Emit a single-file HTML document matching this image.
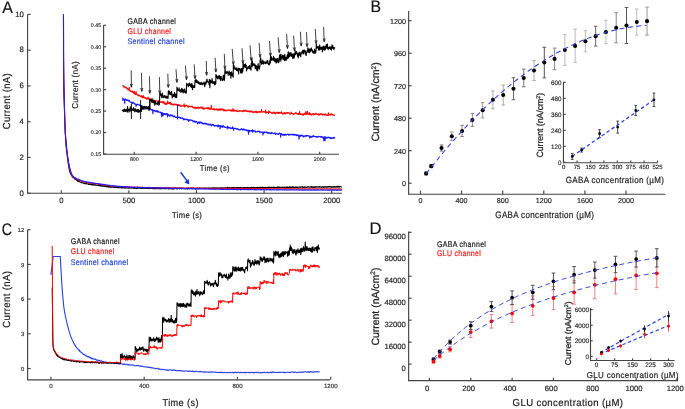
<!DOCTYPE html>
<html><head><meta charset="utf-8"><style>
html,body{margin:0;padding:0;background:#fff;overflow:hidden;}
svg{display:block;will-change:transform;}
text{font-family:"Liberation Sans", sans-serif;text-rendering:geometricPrecision;}
</style></head><body>
<svg width="685" height="409" viewBox="0 0 685 409">
<rect width="685" height="409" fill="#fff"/>
<text transform="translate(2.2,12.9) scale(0.95,1)" font-size="16.8" fill="#111" stroke="#111" stroke-width="0.15">A</text>
<line x1="27.55" y1="14.4" x2="27.55" y2="193.7" stroke="#444" stroke-width="1.15"/>
<line x1="27.55" y1="193.2" x2="342" y2="193.2" stroke="#444" stroke-width="1.15"/>
<line x1="27.55" y1="193.2" x2="30.55" y2="193.2" stroke="#444" stroke-width="1.15"/>
<text transform="translate(23.95,195.5)" font-size="7.8" text-anchor="end" fill="#222" stroke="#222" stroke-width="0.17">0</text>
<line x1="27.55" y1="157.44" x2="30.55" y2="157.44" stroke="#444" stroke-width="1.15"/>
<text transform="translate(23.95,159.74)" font-size="7.8" text-anchor="end" fill="#222" stroke="#222" stroke-width="0.17">2</text>
<line x1="27.55" y1="121.68" x2="30.55" y2="121.68" stroke="#444" stroke-width="1.15"/>
<text transform="translate(23.95,123.98)" font-size="7.8" text-anchor="end" fill="#222" stroke="#222" stroke-width="0.17">4</text>
<line x1="27.55" y1="85.92" x2="30.55" y2="85.92" stroke="#444" stroke-width="1.15"/>
<text transform="translate(23.95,88.22)" font-size="7.8" text-anchor="end" fill="#222" stroke="#222" stroke-width="0.17">6</text>
<line x1="27.55" y1="50.16" x2="30.55" y2="50.16" stroke="#444" stroke-width="1.15"/>
<text transform="translate(23.95,52.46)" font-size="7.8" text-anchor="end" fill="#222" stroke="#222" stroke-width="0.17">8</text>
<line x1="27.55" y1="14.4" x2="30.55" y2="14.4" stroke="#444" stroke-width="1.15"/>
<text transform="translate(23.95,16.7)" font-size="7.8" text-anchor="end" fill="#222" stroke="#222" stroke-width="0.17">10</text>
<line x1="61.3" y1="193.2" x2="61.3" y2="190.2" stroke="#444" stroke-width="1.15"/>
<text transform="translate(61.3,202.5)" font-size="7.7" text-anchor="middle" fill="#222" stroke="#222" stroke-width="0.17">0</text>
<line x1="128.9" y1="193.2" x2="128.9" y2="190.2" stroke="#444" stroke-width="1.15"/>
<text transform="translate(128.9,202.5)" font-size="7.7" text-anchor="middle" fill="#222" stroke="#222" stroke-width="0.17">500</text>
<line x1="196.5" y1="193.2" x2="196.5" y2="190.2" stroke="#444" stroke-width="1.15"/>
<text transform="translate(196.5,202.5)" font-size="7.7" text-anchor="middle" fill="#222" stroke="#222" stroke-width="0.17">1000</text>
<line x1="264.1" y1="193.2" x2="264.1" y2="190.2" stroke="#444" stroke-width="1.15"/>
<text transform="translate(264.1,202.5)" font-size="7.7" text-anchor="middle" fill="#222" stroke="#222" stroke-width="0.17">1500</text>
<line x1="331.7" y1="193.2" x2="331.7" y2="190.2" stroke="#444" stroke-width="1.15"/>
<text transform="translate(331.7,202.5)" font-size="7.7" text-anchor="middle" fill="#222" stroke="#222" stroke-width="0.17">2000</text>
<text transform="translate(187,218.4) scale(0.8985,1)" font-size="8.5" text-anchor="middle" textLength="33.17" lengthAdjust="spacing" fill="#222" stroke="#222" stroke-width="0.19">Time (s)</text>
<text transform="translate(9.5,101.3) rotate(-90) scale(0.9282,1)" font-size="10.2" text-anchor="middle" textLength="60.33" lengthAdjust="spacing" fill="#222" stroke="#222" stroke-width="0.2">Current (nA)</text>
<polyline points="63.33,14.4 63.41,14.4 63.48,14.4 63.56,58.11 63.64,71.81 63.71,79.13 63.79,84.84 63.87,89 63.94,92.65 64.02,95.74 64.1,98.54 64.18,101.05 64.25,103.97 64.33,106.64 64.41,109.48 64.48,111.94 64.56,114.65 64.64,117.23 64.71,119.73 64.79,121.92 64.87,124.06 64.95,126.2 65.02,127.84 65.1,129.77 65.18,132.33 65.25,133.8 65.33,134.96 65.41,136.44 65.48,137.61 65.56,138.83 65.64,139.58 65.72,141.36 65.79,142.24 65.87,142.71 65.95,143.95 66.02,144.84 66.1,145.96 66.18,147.03 66.25,147.43 66.33,148.21 66.41,149.24 66.49,149.84 66.56,150.41 66.64,151.28 66.72,151.77 66.79,152.38 66.87,153.03 66.95,153.78 67.02,154.17 67.1,154.72 67.18,155.46 67.26,156.31 67.33,156.58 67.41,157.45 67.49,157.76 67.56,158.78 67.64,158.95 67.72,159.74 67.79,160.59 67.87,160.96 67.95,161.45 68.03,161.96 68.1,162.78 68.18,163.35 68.26,163.6 68.33,164.27 68.41,164.63 68.49,165.01 68.56,166.02 68.64,166.09 68.72,166.34 68.8,167.12 68.87,167.67 68.95,167.76 69.03,168.28 69.1,168.54 69.18,169.19 69.26,169.8 69.33,169.86 69.41,170.28 69.41,170.02 69.61,170.98 69.82,172.11 70.02,172.65 70.22,172.74 70.43,173.25 70.63,173.96 70.83,174.22 71.03,174.49 71.24,174.83 71.44,175.07 71.64,175.51 71.85,175.87 72.05,176.17 72.25,176.14 72.45,177.09 72.66,176.87 72.86,177.05 73.06,177.57 73.27,177.4 73.47,177.8 73.67,177.66 73.87,178.05 74.08,178.06 74.28,178.11 74.48,178.46 74.68,178.89 74.89,179.19 75.09,178.65 75.29,179.2 75.5,179.48 75.7,179.45 75.9,179.67 76.1,179.59 76.31,179.9 76.51,180.04 76.71,180.33 76.92,180.21 77.12,180.66 77.32,180.42 77.52,180.35 77.73,181.13 77.93,181.44 78.13,180.89 78.34,180.59 78.54,181.46 78.74,181.61 78.94,181.32 79.15,181.72 79.35,181.75 79.55,181.81 79.75,181.71 79.96,182 80.16,181.93 80.36,182.12 80.57,182.34 80.77,182.3 80.97,182.52 81.17,182.38 81.38,182.7 81.58,182.76 81.78,182.28 81.99,182.67 82.19,182.73 82.39,182.67 82.59,182.93 82.8,182.95 83,182.86 83.2,182.95 83.41,183.31 83.61,182.93 83.81,183.29 84.01,183.44 84.22,183.45 84.42,183.39 84.62,183 84.82,183.64 85.03,183.4 85.23,183.94 85.43,183.52 85.64,183.37 85.84,183.65 86.04,183.77 86.24,183.63 86.45,183.56 86.65,183.61 86.85,183.36 87.06,183.78 87.26,183.98 87.46,183.92 87.66,183.94 87.87,183.93 88.07,183.99 88.27,183.98 88.48,184.41 88.68,183.9 88.88,184.24 89.08,184.4 89.29,184.04 89.49,183.92 89.69,184.13 89.89,184.23 90.1,184.49 90.3,183.7 90.5,184.16 90.71,184.62 90.91,184.57 91.11,184.41 91.31,184.79 91.52,184.45 91.72,184.61 91.92,184.28 92.13,184.36 92.33,185.18 92.53,184.61 92.73,185 92.94,184.44 93.14,184.66 93.34,184.61 93.55,184.98 93.75,184.39 93.95,184.37 94.15,185.06 94.36,184.78 94.56,185.03 94.76,184.92 94.96,185.21 95.17,184.56 95.37,185.2 95.57,185.08 95.78,184.93 95.98,185.21 96.18,185.15 96.38,185.24 96.59,185.18 96.79,185.43 96.99,185.29 97.2,185.27 97.4,185.33 97.6,185.27 97.8,185.37 98.01,185.17 98.21,185.43 98.41,185.42 98.62,185.56 98.82,185.56 99.02,185.74 99.22,185.39 99.43,185.77 99.63,185.72 99.83,185.51 100.03,185.53 100.24,185.73 100.44,186.1 100.64,185.61 100.85,185.67 101.05,186.06 101.25,185.62 101.45,185.96 101.66,186.08 101.86,185.85 102.06,185.94 102.27,185.89 102.47,186.3 102.67,185.6 102.87,186.14 103.08,186.37 103.28,185.94 103.48,186.18 103.69,186.06 103.89,186.23 104.09,186.19 104.29,186.16 104.5,186.4 104.7,186.12 104.9,186.39 105.1,186.5 105.31,186.33 105.51,186.28 105.71,186.45 105.92,186.61 106.12,186.32 106.32,186.85 106.52,186.72 106.73,186.52 106.93,186.84 107.13,186.57 107.34,186.61 107.54,186.43 107.74,186.84 107.94,186.8 108.15,186.62 108.35,187.24 108.55,186.07 108.76,186.91 108.96,186.94 109.16,186.62 109.36,186.84 109.57,187.23 109.77,186.74 109.97,186.71 110.17,187.01 110.38,186.99 110.58,186.85 110.78,187.17 110.99,186.9 111.19,186.97 111.39,187.17 111.59,187.34 111.8,187.11 112,187.27 112.2,186.88 112.41,187.08 112.61,186.96 112.81,187.12 113.01,187.11 113.22,187.35 113.42,187.05 113.62,186.83 113.83,187.29 114.03,187.37 114.23,187.29 114.43,187.37 114.64,187.43 114.84,187.26 115.04,187.37 115.24,187.01 115.45,187.33 115.65,187.27 115.85,187.15 116.06,187.43 116.26,187.07 116.46,187.52 116.66,187.57 116.87,187.49 117.07,187.44 117.27,187.73 117.48,187.45 117.68,187.81 117.88,187.16 118.08,187.49 118.29,187.62 118.49,187.69 118.69,187.59 118.9,187.56 119.1,187.75 119.3,187.73 119.5,187.58 119.71,187.67 119.91,187.36 120.11,187.33 120.31,187.58 120.52,187.49 120.72,187.89 120.92,187.47 121.13,187.62 121.33,187.52 121.53,187.29 121.73,188.13 121.94,187.6 122.14,187.9 122.34,187.54 122.55,187.96 122.75,187.79 122.95,187.65 123.15,187.57 123.36,187.69 123.56,187.89 123.76,187.84 123.97,187.54 124.17,187.74 124.37,188.11 124.57,187.58 124.78,187.67 124.98,187.58 125.18,187.85 125.38,187.61 125.59,188.02 125.79,187.68 125.99,187.91 126.2,187.67 126.4,187.6 126.6,187.98 126.8,187.84 127.01,187.83 127.21,187.59 127.41,187.7 127.62,188.12 127.82,187.77 128.02,187.71 128.22,187.42 128.43,188.25 128.63,188.01 128.83,187.61 129.04,188.19 129.24,188.17 129.44,187.8 129.64,187.7 129.85,188.07 130.05,187.82 130.25,187.91 130.45,187.62 130.66,187.95 130.86,187.74 131.06,188.15 131.27,188 131.47,187.99 131.67,187.73 131.87,187.86 132.08,188.15 132.28,187.85 132.48,187.83 132.69,188.03 132.89,188.06 133.09,188.05 133.29,188.38 133.5,187.98 133.7,187.98 133.9,188.22 134.11,187.88 134.31,188.34 134.51,188.16 134.71,188.15 134.92,187.63 135.12,188.4 135.32,187.94 135.52,187.87 135.73,187.99 135.93,187.83 136.13,188.3 136.34,188.58 136.54,187.93 136.74,188.36 136.94,188.17 137.15,188.36 137.35,187.89 137.55,187.93 137.76,188.28 137.96,187.93 138.16,188.11 138.36,188.17 138.57,188.13 138.77,188.19 138.97,188.02 139.18,188.09 139.38,188.24 139.58,187.95 139.78,188.3 139.99,188.11 140.19,188.09 140.39,187.87 140.59,188.3 140.8,187.82 141,188.16 141.2,188.25 141.41,188.35 141.61,188.09 141.81,188.21 142.01,188.46 142.22,188.47 142.42,188.35 142.62,188.38 142.83,188.01 143.03,187.95 143.23,188.06 143.43,188.18 143.64,188.35 143.84,188.25 144.04,188.08 144.25,187.81 144.45,188.08 144.65,188.34 144.85,188.27 145.06,188.39 145.26,188.46 145.46,188.33 145.66,188.26 145.87,187.91 146.07,188.3 146.27,188.02 146.48,187.94 146.68,188.3 146.88,187.98 147.08,188.17 147.29,188.42 147.49,188.28 147.69,188.33 147.9,188.39 148.1,188.39 148.3,188.32 148.5,188.26 148.71,188.55 148.91,188.36 149.11,188.69 149.32,188.31 149.52,188.24 149.72,188.34 149.92,188.32 150.13,188.26 150.33,188.53 150.53,188.44 150.73,188.28 150.94,188.18 151.14,188.31 151.34,187.85 151.55,188.43 151.75,188.19 151.95,188.14 152.15,188.44 152.36,188.59 152.56,188.68 152.76,188.39 152.97,188.19 153.17,188.37 153.37,188.4 153.57,188.52 153.78,188.32 153.98,188.9 154.18,188.39 154.39,188.44 154.59,188.74 154.79,187.99 154.99,188.75 155.2,188.69 155.4,188.72 155.6,188.23 155.8,188.66 156.01,188.32 156.21,188.34 156.41,188.42 156.62,188.76 156.82,188.61 157.02,188.12 157.22,188.76 157.43,188.66 157.63,188.52 157.83,188.32 158.04,188.44 158.24,188.33 158.44,188.72 158.64,188.29 158.85,188.38 159.05,188.84 159.25,188.17 159.46,188.01 159.66,188.67 159.86,188.5 160.06,188.21 160.27,188.83 160.47,188.94 160.67,188.79 160.87,188.64 161.08,188.64 161.28,188.39 161.48,188.46 161.69,188.79 161.89,188.4 162.09,188.12 162.29,188.27 162.5,188.32 162.7,188.53 162.9,188.32 163.11,188.74 163.31,188.37 163.51,188.55 163.71,188.29 163.92,188.44 164.12,188.77 164.32,188.51 164.53,188.28 164.73,188.78 164.93,188.66 165.13,188.71 165.34,188.86 165.54,188.34 165.74,188.26 165.94,188.37 166.15,188.49 166.35,188.56 166.55,188.5 166.76,188.7 166.96,188.36 167.16,188.32 167.36,188.35 167.57,188.66 167.77,188.53 167.97,188.59 168.18,188.17 168.38,188.51 168.58,188.95 168.78,188.47 168.99,188.15 169.19,188.4 169.39,188.36 169.6,188.54 169.8,188.97 170,188.94 170.2,188.82 170.41,188.58 170.61,188.48 170.81,188.4 171.01,188.62 171.22,188.34 171.42,188.61 171.62,188.7 171.83,188.37 172.03,188.74 172.23,189.13 172.43,188.77 172.64,188.53 172.84,189.21 173.04,188.62 173.25,188.62 173.45,188.85 173.65,188.86 173.85,188.64 174.06,188.66 174.26,188.27 174.46,188.46 174.67,188.88 174.87,188.72 175.07,188.39 175.27,188.13 175.48,188.45 175.68,188.47 175.88,188.13 176.08,188.54 176.29,188.6 176.49,188.83 176.69,188.64 176.9,188.06 177.1,188.83 177.3,188.52 177.5,188.83 177.71,188.5 177.91,188.33 178.11,188.57 178.32,188.36 178.52,188.36 178.72,188.42 178.92,188.15 179.13,188.35 179.33,188.58 179.53,188.66 179.74,188.69 179.94,188.41 180.14,188.58 180.34,187.92 180.55,188.11 180.75,188.55 180.95,188.57 181.15,188.14 181.36,188.9 181.56,188.59 181.76,188.29 181.97,188.69 182.17,188.59 182.37,188.56 182.57,188.35 182.78,188.46 182.98,188.4 183.18,188.35 183.39,188.47 183.59,188.24 183.79,188.63 183.99,188.78 184.2,188.85 184.4,188.82 184.6,188.59 184.81,188.25 185.01,188.43 185.21,188.59 185.41,188.69 185.62,188.57 185.82,188.54 186.02,188.58 186.22,188.76 186.43,188.55 186.63,188.23 186.83,188.91 187.04,188.5 187.24,188.9 187.44,188.4 187.64,188.6 187.85,188.88 188.05,188.41 188.25,188.04 188.46,188.41 188.66,188.18 188.86,188.44 189.06,188.89 189.27,188.32 189.47,188.51 189.67,188.73 189.88,188.25 190.08,188.35 190.28,188.52 190.48,188.22 190.69,188.59 190.89,188.27 191.09,188.6 191.29,188.28 191.5,188.63 191.7,188.07 191.9,188.34 192.11,188.08 192.31,188.56 192.51,188.49 192.71,188.2 192.92,188.97 193.12,188.61 193.32,188.15 193.53,188.27 193.73,188.16 193.93,188.43 194.13,188.24 194.34,188.52 194.54,188.65 194.74,188.72 194.95,188.47 195.15,188.47 195.35,188.49 195.55,189.11 195.76,188.77 195.96,188.46 196.16,188.28 196.36,188.46 196.57,188.52 196.77,188.83 196.97,187.9 197.18,188.56 197.38,187.96 197.58,187.99 197.78,188.26 197.99,188.44 198.19,188.29 198.39,188.56 198.6,188.25 198.8,188.31 199,188.19 199.2,188.1 199.41,187.93 199.61,188.38 199.81,188.07 200.02,188.46 200.22,188.48 200.42,188.42 200.62,188.49 200.83,188.07 201.03,188.08 201.23,188 201.43,188.28 201.64,188.21 201.84,188.39 202.04,188.51 202.25,188.17 202.45,188.2 202.65,188.5 202.85,188.13 203.06,188.63 203.26,188.29 203.46,188.38 203.67,188.36 203.87,188.47 204.07,188.03 204.27,188.12 204.48,187.98 204.68,188.2 204.88,188.51 205.09,188.31 205.29,188.48 205.49,188.12 205.69,187.96 205.9,188.15 206.1,188.34 206.3,188.29 206.5,188.17 206.71,188.52 206.91,188.17 207.11,188.16 207.32,188.32 207.52,188.29 207.72,188.16 207.92,188.37 208.13,188.37 208.33,188.02 208.53,188.14 208.74,187.82 208.94,188.39 209.14,188.56 209.34,187.97 209.55,187.97 209.75,188.33 209.95,188.48 210.16,188.17 210.36,188.54 210.56,188.23 210.76,188.63 210.97,188.21 211.17,188.61 211.37,188.2 211.57,187.82 211.78,188.2 211.98,187.98 212.18,188.28 212.39,188.33 212.59,188.46 212.79,187.91 212.99,188.14 213.2,187.78 213.4,188.38 213.6,188.17 213.81,188.1 214.01,187.82 214.21,187.72 214.41,188.25 214.62,188.35 214.82,188.48 215.02,187.82 215.23,188.12 215.43,188.24 215.63,188.11 215.83,188.64 216.04,188.46 216.24,187.89 216.44,188 216.64,188.05 216.85,188.3 217.05,187.95 217.25,187.7 217.46,188.34 217.66,188.07 217.86,188.16 218.06,187.99 218.27,188.06 218.47,188.09 218.67,188.25 218.88,188.06 219.08,188.19 219.28,188.08 219.48,188.06 219.69,187.91 219.89,188.17 220.09,188.11 220.3,187.81 220.5,188.08 220.7,188.09 220.9,187.85 221.11,187.97 221.31,188.01 221.51,187.98 221.71,188.29 221.92,187.92 222.12,187.73 222.32,187.89 222.53,188.35 222.73,187.95 222.93,188.2 223.13,188.05 223.34,187.97 223.54,188.25 223.74,187.71 223.95,188.01 224.15,187.82 224.35,187.85 224.55,187.7 224.76,187.73 224.96,188.3 225.16,187.97 225.37,188.43 225.57,188.07 225.77,187.82 225.97,187.77 226.18,187.69 226.38,188.04 226.58,187.89 226.78,187.94 226.99,187.68 227.19,187.61 227.39,188.03 227.6,187.13 227.8,187.95 228,188.02 228.2,187.81 228.41,187.77 228.61,187.82 228.81,188.07 229.02,187.61 229.22,187.92 229.42,187.59 229.62,187.62 229.83,188.19 230.03,188.13 230.23,188.13 230.44,187.86 230.64,187.9 230.84,187.85 231.04,188.08 231.25,187.81 231.45,187.6 231.65,188.18 231.85,187.94 232.06,187.84 232.26,187.92 232.46,187.93 232.67,187.51 232.87,187.61 233.07,187.7 233.27,188.04 233.48,187.4 233.68,187.8 233.88,188 234.09,187.94 234.29,187.97 234.49,187.41 234.69,187.82 234.9,187.85 235.1,188.32 235.3,187.7 235.51,188.08 235.71,188.1 235.91,187.72 236.11,188.03 236.32,187.67 236.52,187.6 236.72,188.23 236.92,187.87 237.13,188.18 237.33,187.85 237.53,187.64 237.74,188.12 237.94,187.44 238.14,187.89 238.34,188.08 238.55,187.85 238.75,187.65 238.95,188.12 239.16,187.82 239.36,188.11 239.56,187.56 239.76,187.78 239.97,187.9 240.17,187.59 240.37,188.08 240.58,187.89 240.78,187.41 240.98,187.83 241.18,187.51 241.39,187.75 241.59,187.94 241.79,187.84 241.99,187.77 242.2,187.88 242.4,187.96 242.6,187.95 242.81,188.1 243.01,187.76 243.21,187.69 243.41,187.61 243.62,188.16 243.82,187.6 244.02,187.77 244.23,188.07 244.43,187.74 244.63,187.59 244.83,187.65 245.04,187.6 245.24,187.55 245.44,187.56 245.65,187.76 245.85,188.2 246.05,187.91 246.25,187.67 246.46,187.84 246.66,187.59 246.86,187.57 247.06,187.73 247.27,187.33 247.47,187.94 247.67,187.53 247.88,187.83 248.08,187.89 248.28,187.6 248.48,187.85 248.69,187.54 248.89,187.97 249.09,187.71 249.3,187.89 249.5,187.76 249.7,187.79 249.9,187.95 250.11,187.56 250.31,187.97 250.51,187.91 250.72,187.51 250.92,187.49 251.12,187.55 251.32,187.62 251.53,187.2 251.73,187.95 251.93,187.85 252.13,187.9 252.34,187.49 252.54,187.62 252.74,187.44 252.95,187.47 253.15,187.72 253.35,187.85 253.55,187.88 253.76,187.19 253.96,187.46 254.16,187.53 254.37,187.73 254.57,187.7 254.77,187.73 254.97,187.72 255.18,188.17 255.38,187.66 255.58,187.73 255.79,187.58 255.99,187.6 256.19,187.46 256.39,187.64 256.6,187.47 256.8,188.18 257,187.87 257.2,187.26 257.41,187.89 257.61,187.69 257.81,187.47 258.02,187.81 258.22,187.46 258.42,187.92 258.62,188.03 258.83,187.9 259.03,187.97 259.23,187.61 259.44,187.67 259.64,187.53 259.84,187.82 260.04,187.05 260.25,187.62 260.45,187.61 260.65,187.5 260.86,187.64 261.06,187.72 261.26,187.57 261.46,187.39 261.67,187.44 261.87,187.38 262.07,187.7 262.27,187.74 262.48,187.14 262.68,187.62 262.88,187.47 263.09,187.41 263.29,187.26 263.49,187.85 263.69,187.66 263.9,187.65 264.1,187.62 264.3,188.07 264.51,187.57 264.71,188.17 264.91,187.48 265.11,187.43 265.32,187.42 265.52,187.8 265.72,187.33 265.93,187.72 266.13,187.8 266.33,187.74 266.53,187.71 266.74,187.49 266.94,187.35 267.14,187.98 267.34,187.64 267.55,187.33 267.75,187.47 267.95,187.41 268.16,187.83 268.36,187.31 268.56,187.84 268.76,187.46 268.97,187.21 269.17,187.1 269.37,187.39 269.58,187.31 269.78,187.62 269.98,187.6 270.18,187.24 270.39,187.49 270.59,187.51 270.79,187.79 271,187.45 271.2,187.34 271.4,187.65 271.6,187.58 271.81,187.13 272.01,187.43 272.21,187.53 272.41,187.71 272.62,187.6 272.82,187.52 273.02,187.17 273.23,187.59 273.43,187.07 273.63,187.65 273.83,187.53 274.04,187.27 274.24,187.5 274.44,187.62 274.65,187.47 274.85,187.35 275.05,187.81 275.25,187.49 275.46,187.46 275.66,187.52 275.86,187.27 276.07,187.55 276.27,187.5 276.47,187.42 276.67,187.27 276.88,187.47 277.08,187.09 277.28,187.61 277.48,187.14 277.69,187.6 277.89,187.44 278.09,187.33 278.3,186.96 278.5,187.21 278.7,187.49 278.9,187.12 279.11,187.44 279.31,187.56 279.51,187.3 279.72,187.37 279.92,187.18 280.12,187.5 280.32,187.3 280.53,187.25 280.73,187.32 280.93,187.38 281.14,187.53 281.34,187.18 281.54,187.34 281.74,187.26 281.95,187.44 282.15,187.36 282.35,187.59 282.55,187.34 282.76,187.19 282.96,187.34 283.16,187.17 283.37,187.29 283.57,187.06 283.77,187.39 283.97,187.7 284.18,187.25 284.38,187.38 284.58,187.55 284.79,187.2 284.99,187.28 285.19,187.24 285.39,187.4 285.6,187.29 285.8,187.27 286,186.94 286.21,187.47 286.41,187.32 286.61,187.24 286.81,187.69 287.02,187.66 287.22,186.85 287.42,187.69 287.62,187.18 287.83,187.49 288.03,187.47 288.23,187.73 288.44,187.49 288.64,187.13 288.84,187.59 289.04,187.17 289.25,187.22 289.45,186.86 289.65,187.39 289.86,187.01 290.06,187.09 290.26,187.34 290.46,187.64 290.67,186.95 290.87,187.57 291.07,187.37 291.28,187.08 291.48,187.03 291.68,187.45 291.88,187.27 292.09,187.32 292.29,187.01 292.49,186.72 292.69,187.65 292.9,187.06 293.1,187.86 293.3,187.25 293.51,187.49 293.71,186.82 293.91,187.21 294.11,187.4 294.32,187.35 294.52,187.36 294.72,187.19 294.93,187.27 295.13,187.09 295.33,186.9 295.53,187.08 295.74,187.49 295.94,187.57 296.14,187.38 296.35,186.99 296.55,187.29 296.75,187.36 296.95,187.18 297.16,187.51 297.36,187.45 297.56,187.1 297.76,187.27 297.97,187.3 298.17,187.13 298.37,187.32 298.58,187.34 298.78,187.29 298.98,187.06 299.18,187.18 299.39,187.44 299.59,187.25 299.79,187.04 300,186.78 300.2,187.42 300.4,187.1 300.6,187.23 300.81,187 301.01,187.07 301.21,186.85 301.42,187.05 301.62,187.28 301.82,187.28 302.02,187.07 302.23,187.07 302.43,186.64 302.63,186.79 302.83,187.4 303.04,187.07 303.24,187.43 303.44,187.5 303.65,186.98 303.85,187.02 304.05,187.36 304.25,186.78 304.46,187.34 304.66,187.38 304.86,186.99 305.07,187.08 305.27,187.16 305.47,187.14 305.67,187.07 305.88,187.15 306.08,187.16 306.28,187.52 306.49,187.4 306.69,186.98 306.89,187.26 307.09,186.99 307.3,186.84 307.5,187.18 307.7,187.04 307.9,186.65 308.11,186.95 308.31,186.7 308.51,186.76 308.72,186.93 308.92,187.11 309.12,187.27 309.32,187.32 309.53,186.98 309.73,186.98 309.93,187.12 310.14,186.9 310.34,187.2 310.54,186.83 310.74,187.06 310.95,187.08 311.15,187.07 311.35,187.09 311.56,186.53 311.76,187.41 311.96,187.02 312.16,186.79 312.37,186.9 312.57,187.12 312.77,186.68 312.97,187.28 313.18,187.33 313.38,186.92 313.58,187.35 313.79,187.55 313.99,186.85 314.19,186.87 314.39,186.88 314.6,187.14 314.8,186.99 315,187.24 315.21,186.65 315.41,186.85 315.61,186.86 315.81,187.44 316.02,186.84 316.22,186.7 316.42,186.75 316.63,186.84 316.83,187.01 317.03,187.08 317.23,186.88 317.44,186.92 317.64,186.95 317.84,187.07 318.04,186.64 318.25,187.25 318.45,187 318.65,187.12 318.86,186.77 319.06,186.68 319.26,186.72 319.46,186.82 319.67,187.28 319.87,186.53 320.07,186.87 320.28,187 320.48,186.97 320.68,187.04 320.88,186.88 321.09,186.9 321.29,187.04 321.49,187.51 321.7,186.97 321.9,186.86 322.1,186.84 322.3,186.99 322.51,186.86 322.71,186.73 322.91,187.05 323.11,186.63 323.32,187.36 323.52,187.21 323.72,187.14 323.93,187.46 324.13,187.15 324.33,186.67 324.53,186.67 324.74,186.91 324.94,186.56 325.14,186.88 325.35,187.03 325.55,186.87 325.75,186.95 325.95,186.76 326.16,187.24 326.36,186.7 326.56,187.01 326.77,186.73 326.97,187.24 327.17,187 327.37,186.89 327.58,186.71 327.78,187.16 327.98,186.54 328.18,186.79 328.39,187.01 328.59,186.63 328.79,186.87 329,186.64 329.2,186.39 329.4,186.72 329.6,187 329.81,186.97 330.01,186.75 330.21,186.82 330.42,187.05 330.62,187.02 330.82,186.73 331.02,186.37 331.23,187.43 331.43,186.71 331.63,186.91 331.84,186.69 332.04,186.67 332.24,186.85 332.44,187.07 332.65,187.15 332.85,187.25 333.05,186.59 333.25,186.89 333.46,186.96 333.66,186.9 333.86,187.13 334.07,186.77 334.27,186.55 334.47,186.59 334.67,187.17 334.88,186.54 335.08,186.99 335.28,187.24 335.49,187.09 335.69,187.03 335.89,186.82 336.09,187.04 336.3,187.14 336.5,186.87 336.7,186.4 336.91,186.96 337.11,186.71 337.31,186.79 337.51,186.24 337.72,187.21 337.92,186.57 338.12,187.08 338.32,186.93 338.53,186.82 338.73,186.11 338.93,186.96 339.14,187.2 339.34,186.51 339.54,186.97 339.74,186.84 339.95,186.79 340.15,186.76 340.35,186.82 340.56,186.72 340.76,186.69 340.96,186.59 341.16,186.86 341.37,186.93 341.57,187 341.77,186.64" fill="none" stroke="#000" stroke-width="1.05" stroke-linejoin="round"/>
<polyline points="63.33,14.4 63.41,14.4 63.48,14.4 63.56,56 63.64,68.43 63.71,75.42 63.79,80.95 63.87,85.18 63.94,88.83 64.02,92.02 64.1,94.66 64.18,97.49 64.25,100.22 64.33,103.15 64.41,105.9 64.48,108.78 64.56,111.46 64.64,114.24 64.71,116.73 64.79,119.3 64.87,121.47 64.95,123.77 65.02,125.87 65.1,127.85 65.18,129.86 65.25,131.4 65.33,132.86 65.41,134.72 65.48,136.06 65.56,137.22 65.64,138.01 65.72,139.03 65.79,139.82 65.87,140.72 65.95,141.63 66.02,142.49 66.1,143.37 66.18,144.08 66.25,145.1 66.33,145.81 66.41,146.5 66.49,147.09 66.56,148.09 66.64,148.85 66.72,149.49 66.79,150.02 66.87,150.83 66.95,151.32 67.02,152.31 67.1,152.63 67.18,153.27 67.26,154.15 67.33,154.59 67.41,155.09 67.49,155.82 67.56,156.32 67.64,156.77 67.72,157.58 67.79,158.22 67.87,158.84 67.95,159.24 68.03,159.87 68.1,160.4 68.18,160.92 68.26,161.34 68.33,162.02 68.41,162.54 68.49,163.1 68.56,163.16 68.64,163.71 68.72,163.98 68.8,164.54 68.87,165 68.95,165.24 69.03,165.65 69.1,166.12 69.18,166.42 69.26,166.47 69.33,166.96 69.41,167.28 69.41,167.36 69.61,168.25 69.82,168.89 70.02,169.77 70.22,170.59 70.43,171.22 70.63,171.97 70.83,172.48 71.03,172.97 71.24,173.73 71.44,173.99 71.64,174.68 71.85,175.02 72.05,175.51 72.25,175.79 72.45,176.07 72.66,176.39 72.86,176.65 73.06,176.87 73.27,177.09 73.47,177.36 73.67,177.4 73.87,177.49 74.08,177.6 74.28,177.77 74.48,177.72 74.68,178.08 74.89,178.29 75.09,178.16 75.29,178.59 75.5,178.48 75.7,178.8 75.9,178.76 76.1,179.11 76.31,178.91 76.51,179.12 76.71,179.3 76.92,179.12 77.12,179.31 77.32,179.48 77.52,179.67 77.73,179.69 77.93,179.79 78.13,179.79 78.34,179.87 78.54,180.12 78.74,180.2 78.94,180.28 79.15,180.45 79.35,180.45 79.55,180.48 79.75,180.48 79.96,180.49 80.16,180.79 80.36,180.72 80.57,180.9 80.77,180.71 80.97,181 81.17,181.01 81.38,181.24 81.58,181.29 81.78,181.25 81.99,181.37 82.19,181.36 82.39,181.63 82.59,181.45 82.8,181.67 83,181.45 83.2,181.72 83.41,181.63 83.61,181.95 83.81,181.81 84.01,182 84.22,182.01 84.42,182 84.62,182.09 84.82,182.07 85.03,182.07 85.23,182.12 85.43,182.25 85.64,182.43 85.84,182.41 86.04,182.38 86.24,182.63 86.45,182.36 86.65,182.5 86.85,182.54 87.06,182.45 87.26,182.52 87.46,182.6 87.66,182.77 87.87,182.66 88.07,182.69 88.27,182.85 88.48,182.68 88.68,182.77 88.88,183.07 89.08,182.87 89.29,183.05 89.49,182.82 89.69,182.89 89.89,183.12 90.1,183.13 90.3,183.05 90.5,183.12 90.71,182.96 90.91,183.07 91.11,183.21 91.31,183.14 91.52,183.45 91.72,183.22 91.92,183.19 92.13,183.33 92.33,183.41 92.53,183.3 92.73,183.18 92.94,183.4 93.14,183.56 93.34,183.32 93.55,183.7 93.75,183.47 93.95,183.61 94.15,183.48 94.36,183.69 94.56,183.49 94.76,183.62 94.96,183.87 95.17,183.92 95.37,183.77 95.57,183.62 95.78,183.77 95.98,183.81 96.18,183.86 96.38,183.79 96.59,183.85 96.79,183.89 96.99,184.05 97.2,183.85 97.4,183.85 97.6,184.17 97.8,183.81 98.01,184.01 98.21,184.16 98.41,184.34 98.62,184.1 98.82,184.14 99.02,184.29 99.22,184.45 99.43,184.16 99.63,184.38 99.83,184.39 100.03,184.07 100.24,184.17 100.44,184.33 100.64,184.51 100.85,184.42 101.05,184.77 101.25,184.54 101.45,184.67 101.66,184.75 101.86,184.81 102.06,184.62 102.27,184.7 102.47,184.72 102.67,184.68 102.87,184.89 103.08,184.96 103.28,185.05 103.48,184.92 103.69,184.84 103.89,184.96 104.09,184.91 104.29,185.13 104.5,185.09 104.7,185.15 104.9,185.23 105.1,184.92 105.31,185.06 105.51,185.26 105.71,185.29 105.92,185.24 106.12,185.42 106.32,185.25 106.52,185.46 106.73,185.39 106.93,185.49 107.13,185.46 107.34,185.57 107.54,185.63 107.74,185.59 107.94,185.58 108.15,185.57 108.35,185.55 108.55,185.42 108.76,185.52 108.96,185.66 109.16,185.58 109.36,185.76 109.57,185.55 109.77,185.67 109.97,185.9 110.17,185.7 110.38,185.71 110.58,186.11 110.78,185.93 110.99,185.92 111.19,186.1 111.39,186.02 111.59,186.03 111.8,185.9 112,185.94 112.2,185.71 112.41,186.05 112.61,185.91 112.81,186.04 113.01,186.04 113.22,186.21 113.42,186.31 113.62,186.2 113.83,186.06 114.03,185.98 114.23,186.11 114.43,186.13 114.64,186.29 114.84,186.05 115.04,186.09 115.24,186.3 115.45,186.27 115.65,186.38 115.85,186.13 116.06,186.26 116.26,186.33 116.46,186.29 116.66,186.3 116.87,186.4 117.07,186.51 117.27,186.52 117.48,186.59 117.68,186.36 117.88,186.19 118.08,186.62 118.29,186.44 118.49,186.42 118.69,186.58 118.9,186.47 119.1,186.62 119.3,186.38 119.5,186.59 119.71,186.52 119.91,186.47 120.11,186.6 120.31,186.76 120.52,186.64 120.72,186.51 120.92,186.61 121.13,186.59 121.33,186.74 121.53,186.62 121.73,186.57 121.94,186.65 122.14,186.46 122.34,186.7 122.55,186.8 122.75,186.87 122.95,186.59 123.15,186.73 123.36,186.62 123.56,186.69 123.76,186.58 123.97,186.62 124.17,186.81 124.37,186.75 124.57,186.67 124.78,186.93 124.98,186.65 125.18,186.69 125.38,186.72 125.59,186.86 125.79,186.81 125.99,186.97 126.2,186.85 126.4,186.93 126.6,186.87 126.8,186.94 127.01,186.86 127.21,186.78 127.41,187.05 127.62,186.82 127.82,187.14 128.02,187.17 128.22,186.96 128.43,186.95 128.63,186.91 128.83,187.14 129.04,186.98 129.24,186.97 129.44,186.86 129.64,187.01 129.85,186.95 130.05,187.12 130.25,187.04 130.45,187.08 130.66,186.96 130.86,187.15 131.06,187.14 131.27,186.99 131.47,186.87 131.67,187.03 131.87,187.04 132.08,187.12 132.28,186.97 132.48,187.04 132.69,186.92 132.89,187.07 133.09,187.22 133.29,187.18 133.5,187.24 133.7,187.27 133.9,187.01 134.11,187.06 134.31,187.29 134.51,186.97 134.71,187.14 134.92,187.27 135.12,187.14 135.32,187.19 135.52,187.27 135.73,187.4 135.93,187.2 136.13,187.18 136.34,187.49 136.54,187.16 136.74,187.16 136.94,187.28 137.15,187.22 137.35,187.27 137.55,187.34 137.76,187.29 137.96,187.11 138.16,187.42 138.36,187.24 138.57,187.25 138.77,187.35 138.97,187.33 139.18,187.44 139.38,187.38 139.58,187.3 139.78,187.27 139.99,187.4 140.19,186.99 140.39,187.38 140.59,187.31 140.8,187.35 141,187.38 141.2,187.2 141.41,187.39 141.61,187.2 141.81,187.23 142.01,187.47 142.22,187.25 142.42,187.44 142.62,187.08 142.83,187.42 143.03,187.48 143.23,187.59 143.43,187.53 143.64,187.46 143.84,187.5 144.04,187.53 144.25,187.48 144.45,187.43 144.65,187.26 144.85,187.6 145.06,187.48 145.26,187.53 145.46,187.59 145.66,187.57 145.87,187.54 146.07,187.37 146.27,187.47 146.48,187.51 146.68,187.39 146.88,187.43 147.08,187.49 147.29,187.43 147.49,187.56 147.69,187.41 147.9,187.43 148.1,187.53 148.3,187.62 148.5,187.33 148.71,187.49 148.91,187.17 149.11,187.57 149.32,187.42 149.52,187.56 149.72,187.49 149.92,187.43 150.13,187.61 150.33,187.54 150.53,187.51 150.73,187.52 150.94,187.47 151.14,187.43 151.34,187.46 151.55,187.52 151.75,187.59 151.95,187.68 152.15,187.64 152.36,187.62 152.56,187.49 152.76,187.61 152.97,187.71 153.17,187.51 153.37,187.67 153.57,187.67 153.78,187.61 153.98,187.54 154.18,187.85 154.39,187.72 154.59,187.58 154.79,187.65 154.99,187.7 155.2,187.67 155.4,187.47 155.6,187.67 155.8,187.55 156.01,187.54 156.21,187.68 156.41,187.59 156.62,187.69 156.82,187.71 157.02,187.76 157.22,187.55 157.43,187.69 157.63,187.71 157.83,187.78 158.04,187.47 158.24,187.58 158.44,187.68 158.64,187.74 158.85,187.84 159.05,187.65 159.25,187.65 159.46,187.83 159.66,187.56 159.86,187.61 160.06,187.8 160.27,187.76 160.47,187.75 160.67,187.69 160.87,187.72 161.08,187.88 161.28,187.55 161.48,187.68 161.69,187.58 161.89,187.59 162.09,187.75 162.29,187.69 162.5,187.65 162.7,187.65 162.9,187.75 163.11,187.81 163.31,187.74 163.51,187.83 163.71,187.81 163.92,187.97 164.12,187.75 164.32,187.87 164.53,187.82 164.73,187.77 164.93,187.73 165.13,187.57 165.34,187.75 165.54,187.93 165.74,187.77 165.94,187.85 166.15,187.74 166.35,187.86 166.55,187.87 166.76,187.85 166.96,187.87 167.16,188 167.36,187.88 167.57,187.81 167.77,187.68 167.97,187.85 168.18,187.86 168.38,187.76 168.58,187.77 168.78,187.65 168.99,187.77 169.19,187.83 169.39,187.69 169.6,187.67 169.8,187.89 170,187.83 170.2,188.03 170.41,187.89 170.61,187.95 170.81,187.88 171.01,187.91 171.22,187.88 171.42,187.88 171.62,187.81 171.83,187.85 172.03,187.93 172.23,188.01 172.43,187.75 172.64,187.73 172.84,187.93 173.04,187.83 173.25,188.06 173.45,188.06 173.65,187.93 173.85,187.74 174.06,188.02 174.26,188 174.46,187.74 174.67,188.11 174.87,187.85 175.07,187.87 175.27,187.94 175.48,187.9 175.68,187.64 175.88,188.05 176.08,187.97 176.29,187.96 176.49,188.01 176.69,188.08 176.9,187.77 177.1,187.92 177.3,188.14 177.5,188.03 177.71,187.91 177.91,187.91 178.11,188.11 178.32,187.97 178.52,187.94 178.72,187.93 178.92,187.93 179.13,188.17 179.33,187.78 179.53,187.96 179.74,187.79 179.94,187.68 180.14,188 180.34,188.12 180.55,187.9 180.75,188.02 180.95,188.05 181.15,188.11 181.36,187.82 181.56,188.05 181.76,188.16 181.97,188.06 182.17,188.14 182.37,188 182.57,188.06 182.78,188.14 182.98,187.96 183.18,188.1 183.39,187.95 183.59,187.9 183.79,188.07 183.99,188.11 184.2,188.02 184.4,187.95 184.6,188.05 184.81,188.03 185.01,188.05 185.21,188.02 185.41,187.99 185.62,188.14 185.82,188.11 186.02,188.06 186.22,188.14 186.43,188.06 186.63,188.01 186.83,188.08 187.04,188.14 187.24,188.16 187.44,187.89 187.64,187.99 187.85,188.21 188.05,188.18 188.25,187.89 188.46,187.93 188.66,188.08 188.86,187.98 189.06,188.26 189.27,188.11 189.47,188.03 189.67,188.31 189.88,188.2 190.08,188.03 190.28,188 190.48,188.18 190.69,188.09 190.89,187.95 191.09,188.17 191.29,188.27 191.5,188.14 191.7,188.18 191.9,188 192.11,188.12 192.31,188.23 192.51,187.89 192.71,188.2 192.92,188.1 193.12,188.08 193.32,188.07 193.53,188.14 193.73,188.1 193.93,188.17 194.13,188.32 194.34,188.19 194.54,188.19 194.74,188.19 194.95,188.16 195.15,188.24 195.35,188.04 195.55,188.01 195.76,188.42 195.96,188.18 196.16,188.26 196.36,188.47 196.57,188.15 196.77,188.26 196.97,188.24 197.18,188.27 197.38,188.08 197.58,188.07 197.78,188.18 197.99,188.13 198.19,188.22 198.39,188.2 198.6,188.29 198.8,188.21 199,188.3 199.2,188.18 199.41,188.13 199.61,188.19 199.81,188.1 200.02,187.94 200.22,188.46 200.42,188.23 200.62,188.3 200.83,188.29 201.03,188.39 201.23,188.24 201.43,188.27 201.64,188.32 201.84,188.28 202.04,188.32 202.25,188.51 202.45,188.14 202.65,188.29 202.85,188.36 203.06,188.23 203.26,188.34 203.46,188.5 203.67,188.17 203.87,188.45 204.07,188.3 204.27,188.26 204.48,188.13 204.68,188.15 204.88,188.26 205.09,188.37 205.29,188.33 205.49,188.17 205.69,188.1 205.9,188.23 206.1,188.36 206.3,188.19 206.5,188.34 206.71,188.34 206.91,188.33 207.11,188.24 207.32,188.28 207.52,188.2 207.72,188.17 207.92,188.26 208.13,188.56 208.33,188.5 208.53,188.3 208.74,188.33 208.94,188.09 209.14,188.33 209.34,188.34 209.55,188.23 209.75,188.22 209.95,188.36 210.16,188.28 210.36,188.46 210.56,188.44 210.76,188.21 210.97,188.49 211.17,188.24 211.37,188.27 211.57,188.27 211.78,188.25 211.98,188.29 212.18,188.58 212.39,188.46 212.59,188.42 212.79,188.26 212.99,188.48 213.2,188.44 213.4,188.4 213.6,188.23 213.81,188.52 214.01,188.52 214.21,188.3 214.41,188.6 214.62,188.34 214.82,188.43 215.02,188.55 215.23,188.43 215.43,188.49 215.63,188.37 215.83,188.35 216.04,188.23 216.24,188.39 216.44,188.38 216.64,188.46 216.85,188.4 217.05,188.29 217.25,188.61 217.46,188.33 217.66,188.46 217.86,188.4 218.06,188.37 218.27,188.32 218.47,188.38 218.67,188.45 218.88,188.38 219.08,188.41 219.28,188.44 219.48,188.4 219.69,188.33 219.89,188.41 220.09,188.41 220.3,188.56 220.5,188.44 220.7,188.63 220.9,188.35 221.11,188.53 221.31,188.3 221.51,188.11 221.71,188.48 221.92,188.3 222.12,188.4 222.32,188.5 222.53,188.53 222.73,188.39 222.93,188.3 223.13,188.41 223.34,188.61 223.54,188.56 223.74,188.48 223.95,188.31 224.15,188.43 224.35,188.42 224.55,188.33 224.76,188.48 224.96,188.47 225.16,188.48 225.37,188.66 225.57,188.42 225.77,188.43 225.97,188.37 226.18,188.6 226.38,188.56 226.58,188.38 226.78,188.44 226.99,188.33 227.19,188.57 227.39,188.46 227.6,188.56 227.8,188.45 228,188.54 228.2,188.43 228.41,188.37 228.61,188.42 228.81,188.69 229.02,188.39 229.22,188.45 229.42,188.61 229.62,188.59 229.83,188.5 230.03,188.44 230.23,188.55 230.44,188.68 230.64,188.48 230.84,188.49 231.04,188.25 231.25,188.65 231.45,188.24 231.65,188.33 231.85,188.48 232.06,188.34 232.26,188.51 232.46,188.41 232.67,188.6 232.87,188.51 233.07,188.63 233.27,188.69 233.48,188.56 233.68,188.6 233.88,188.47 234.09,188.39 234.29,188.55 234.49,188.53 234.69,188.52 234.9,188.72 235.1,188.51 235.3,188.54 235.51,188.55 235.71,188.66 235.91,188.76 236.11,188.57 236.32,188.51 236.52,188.4 236.72,188.43 236.92,188.39 237.13,188.51 237.33,188.43 237.53,188.58 237.74,188.49 237.94,188.46 238.14,188.27 238.34,188.53 238.55,188.7 238.75,188.41 238.95,188.65 239.16,188.57 239.36,188.6 239.56,188.66 239.76,188.43 239.97,188.51 240.17,188.64 240.37,188.57 240.58,188.62 240.78,188.51 240.98,188.62 241.18,188.66 241.39,188.65 241.59,188.63 241.79,188.55 241.99,188.68 242.2,188.59 242.4,188.54 242.6,188.34 242.81,188.5 243.01,188.91 243.21,188.65 243.41,188.63 243.62,188.56 243.82,188.43 244.02,188.52 244.23,188.84 244.43,188.57 244.63,188.59 244.83,188.56 245.04,188.46 245.24,188.72 245.44,188.49 245.65,188.78 245.85,188.6 246.05,188.57 246.25,188.36 246.46,188.69 246.66,188.79 246.86,188.54 247.06,188.69 247.27,188.45 247.47,188.69 247.67,188.71 247.88,188.49 248.08,188.61 248.28,188.51 248.48,188.78 248.69,188.45 248.89,188.69 249.09,188.54 249.3,188.74 249.5,188.8 249.7,188.66 249.9,188.61 250.11,188.46 250.31,188.6 250.51,188.56 250.72,188.57 250.92,188.3 251.12,188.73 251.32,188.5 251.53,188.66 251.73,188.61 251.93,188.7 252.13,188.52 252.34,188.78 252.54,188.79 252.74,188.67 252.95,188.77 253.15,188.57 253.35,188.55 253.55,188.73 253.76,188.57 253.96,188.73 254.16,188.66 254.37,188.66 254.57,188.46 254.77,188.66 254.97,188.76 255.18,188.76 255.38,188.53 255.58,188.84 255.79,188.72 255.99,188.71 256.19,188.93 256.39,188.72 256.6,188.56 256.8,188.65 257,188.77 257.2,188.6 257.41,188.62 257.61,188.46 257.81,188.76 258.02,188.72 258.22,188.67 258.42,188.69 258.62,188.67 258.83,188.69 259.03,188.76 259.23,188.86 259.44,188.75 259.64,188.84 259.84,188.8 260.04,188.75 260.25,188.64 260.45,188.6 260.65,188.8 260.86,188.66 261.06,188.61 261.26,188.7 261.46,188.87 261.67,188.93 261.87,188.61 262.07,188.6 262.27,188.67 262.48,188.82 262.68,188.55 262.88,188.58 263.09,188.71 263.29,188.73 263.49,188.92 263.69,188.63 263.9,188.88 264.1,188.64 264.3,188.64 264.51,188.7 264.71,188.55 264.91,188.75 265.11,188.65 265.32,188.63 265.52,188.69 265.72,188.77 265.93,188.59 266.13,188.68 266.33,188.74 266.53,188.74 266.74,188.71 266.94,188.48 267.14,188.72 267.34,188.75 267.55,188.84 267.75,188.86 267.95,188.94 268.16,188.71 268.36,188.73 268.56,188.85 268.76,188.9 268.97,188.77 269.17,188.79 269.37,188.88 269.58,188.71 269.78,188.73 269.98,188.75 270.18,188.66 270.39,188.81 270.59,188.6 270.79,188.86 271,188.69 271.2,188.68 271.4,188.78 271.6,188.71 271.81,188.89 272.01,188.91 272.21,188.78 272.41,188.83 272.62,188.69 272.82,188.75 273.02,188.69 273.23,188.72 273.43,188.74 273.63,188.75 273.83,188.8 274.04,188.81 274.24,188.54 274.44,188.95 274.65,188.79 274.85,188.66 275.05,188.72 275.25,188.62 275.46,188.71 275.66,188.91 275.86,188.81 276.07,188.92 276.27,188.67 276.47,188.62 276.67,188.82 276.88,188.72 277.08,188.82 277.28,188.93 277.48,188.83 277.69,188.95 277.89,188.84 278.09,188.76 278.3,188.71 278.5,188.65 278.7,188.82 278.9,188.76 279.11,188.74 279.31,188.73 279.51,189.09 279.72,188.87 279.92,188.71 280.12,188.91 280.32,188.77 280.53,188.7 280.73,189 280.93,188.82 281.14,188.77 281.34,188.8 281.54,188.96 281.74,188.76 281.95,188.86 282.15,188.71 282.35,188.76 282.55,188.86 282.76,188.79 282.96,188.88 283.16,188.88 283.37,188.98 283.57,188.83 283.77,188.72 283.97,188.8 284.18,188.81 284.38,188.88 284.58,188.87 284.79,188.74 284.99,188.98 285.19,188.6 285.39,188.83 285.6,188.59 285.8,188.7 286,188.87 286.21,188.74 286.41,188.8 286.61,188.78 286.81,188.74 287.02,188.89 287.22,188.9 287.42,188.87 287.62,188.98 287.83,188.86 288.03,188.81 288.23,188.81 288.44,188.81 288.64,188.88 288.84,188.75 289.04,189.06 289.25,188.88 289.45,188.88 289.65,188.75 289.86,188.77 290.06,188.76 290.26,188.84 290.46,188.74 290.67,188.95 290.87,188.84 291.07,189.08 291.28,188.67 291.48,188.68 291.68,188.92 291.88,188.94 292.09,189.08 292.29,189.02 292.49,188.84 292.69,188.87 292.9,189.02 293.1,188.91 293.3,188.93 293.51,188.81 293.71,188.78 293.91,188.88 294.11,188.85 294.32,188.86 294.52,189.09 294.72,188.84 294.93,188.87 295.13,188.79 295.33,189.06 295.53,188.79 295.74,188.94 295.94,188.84 296.14,188.74 296.35,189.03 296.55,189.01 296.75,188.76 296.95,188.99 297.16,188.98 297.36,188.81 297.56,188.9 297.76,188.79 297.97,188.84 298.17,188.88 298.37,188.77 298.58,188.64 298.78,188.89 298.98,188.72 299.18,188.76 299.39,188.87 299.59,188.83 299.79,188.98 300,188.95 300.2,188.85 300.4,188.89 300.6,188.75 300.81,189.03 301.01,188.92 301.21,188.96 301.42,188.9 301.62,188.76 301.82,189.02 302.02,188.8 302.23,188.95 302.43,188.93 302.63,188.79 302.83,188.92 303.04,188.82 303.24,188.88 303.44,188.91 303.65,188.93 303.85,189.08 304.05,188.98 304.25,188.88 304.46,188.88 304.66,189.06 304.86,188.79 305.07,188.84 305.27,189.04 305.47,189.01 305.67,188.85 305.88,189.09 306.08,188.98 306.28,188.91 306.49,188.92 306.69,188.91 306.89,188.86 307.09,188.99 307.3,188.96 307.5,188.69 307.7,189.06 307.9,188.96 308.11,188.9 308.31,188.98 308.51,188.78 308.72,188.9 308.92,188.83 309.12,189.19 309.32,188.79 309.53,188.79 309.73,189 309.93,188.78 310.14,188.89 310.34,188.82 310.54,188.72 310.74,188.91 310.95,189.03 311.15,188.92 311.35,189.06 311.56,189.01 311.76,189 311.96,189 312.16,188.8 312.37,188.83 312.57,189.02 312.77,188.8 312.97,189.1 313.18,188.99 313.38,188.94 313.58,188.8 313.79,188.85 313.99,188.88 314.19,188.79 314.39,188.85 314.6,188.78 314.8,189.01 315,189.11 315.21,188.97 315.41,188.84 315.61,188.9 315.81,188.84 316.02,188.86 316.22,188.88 316.42,188.84 316.63,189.01 316.83,188.82 317.03,189.04 317.23,188.95 317.44,189.09 317.64,188.88 317.84,189.1 318.04,188.79 318.25,189.08 318.45,188.91 318.65,188.95 318.86,189.03 319.06,188.81 319.26,188.99 319.46,188.78 319.67,189.05 319.87,189.03 320.07,189.16 320.28,188.89 320.48,188.85 320.68,188.92 320.88,188.96 321.09,189.05 321.29,188.7 321.49,188.87 321.7,189.15 321.9,188.98 322.1,189.23 322.3,188.78 322.51,188.74 322.71,188.79 322.91,188.96 323.11,189.02 323.32,189.1 323.52,188.9 323.72,189.03 323.93,189 324.13,189.02 324.33,188.99 324.53,188.86 324.74,188.78 324.94,188.94 325.14,188.96 325.35,189.08 325.55,189.09 325.75,189.07 325.95,188.87 326.16,188.93 326.36,188.86 326.56,188.92 326.77,189.01 326.97,189.1 327.17,189 327.37,189.12 327.58,188.75 327.78,188.94 327.98,189.01 328.18,188.75 328.39,189.01 328.59,188.91 328.79,188.99 329,188.93 329.2,189.01 329.4,188.92 329.6,188.82 329.81,189.11 330.01,189.21 330.21,188.83 330.42,188.95 330.62,188.88 330.82,189 331.02,188.81 331.23,188.78 331.43,189.1 331.63,188.9 331.84,189.04 332.04,189.15 332.24,189.01 332.44,188.92 332.65,189.13 332.85,189.12 333.05,188.85 333.25,188.98 333.46,188.94 333.66,189.11 333.86,189.05 334.07,188.97 334.27,188.97 334.47,188.97 334.67,188.82 334.88,188.97 335.08,189.16 335.28,189.09 335.49,189 335.69,188.85 335.89,189.07 336.09,189.04 336.3,189 336.5,189.07 336.7,189.09 336.91,189.02 337.11,188.89 337.31,188.95 337.51,189.03 337.72,188.96 337.92,189.14 338.12,188.89 338.32,188.92 338.53,188.97 338.73,189.18 338.93,188.78 339.14,189.32 339.34,189.11 339.54,189.11 339.74,188.93 339.95,189.17 340.15,188.98 340.35,189.02 340.56,189.04 340.76,188.92 340.96,188.85 341.16,188.97 341.37,189.04 341.57,189.26 341.77,188.85" fill="none" stroke="#ff0000" stroke-width="1.05" stroke-linejoin="round"/>
<polyline points="63.33,14.4 63.41,14.4 63.48,14.4 63.56,54.01 63.64,66.89 63.71,73.79 63.79,79.42 63.87,83.51 63.94,87.2 64.02,89.7 64.1,92.95 64.18,95.72 64.25,98.44 64.33,101.37 64.41,104.31 64.48,107.03 64.56,109.66 64.64,112.42 64.71,114.82 64.79,117.45 64.87,119.77 64.95,121.78 65.02,124.04 65.1,126.18 65.18,127.99 65.25,129.62 65.33,131.02 65.41,132.8 65.48,134.12 65.56,135.12 65.64,136.43 65.72,137.29 65.79,138.01 65.87,138.92 65.95,139.85 66.02,140.65 66.1,142 66.18,142.29 66.25,143.4 66.33,144.31 66.41,144.83 66.49,145.54 66.56,146.47 66.64,147.3 66.72,147.87 66.79,148.6 66.87,149.09 66.95,149.87 67.02,150.62 67.1,151.14 67.18,151.97 67.26,152.71 67.33,153.12 67.41,153.74 67.49,154.47 67.56,155.16 67.64,155.62 67.72,156.6 67.79,156.73 67.87,157.33 67.95,158.19 68.03,158.5 68.1,159.18 68.18,159.46 68.26,160.37 68.33,160.71 68.41,160.96 68.49,161.36 68.56,162.29 68.64,162.5 68.72,162.8 68.8,163.35 68.87,163.43 68.95,164.2 69.03,164.34 69.1,164.9 69.18,164.9 69.26,165.46 69.33,165.86 69.41,166.39 69.41,165.91 69.61,166.92 69.82,167.77 70.02,168.53 70.22,169.42 70.43,170.3 70.63,171.02 70.83,171.68 71.03,171.99 71.24,172.98 71.44,173.39 71.64,173.84 71.85,174.21 72.05,174.57 72.25,175.2 72.45,175.59 72.66,175.63 72.86,175.7 73.06,176 73.27,176.29 73.47,176.57 73.67,176.67 73.87,176.92 74.08,176.94 74.28,177.33 74.48,177.34 74.68,177.52 74.89,177.56 75.09,177.73 75.29,177.52 75.5,177.79 75.7,177.91 75.9,178.52 76.1,178.39 76.31,178.53 76.51,178.47 76.71,178.98 76.92,178.58 77.12,178.7 77.32,179.14 77.52,179.19 77.73,179.26 77.93,179.24 78.13,179.24 78.34,179.13 78.54,179.55 78.74,179.5 78.94,179.67 79.15,179.52 79.35,179.75 79.55,179.74 79.75,180.17 79.96,180.12 80.16,180.29 80.36,180.03 80.57,180.22 80.77,180.43 80.97,180.52 81.17,180.46 81.38,180.69 81.58,180.79 81.78,180.66 81.99,180.44 82.19,180.88 82.39,180.99 82.59,181.14 82.8,181.22 83,181.01 83.2,181.02 83.41,181.2 83.61,181.21 83.81,181.29 84.01,181.34 84.22,181.63 84.42,181.53 84.62,181.5 84.82,181.68 85.03,181.68 85.23,181.78 85.43,181.75 85.64,181.63 85.84,181.86 86.04,181.86 86.24,181.77 86.45,181.83 86.65,181.72 86.85,182.3 87.06,181.92 87.26,182.15 87.46,182.1 87.66,182.04 87.87,182.04 88.07,182.08 88.27,182.25 88.48,182.07 88.68,182.38 88.88,182.39 89.08,182.29 89.29,182.52 89.49,182.16 89.69,182.36 89.89,182.23 90.1,182.57 90.3,182.66 90.5,182.61 90.71,182.56 90.91,182.78 91.11,182.67 91.31,182.76 91.52,182.55 91.72,182.91 91.92,182.7 92.13,182.97 92.33,183.04 92.53,183.04 92.73,183.13 92.94,182.97 93.14,182.88 93.34,183.03 93.55,182.99 93.75,182.88 93.95,183.1 94.15,183.14 94.36,183.24 94.56,183.46 94.76,183.15 94.96,183.54 95.17,183.22 95.37,183.34 95.57,183.21 95.78,183.41 95.98,183.55 96.18,183.41 96.38,183.57 96.59,183.54 96.79,183.54 96.99,183.6 97.2,183.63 97.4,183.76 97.6,183.69 97.8,184 98.01,183.75 98.21,183.93 98.41,183.63 98.62,183.63 98.82,184.13 99.02,183.86 99.22,183.93 99.43,184.09 99.63,183.9 99.83,184.07 100.03,184.29 100.24,184.1 100.44,184.12 100.64,184.11 100.85,184.34 101.05,184.1 101.25,184.12 101.45,184.42 101.66,184.38 101.86,184.33 102.06,184.43 102.27,184.13 102.47,184.39 102.67,184.59 102.87,184.59 103.08,184.52 103.28,184.21 103.48,184.6 103.69,184.59 103.89,184.56 104.09,184.67 104.29,184.37 104.5,184.8 104.7,184.65 104.9,184.77 105.1,184.73 105.31,185.02 105.51,184.63 105.71,184.93 105.92,184.94 106.12,185.1 106.32,185.1 106.52,184.95 106.73,184.92 106.93,184.98 107.13,184.94 107.34,185.04 107.54,185.17 107.74,185.08 107.94,185.15 108.15,185.27 108.35,185.18 108.55,185.13 108.76,185.31 108.96,185.42 109.16,185.29 109.36,185.15 109.57,185.48 109.77,185.49 109.97,185.52 110.17,185.35 110.38,185.81 110.58,185.52 110.78,185.43 110.99,185.74 111.19,185.43 111.39,185.59 111.59,185.77 111.8,185.69 112,185.96 112.2,185.84 112.41,185.52 112.61,185.94 112.81,185.57 113.01,185.86 113.22,185.73 113.42,185.89 113.62,186.24 113.83,186.02 114.03,185.93 114.23,186.14 114.43,186.19 114.64,185.96 114.84,186.13 115.04,186.3 115.24,186.17 115.45,185.97 115.65,186.18 115.85,186 116.06,185.93 116.26,186.16 116.46,186.35 116.66,186.39 116.87,186.22 117.07,186.11 117.27,186.22 117.48,186.2 117.68,186.36 117.88,186.27 118.08,186.39 118.29,186.39 118.49,186.55 118.69,186.6 118.9,186.46 119.1,186.57 119.3,186.57 119.5,186.35 119.71,186.48 119.91,186.06 120.11,186.36 120.31,186.6 120.52,186.42 120.72,186.49 120.92,186.66 121.13,186.42 121.33,186.7 121.53,187.05 121.73,186.51 121.94,186.73 122.14,186.44 122.34,186.76 122.55,186.85 122.75,186.48 122.95,186.87 123.15,186.7 123.36,186.54 123.56,186.74 123.76,186.78 123.97,186.77 124.17,186.68 124.37,186.93 124.57,186.74 124.78,186.76 124.98,186.52 125.18,186.92 125.38,187.01 125.59,186.79 125.79,186.97 125.99,186.88 126.2,186.92 126.4,186.78 126.6,187.05 126.8,186.98 127.01,187.35 127.21,187.12 127.41,186.79 127.62,187.12 127.82,187.13 128.02,187.22 128.22,186.97 128.43,187.04 128.63,187.25 128.83,186.99 129.04,187.06 129.24,187 129.44,187.21 129.64,186.88 129.85,187.08 130.05,187.17 130.25,187.24 130.45,187.21 130.66,187.06 130.86,187.23 131.06,187.05 131.27,187.13 131.47,187.03 131.67,187.12 131.87,187.25 132.08,187.52 132.28,187.22 132.48,187.16 132.69,187.25 132.89,187.21 133.09,187.36 133.29,187.36 133.5,187.45 133.7,187.12 133.9,187.3 134.11,187.41 134.31,187.53 134.51,187.37 134.71,187.15 134.92,187.3 135.12,187.48 135.32,187.18 135.52,187.18 135.73,187.26 135.93,187.29 136.13,187.25 136.34,187.34 136.54,187.31 136.74,187.54 136.94,187.22 137.15,187.41 137.35,187.16 137.55,187.75 137.76,187.36 137.96,187.33 138.16,187.53 138.36,187.42 138.57,187.38 138.77,187.42 138.97,187.58 139.18,187.53 139.38,187.37 139.58,187.34 139.78,187.52 139.99,187.52 140.19,187.51 140.39,187.4 140.59,187.7 140.8,187.75 141,187.55 141.2,187.73 141.41,187.66 141.61,187.57 141.81,187.52 142.01,187.75 142.22,187.48 142.42,187.86 142.62,187.53 142.83,187.84 143.03,187.8 143.23,187.53 143.43,187.69 143.64,187.75 143.84,187.71 144.04,187.58 144.25,187.66 144.45,187.66 144.65,187.51 144.85,187.77 145.06,187.74 145.26,187.75 145.46,187.52 145.66,187.55 145.87,187.51 146.07,187.7 146.27,187.72 146.48,187.59 146.68,187.77 146.88,187.6 147.08,187.62 147.29,187.83 147.49,187.74 147.69,187.75 147.9,187.49 148.1,187.37 148.3,187.76 148.5,187.75 148.71,188.09 148.91,187.73 149.11,187.77 149.32,187.93 149.52,187.66 149.72,188.01 149.92,187.82 150.13,187.77 150.33,187.97 150.53,187.68 150.73,187.65 150.94,188.01 151.14,188.01 151.34,187.73 151.55,187.83 151.75,188 151.95,187.87 152.15,187.85 152.36,187.86 152.56,187.72 152.76,187.79 152.97,187.6 153.17,187.66 153.37,187.76 153.57,187.71 153.78,187.68 153.98,187.77 154.18,188.05 154.39,187.76 154.59,187.87 154.79,187.66 154.99,187.88 155.2,187.82 155.4,187.85 155.6,187.67 155.8,187.88 156.01,187.95 156.21,187.87 156.41,187.99 156.62,187.9 156.82,187.93 157.02,187.9 157.22,187.66 157.43,188 157.63,187.94 157.83,187.98 158.04,187.86 158.24,188.13 158.44,188.06 158.64,187.97 158.85,187.89 159.05,187.98 159.25,188.05 159.46,188.11 159.66,187.92 159.86,187.79 160.06,187.95 160.27,187.97 160.47,187.94 160.67,188.14 160.87,188.06 161.08,188.06 161.28,187.98 161.48,188.03 161.69,188.2 161.89,187.87 162.09,187.8 162.29,188.08 162.5,187.99 162.7,188.01 162.9,187.94 163.11,188.27 163.31,187.83 163.51,188.13 163.71,187.89 163.92,188.06 164.12,188.14 164.32,188.1 164.53,187.96 164.73,188.22 164.93,188.15 165.13,188.17 165.34,188.35 165.54,187.92 165.74,188.03 165.94,188.12 166.15,187.96 166.35,188.26 166.55,188.14 166.76,187.89 166.96,188 167.16,188.46 167.36,188.62 167.57,188.3 167.77,188.01 167.97,188.23 168.18,188.2 168.38,188.08 168.58,188.3 168.78,188.15 168.99,188.07 169.19,188.12 169.39,188.14 169.6,188.28 169.8,188.13 170,188.27 170.2,188.02 170.41,187.85 170.61,188.32 170.81,188.53 171.01,188.29 171.22,188.18 171.42,188.09 171.62,188.09 171.83,188.36 172.03,188.36 172.23,188.07 172.43,188.42 172.64,188.11 172.84,188.3 173.04,188.16 173.25,188.18 173.45,188.17 173.65,188.17 173.85,188.43 174.06,188.25 174.26,188.3 174.46,188.26 174.67,188.13 174.87,188.35 175.07,188.42 175.27,188.43 175.48,188.37 175.68,188.22 175.88,188.45 176.08,188.18 176.29,188.3 176.49,188.38 176.69,188.55 176.9,188.32 177.1,188.27 177.3,188.62 177.5,188.2 177.71,188.14 177.91,188.33 178.11,188.32 178.32,188.05 178.52,188.22 178.72,188.53 178.92,188.41 179.13,188.43 179.33,188.44 179.53,188.76 179.74,188.32 179.94,188.52 180.14,188.41 180.34,188.46 180.55,188.32 180.75,188.49 180.95,188.57 181.15,188.38 181.36,188.26 181.56,188.51 181.76,188.27 181.97,188.44 182.17,188.56 182.37,188.27 182.57,188.61 182.78,188.35 182.98,188.57 183.18,188.44 183.39,188.68 183.59,188.63 183.79,188.36 183.99,188.49 184.2,188.52 184.4,188.59 184.6,188.47 184.81,188.74 185.01,188.7 185.21,188.57 185.41,188.67 185.62,188.66 185.82,188.57 186.02,188.58 186.22,188.6 186.43,188.34 186.63,188.43 186.83,188.41 187.04,188.59 187.24,188.66 187.44,188.8 187.64,188.65 187.85,188.9 188.05,188.69 188.25,188.51 188.46,188.39 188.66,188.49 188.86,188.75 189.06,188.56 189.27,188.75 189.47,188.52 189.67,188.66 189.88,188.53 190.08,188.29 190.28,188.53 190.48,188.33 190.69,188.64 190.89,188.72 191.09,188.49 191.29,188.43 191.5,188.76 191.7,188.68 191.9,188.9 192.11,188.73 192.31,188.58 192.51,188.72 192.71,188.79 192.92,188.92 193.12,188.67 193.32,188.61 193.53,188.64 193.73,188.7 193.93,188.92 194.13,188.49 194.34,188.75 194.54,188.77 194.74,188.65 194.95,189.07 195.15,188.77 195.35,188.79 195.55,188.72 195.76,188.58 195.96,188.71 196.16,189.05 196.36,188.84 196.57,188.76 196.77,188.78 196.97,188.98 197.18,189.04 197.38,188.73 197.58,188.76 197.78,188.82 197.99,189.07 198.19,188.57 198.39,189.25 198.6,188.89 198.8,188.54 199,188.87 199.2,188.81 199.41,189.02 199.61,188.66 199.81,189.04 200.02,188.83 200.22,188.85 200.42,189.02 200.62,188.75 200.83,189.08 201.03,188.98 201.23,188.89 201.43,188.95 201.64,188.83 201.84,188.77 202.04,188.95 202.25,188.99 202.45,188.99 202.65,188.97 202.85,188.8 203.06,188.95 203.26,188.87 203.46,188.94 203.67,189.06 203.87,188.82 204.07,189.09 204.27,188.95 204.48,188.74 204.68,189.11 204.88,188.97 205.09,189.19 205.29,189.04 205.49,189.18 205.69,189.03 205.9,189.06 206.1,188.96 206.3,188.76 206.5,188.95 206.71,188.9 206.91,189 207.11,189.04 207.32,189.12 207.52,189.27 207.72,189 207.92,188.78 208.13,188.95 208.33,189.1 208.53,188.79 208.74,189.09 208.94,189.12 209.14,189.21 209.34,189.18 209.55,189.08 209.75,188.76 209.95,189.08 210.16,189.2 210.36,189.15 210.56,189.1 210.76,189.31 210.97,189.05 211.17,188.97 211.37,189.03 211.57,189 211.78,189.27 211.98,189.33 212.18,188.91 212.39,188.94 212.59,189.32 212.79,189.07 212.99,189.1 213.2,189.03 213.4,189.08 213.6,189.19 213.81,189.09 214.01,189.1 214.21,189.13 214.41,189.4 214.62,189.56 214.82,189.25 215.02,189.37 215.23,189.11 215.43,189.04 215.63,189.11 215.83,189.21 216.04,189.15 216.24,188.99 216.44,189.27 216.64,189.04 216.85,189.07 217.05,189.14 217.25,188.97 217.46,189.28 217.66,189.05 217.86,189.32 218.06,189.3 218.27,189.34 218.47,189.13 218.67,189.33 218.88,189.2 219.08,189.37 219.28,189.06 219.48,188.95 219.69,189.18 219.89,188.98 220.09,189.14 220.3,188.91 220.5,189.21 220.7,189.46 220.9,189.02 221.11,189.26 221.31,189.39 221.51,189.34 221.71,189.48 221.92,189.27 222.12,189.41 222.32,189.04 222.53,189.16 222.73,189.5 222.93,189.48 223.13,189.35 223.34,189.55 223.54,189.29 223.74,189.28 223.95,189.39 224.15,189.36 224.35,189.21 224.55,189.08 224.76,189.08 224.96,189.29 225.16,189.17 225.37,189.41 225.57,189.24 225.77,189.44 225.97,189.2 226.18,189.49 226.38,189.45 226.58,189.32 226.78,189.24 226.99,189.53 227.19,189.4 227.39,189.31 227.6,189.3 227.8,189.45 228,189.32 228.2,189.38 228.41,189.14 228.61,189.26 228.81,189.54 229.02,189.66 229.22,189.34 229.42,189.19 229.62,189.33 229.83,189.23 230.03,189.43 230.23,189.56 230.44,189.26 230.64,189.36 230.84,189.27 231.04,189.57 231.25,189.35 231.45,189.47 231.65,189.27 231.85,189.47 232.06,189.47 232.26,189.47 232.46,189.21 232.67,189.39 232.87,189.51 233.07,189.55 233.27,189.55 233.48,189.2 233.68,189.67 233.88,189.53 234.09,189.32 234.29,189.25 234.49,189.44 234.69,189.31 234.9,189.31 235.1,189.28 235.3,189.42 235.51,189.19 235.71,189.4 235.91,189.21 236.11,189.59 236.32,189.3 236.52,189.62 236.72,189.65 236.92,189.37 237.13,189.56 237.33,189.38 237.53,189.6 237.74,189.22 237.94,189.45 238.14,189.61 238.34,189.43 238.55,189.33 238.75,189.57 238.95,189.39 239.16,189.17 239.36,189.34 239.56,189.47 239.76,189.55 239.97,189.39 240.17,189.69 240.37,189.91 240.58,189.57 240.78,189.63 240.98,189.23 241.18,189.46 241.39,189.62 241.59,189.65 241.79,189.42 241.99,189.61 242.2,189.57 242.4,189.51 242.6,189.48 242.81,189.48 243.01,189.48 243.21,189.31 243.41,189.26 243.62,189.74 243.82,189.14 244.02,189.49 244.23,189.33 244.43,189.62 244.63,189.47 244.83,189.49 245.04,189.5 245.24,189.4 245.44,189.43 245.65,189.67 245.85,189.54 246.05,189.42 246.25,189.43 246.46,189.58 246.66,189.57 246.86,189.56 247.06,189.7 247.27,189.72 247.47,189.32 247.67,189.6 247.88,189.53 248.08,189.66 248.28,189.37 248.48,189.3 248.69,189.59 248.89,189.48 249.09,189.67 249.3,189.31 249.5,189.43 249.7,189.68 249.9,189.39 250.11,189.52 250.31,189.51 250.51,189.52 250.72,189.67 250.92,189.65 251.12,189.49 251.32,189.59 251.53,189.72 251.73,189.29 251.93,189.62 252.13,189.67 252.34,189.69 252.54,189.49 252.74,189.46 252.95,189.56 253.15,189.47 253.35,189.81 253.55,189.66 253.76,189.67 253.96,189.61 254.16,189.54 254.37,189.9 254.57,189.17 254.77,189.74 254.97,189.57 255.18,189.5 255.38,189.5 255.58,189.59 255.79,190.04 255.99,189.78 256.19,189.52 256.39,189.76 256.6,189.78 256.8,189.97 257,189.46 257.2,189.57 257.41,189.77 257.61,189.66 257.81,189.66 258.02,189.81 258.22,189.69 258.42,189.62 258.62,189.58 258.83,189.48 259.03,189.65 259.23,189.73 259.44,189.6 259.64,189.75 259.84,189.85 260.04,189.5 260.25,189.72 260.45,189.65 260.65,189.58 260.86,189.83 261.06,189.59 261.26,189.61 261.46,189.69 261.67,189.63 261.87,189.79 262.07,190 262.27,189.73 262.48,189.82 262.68,189.57 262.88,189.66 263.09,189.77 263.29,189.69 263.49,189.5 263.69,189.54 263.9,189.65 264.1,189.64 264.3,189.75 264.51,189.73 264.71,189.62 264.91,189.73 265.11,189.67 265.32,189.87 265.52,189.95 265.72,189.96 265.93,189.78 266.13,189.53 266.33,189.55 266.53,189.87 266.74,189.95 266.94,189.61 267.14,189.66 267.34,189.93 267.55,189.58 267.75,189.71 267.95,189.55 268.16,189.69 268.36,189.61 268.56,189.7 268.76,189.88 268.97,189.78 269.17,189.84 269.37,189.63 269.58,189.89 269.78,189.97 269.98,189.66 270.18,189.59 270.39,189.55 270.59,189.6 270.79,189.98 271,189.86 271.2,189.84 271.4,189.77 271.6,190.07 271.81,189.77 272.01,189.73 272.21,189.91 272.41,189.76 272.62,189.6 272.82,189.77 273.02,189.63 273.23,189.63 273.43,189.72 273.63,189.73 273.83,189.84 274.04,189.61 274.24,189.85 274.44,189.89 274.65,189.69 274.85,189.9 275.05,189.73 275.25,189.64 275.46,189.78 275.66,189.78 275.86,189.67 276.07,189.69 276.27,190.02 276.47,189.99 276.67,189.61 276.88,189.75 277.08,190.11 277.28,190 277.48,189.81 277.69,189.95 277.89,189.75 278.09,189.8 278.3,189.75 278.5,189.98 278.7,189.73 278.9,189.54 279.11,189.94 279.31,189.64 279.51,189.68 279.72,189.73 279.92,189.84 280.12,190 280.32,189.96 280.53,189.72 280.73,189.69 280.93,189.66 281.14,189.7 281.34,189.71 281.54,189.9 281.74,190.01 281.95,189.81 282.15,189.77 282.35,189.83 282.55,190.06 282.76,189.92 282.96,190.06 283.16,189.83 283.37,190 283.57,189.88 283.77,189.81 283.97,189.84 284.18,189.66 284.38,190.02 284.58,190.17 284.79,189.73 284.99,189.66 285.19,189.66 285.39,189.82 285.6,189.79 285.8,189.85 286,190.05 286.21,189.95 286.41,189.8 286.61,189.96 286.81,189.6 287.02,190.1 287.22,189.94 287.42,189.72 287.62,189.97 287.83,190.04 288.03,190.08 288.23,189.99 288.44,189.67 288.64,189.83 288.84,189.81 289.04,189.96 289.25,189.77 289.45,189.88 289.65,190.03 289.86,189.96 290.06,189.87 290.26,189.73 290.46,189.91 290.67,189.83 290.87,189.61 291.07,190.02 291.28,190.08 291.48,189.76 291.68,189.84 291.88,189.92 292.09,189.87 292.29,189.96 292.49,189.84 292.69,189.96 292.9,189.8 293.1,190.08 293.3,190.03 293.51,189.9 293.71,189.99 293.91,189.82 294.11,189.93 294.32,190 294.52,189.89 294.72,190 294.93,190.15 295.13,190.09 295.33,190.04 295.53,190 295.74,189.92 295.94,189.8 296.14,189.85 296.35,189.68 296.55,189.75 296.75,189.96 296.95,189.7 297.16,189.77 297.36,190.01 297.56,189.9 297.76,189.79 297.97,189.91 298.17,189.8 298.37,189.89 298.58,189.85 298.78,189.99 298.98,189.9 299.18,190 299.39,189.86 299.59,190.2 299.79,189.91 300,189.78 300.2,189.87 300.4,189.96 300.6,189.88 300.81,190.08 301.01,190.08 301.21,190.01 301.42,189.99 301.62,189.83 301.82,190.09 302.02,189.82 302.23,190.19 302.43,190.08 302.63,189.98 302.83,189.81 303.04,190.06 303.24,190.28 303.44,189.92 303.65,189.98 303.85,190.13 304.05,190.13 304.25,190.08 304.46,189.97 304.66,189.89 304.86,190.2 305.07,189.66 305.27,189.99 305.47,190.04 305.67,189.89 305.88,189.97 306.08,189.66 306.28,189.84 306.49,190.05 306.69,190.05 306.89,190.07 307.09,190.05 307.3,189.9 307.5,190.09 307.7,189.77 307.9,190.01 308.11,190.02 308.31,189.87 308.51,190.29 308.72,190.14 308.92,189.92 309.12,190.01 309.32,190.01 309.53,189.95 309.73,190.1 309.93,190.04 310.14,190.21 310.34,190.28 310.54,189.83 310.74,190.15 310.95,190.12 311.15,189.82 311.35,189.87 311.56,190.1 311.76,190.1 311.96,190.04 312.16,190.16 312.37,189.95 312.57,190.01 312.77,190.01 312.97,189.92 313.18,189.93 313.38,189.77 313.58,189.82 313.79,190.28 313.99,189.91 314.19,190.2 314.39,190.24 314.6,189.94 314.8,190.14 315,190.08 315.21,189.89 315.41,190.14 315.61,190.17 315.81,190 316.02,189.87 316.22,189.97 316.42,190.27 316.63,190.14 316.83,190.07 317.03,189.77 317.23,189.92 317.44,189.93 317.64,189.88 317.84,190.1 318.04,189.99 318.25,189.99 318.45,190.2 318.65,190.06 318.86,189.98 319.06,190.21 319.26,189.94 319.46,189.95 319.67,189.91 319.87,190.17 320.07,190.05 320.28,189.86 320.48,189.95 320.68,190.18 320.88,190.04 321.09,189.87 321.29,190.08 321.49,190.02 321.7,189.7 321.9,190.08 322.1,190.09 322.3,190.22 322.51,190.17 322.71,189.86 322.91,190.1 323.11,190.25 323.32,190.21 323.52,190.08 323.72,189.97 323.93,190.19 324.13,189.98 324.33,190.15 324.53,190.03 324.74,190.01 324.94,190 325.14,190.15 325.35,190.11 325.55,190.02 325.75,190.28 325.95,190.07 326.16,190.02 326.36,189.95 326.56,190.1 326.77,190.12 326.97,190.08 327.17,190.21 327.37,190.13 327.58,190.04 327.78,190.06 327.98,190.25 328.18,190.15 328.39,190.41 328.59,189.99 328.79,190.18 329,190.08 329.2,190.27 329.4,190.12 329.6,190.05 329.81,189.97 330.01,190.31 330.21,190 330.42,190.14 330.62,190.23 330.82,190.05 331.02,190.16 331.23,190.16 331.43,190.22 331.63,190.09 331.84,190.12 332.04,190.15 332.24,190.26 332.44,190.2 332.65,190.07 332.85,189.95 333.05,190.13 333.25,189.93 333.46,190.13 333.66,190.29 333.86,190.04 334.07,190.27 334.27,190.08 334.47,189.98 334.67,190.18 334.88,190.15 335.08,189.78 335.28,190.1 335.49,190.1 335.69,190.03 335.89,190.15 336.09,190.15 336.3,190.09 336.5,190.48 336.7,189.94 336.91,190.3 337.11,190.3 337.31,190.07 337.51,190.14 337.72,190.33 337.92,190.12 338.12,190.31 338.32,190.25 338.53,190.36 338.73,190.27 338.93,190.09 339.14,190.13 339.34,190.11 339.54,190.02 339.74,190.16 339.95,190.25 340.15,190.2 340.35,189.92 340.56,190.15 340.76,190.11 340.96,190.17 341.16,190.13 341.37,190.1 341.57,190.16 341.77,190.18" fill="none" stroke="#2020ff" stroke-width="1.05" stroke-linejoin="round"/>
<line x1="180.6" y1="172.3" x2="187.6" y2="181.6" stroke="#1a3ccc" stroke-width="1.5"/>
<polygon points="189.4,184.4 184.3,182.5 188.8,179" fill="#1a3ccc"/>
<line x1="103.6" y1="25" x2="103.6" y2="154.7" stroke="#444" stroke-width="1.15"/>
<line x1="103.6" y1="154.2" x2="339" y2="154.2" stroke="#444" stroke-width="1.15"/>
<line x1="103.6" y1="154" x2="106.1" y2="154" stroke="#444" stroke-width="1.15"/>
<text transform="translate(101.1,155.9)" font-size="5.3" text-anchor="end" fill="#222" stroke="#222" stroke-width="0.12">0.15</text>
<line x1="103.6" y1="132.55" x2="106.1" y2="132.55" stroke="#444" stroke-width="1.15"/>
<text transform="translate(101.1,134.45)" font-size="5.3" text-anchor="end" fill="#222" stroke="#222" stroke-width="0.12">0.20</text>
<line x1="103.6" y1="111.1" x2="106.1" y2="111.1" stroke="#444" stroke-width="1.15"/>
<text transform="translate(101.1,113)" font-size="5.3" text-anchor="end" fill="#222" stroke="#222" stroke-width="0.12">0.25</text>
<line x1="103.6" y1="89.65" x2="106.1" y2="89.65" stroke="#444" stroke-width="1.15"/>
<text transform="translate(101.1,91.55)" font-size="5.3" text-anchor="end" fill="#222" stroke="#222" stroke-width="0.12">0.30</text>
<line x1="103.6" y1="68.2" x2="106.1" y2="68.2" stroke="#444" stroke-width="1.15"/>
<text transform="translate(101.1,70.1)" font-size="5.3" text-anchor="end" fill="#222" stroke="#222" stroke-width="0.12">0.35</text>
<line x1="103.6" y1="46.75" x2="106.1" y2="46.75" stroke="#444" stroke-width="1.15"/>
<text transform="translate(101.1,48.65)" font-size="5.3" text-anchor="end" fill="#222" stroke="#222" stroke-width="0.12">0.40</text>
<line x1="103.6" y1="25.3" x2="106.1" y2="25.3" stroke="#444" stroke-width="1.15"/>
<text transform="translate(101.1,27.2)" font-size="5.3" text-anchor="end" fill="#222" stroke="#222" stroke-width="0.12">0.45</text>
<line x1="134.3" y1="154.2" x2="134.3" y2="151.7" stroke="#444" stroke-width="1.15"/>
<text transform="translate(134.3,161)" font-size="5.3" text-anchor="middle" fill="#222" stroke="#222" stroke-width="0.12">800</text>
<line x1="196.1" y1="154.2" x2="196.1" y2="151.7" stroke="#444" stroke-width="1.15"/>
<text transform="translate(196.1,161)" font-size="5.3" text-anchor="middle" fill="#222" stroke="#222" stroke-width="0.12">1200</text>
<line x1="257.9" y1="154.2" x2="257.9" y2="151.7" stroke="#444" stroke-width="1.15"/>
<text transform="translate(257.9,161)" font-size="5.3" text-anchor="middle" fill="#222" stroke="#222" stroke-width="0.12">1600</text>
<line x1="319.7" y1="154.2" x2="319.7" y2="151.7" stroke="#444" stroke-width="1.15"/>
<text transform="translate(319.7,161)" font-size="5.3" text-anchor="middle" fill="#222" stroke="#222" stroke-width="0.12">2000</text>
<text transform="translate(214.7,170.7) scale(0.9283,1)" font-size="8.2" text-anchor="middle" textLength="32.00" lengthAdjust="spacing" fill="#222" stroke="#222" stroke-width="0.18">Time (s)</text>
<text transform="translate(78,85.1) rotate(-90) scale(0.9318,1)" font-size="8.6" text-anchor="middle" textLength="50.87" lengthAdjust="spacing" fill="#222" stroke="#222" stroke-width="0.19">Current (nA)</text>
<text transform="translate(127.5,23.7) scale(0.8440,1)" font-size="8.2" textLength="57.35" lengthAdjust="spacing" fill="#111" stroke="#111" stroke-width="0.18">GABA channel</text>
<text transform="translate(127.5,33.6) scale(0.8433,1)" font-size="8.2" textLength="51.46" lengthAdjust="spacing" fill="#ff1010" stroke="#ff1010" stroke-width="0.18">GLU channel</text>
<text transform="translate(127.5,43.5) scale(0.8774,1)" font-size="8.2" textLength="65.19" lengthAdjust="spacing" fill="#2040e0" stroke="#2040e0" stroke-width="0.18">Sentinel channel</text>
<polyline points="122.3,85.69 122.6,85.89 122.9,85.95 123.2,85.71 123.5,86.03 123.8,86.49 124.1,87.14 124.4,86.62 124.7,86.86 125,87.24 125.3,87.08 125.6,87.31 125.9,88.08 126.2,87.54 126.5,87.81 126.8,87.81 127.1,88.63 127.4,88.51 127.7,88.6 128,89.57 128.3,90.1 128.6,89.63 128.9,89.72 129.2,87.29 129.5,90.03 129.8,90.48 130.1,91.37 130.4,90.75 130.7,91.05 131,91.19 131.3,91.41 131.6,91.09 131.9,91.01 132.2,92.31 132.5,91.71 132.8,91.23 133.1,91.91 133.4,92.5 133.7,93.41 134,93.48 134.3,91.31 134.6,93.35 134.9,93.91 135.2,94.63 135.5,93.64 135.8,94.03 136.1,91.57 136.4,94.02 136.7,94.32 137,94.56 137.3,94.91 137.6,94.81 137.9,95.66 138.2,95.07 138.5,95.83 138.8,95.42 139.1,95.08 139.4,95.73 139.7,95.8 140,95.71 140.3,95.96 140.6,96.16 140.9,96.69 141.2,96.98 141.5,95.57 141.8,97.25 142.1,96.9 142.4,96.85 142.7,97.69 143,97.09 143.3,95.54 143.6,97.49 143.9,97.34 144.2,97.22 144.5,97.08 144.8,98.15 145.1,97.94 145.4,97.58 145.7,97.84 146,98.78 146.3,98.12 146.6,99.13 146.9,98.47 147.2,98.71 147.5,98.9 147.8,99.01 148.1,96.99 148.4,99.22 148.7,99.28 149,99.14 149.3,99.09 149.6,98.25 149.9,99.18 150.2,98.82 150.5,99.06 150.8,99.07 151.1,99.88 151.4,100.15 151.7,100.31 152,99.72 152.3,100.31 152.6,100.87 152.9,100.75 153.2,101.03 153.5,100.36 153.8,100.22 154.1,100.84 154.4,101.32 154.7,100.67 155,100.65 155.3,101.15 155.6,100.68 155.9,100.87 156.2,100.7 156.5,100.96 156.8,100.77 157.1,101.19 157.4,101.41 157.7,101.36 158,101.13 158.3,101.44 158.6,100.85 158.9,101.48 159.2,102.34 159.5,101.55 159.8,102.18 160.1,102.1 160.4,102.17 160.7,101.76 161,101.93 161.3,102.6 161.6,101.89 161.9,101.9 162.2,102.34 162.5,102.17 162.8,101.54 163.1,103.2 163.4,102.56 163.7,102.22 164,101.7 164.3,103.22 164.6,103.49 164.9,104.2 165.2,103 165.5,104.25 165.8,104.15 166.1,103.54 166.4,104.4 166.7,103.71 167,103.35 167.3,103.8 167.6,101.19 167.9,101.79 168.2,102.71 168.5,103.22 168.8,103.43 169.1,103.62 169.4,102.57 169.7,102.59 170,103.35 170.3,103.61 170.6,102.35 170.9,104.56 171.2,104.34 171.5,103.76 171.8,104.06 172.1,104.3 172.4,104.05 172.7,104.51 173,105.13 173.3,104.53 173.6,104.44 173.9,103.89 174.2,104.23 174.5,104.38 174.8,104.65 175.1,104.19 175.4,104.34 175.7,104.55 176,105.14 176.3,104.31 176.6,104.54 176.9,104.35 177.2,105.38 177.5,104.5 177.8,104.97 178.1,105.48 178.4,104.57 178.7,105.42 179,105.37 179.3,105.43 179.6,105.94 179.9,104.53 180.2,106.02 180.5,106.19 180.8,106.36 181.1,106.25 181.4,106.11 181.7,105.63 182,105.93 182.3,105.61 182.6,105.83 182.9,106.12 183.2,106.09 183.5,105.9 183.8,105.99 184.1,103.82 184.4,106.92 184.7,106.52 185,105.67 185.3,105.66 185.6,106.05 185.9,105.77 186.2,104.97 186.5,105.23 186.8,105.41 187.1,105.64 187.4,106.39 187.7,106.61 188,107.17 188.3,106.73 188.6,105.81 188.9,107 189.2,106.65 189.5,106.37 189.8,106.68 190.1,106.94 190.4,106.78 190.7,106.54 191,106.21 191.3,106.3 191.6,106.49 191.9,106.53 192.2,106.19 192.5,107.35 192.8,107.39 193.1,107.54 193.4,107.89 193.7,107.51 194,107.37 194.3,107.96 194.6,107.38 194.9,108.14 195.2,107.47 195.5,108.07 195.8,107.19 196.1,108.73 196.4,107.5 196.7,108.01 197,107.79 197.3,108.07 197.6,107.2 197.9,107.62 198.2,107.95 198.5,107.85 198.8,107.21 199.1,108.24 199.4,107.7 199.7,108.18 200,107.58 200.3,107.2 200.6,107.43 200.9,107.66 201.2,107.03 201.5,108.23 201.8,108.05 202.1,108.58 202.4,108.01 202.7,108.23 203,106.94 203.3,109.06 203.6,108.17 203.9,109 204.2,108.31 204.5,108.28 204.8,108.73 205.1,108.42 205.4,108.4 205.7,108.02 206,108.32 206.3,108.06 206.6,108.48 206.9,108.76 207.2,108.11 207.5,107.64 207.8,108.3 208.1,108.85 208.4,108.14 208.7,107.59 209,109.05 209.3,109.15 209.6,109.17 209.9,108.34 210.2,109.38 210.5,108.77 210.8,108.32 211.1,107.88 211.4,105.45 211.7,108.94 212,109.2 212.3,109.31 212.6,109.26 212.9,109.55 213.2,109.76 213.5,109.14 213.8,108.62 214.1,109.15 214.4,108.84 214.7,109.1 215,110.05 215.3,109.83 215.6,109.6 215.9,109.75 216.2,108.92 216.5,109.24 216.8,109.65 217.1,109.03 217.4,109.83 217.7,110.23 218,109.28 218.3,109.17 218.6,109.38 218.9,110.03 219.2,109.69 219.5,108.87 219.8,110.31 220.1,110.21 220.4,108.81 220.7,109.85 221,109.68 221.3,110.05 221.6,109.23 221.9,109.02 222.2,109.14 222.5,109.78 222.8,109.07 223.1,109.53 223.4,109.75 223.7,110.81 224,110.38 224.3,109.65 224.6,110.23 224.9,110.86 225.2,110.49 225.5,109.98 225.8,110.44 226.1,110.52 226.4,110.84 226.7,110.46 227,110.18 227.3,109.99 227.6,110.62 227.9,110.21 228.2,110.03 228.5,110.27 228.8,110.26 229.1,109.81 229.4,110.34 229.7,110.61 230,110.61 230.3,110.94 230.6,110.18 230.9,110.26 231.2,109.92 231.5,110.39 231.8,111.32 232.1,110.31 232.4,110.43 232.7,110.88 233,108.48 233.3,111.19 233.6,110.72 233.9,110.14 234.2,110.01 234.5,110.83 234.8,110.38 235.1,110.8 235.4,110.61 235.7,110.57 236,110.57 236.3,111.33 236.6,110.96 236.9,110.38 237.2,110.74 237.5,110.83 237.8,111.62 238.1,111.6 238.4,111.49 238.7,111.27 239,111.32 239.3,110.98 239.6,110.44 239.9,110.96 240.2,110.86 240.5,110.83 240.8,110.5 241.1,111.2 241.4,111.02 241.7,111.19 242,111.41 242.3,111.21 242.6,111.79 242.9,111.25 243.2,110.26 243.5,111.16 243.8,111.22 244.1,110.67 244.4,111.08 244.7,111.07 245,110.5 245.3,110.02 245.6,110.34 245.9,111.15 246.2,110.7 246.5,110.87 246.8,111.25 247.1,111.62 247.4,111.17 247.7,111.08 248,111.3 248.3,111 248.6,111.47 248.9,111.45 249.2,111.8 249.5,111.22 249.8,111.08 250.1,111.96 250.4,111.37 250.7,111.66 251,110.84 251.3,110.84 251.6,111.46 251.9,111.5 252.2,112.31 252.5,112.1 252.8,111.92 253.1,112.28 253.4,112.48 253.7,111.42 254,111.89 254.3,112.15 254.6,111.95 254.9,112.05 255.2,112.2 255.5,111.64 255.8,112.17 256.1,111.04 256.4,111.89 256.7,112.06 257,113.02 257.3,112.04 257.6,111.76 257.9,112.15 258.2,111.89 258.5,111.96 258.8,112.26 259.1,111.5 259.4,112.29 259.7,111.74 260,112.22 260.3,112.23 260.6,111.86 260.9,112.06 261.2,111.83 261.5,109.55 261.8,112.02 262.1,112.08 262.4,112.18 262.7,112.17 263,111.81 263.3,111.67 263.6,111.46 263.9,111.6 264.2,111.76 264.5,111.87 264.8,111.82 265.1,112.39 265.4,112.63 265.7,110.02 266,113.27 266.3,112.88 266.6,112.68 266.9,112.01 267.2,112.19 267.5,112.46 267.8,112.46 268.1,112.55 268.4,113.56 268.7,110.92 269,112.36 269.3,112.2 269.6,111.59 269.9,112.37 270.2,112.63 270.5,112.54 270.8,112.33 271.1,112.82 271.4,112.78 271.7,113.23 272,112.85 272.3,113.4 272.6,113.3 272.9,112.78 273.2,113.01 273.5,112.1 273.8,113.21 274.1,112.28 274.4,112.31 274.7,112.46 275,113.58 275.3,113.18 275.6,113.68 275.9,113.06 276.2,112.36 276.5,112.71 276.8,112.44 277.1,112.37 277.4,112.84 277.7,112.44 278,113.3 278.3,112.68 278.6,113.29 278.9,112.44 279.2,112.85 279.5,112.48 279.8,113.29 280.1,112.47 280.4,113.09 280.7,112.93 281,112.92 281.3,111.74 281.6,112.22 281.9,113.19 282.2,113.27 282.5,114.12 282.8,113.33 283.1,113.15 283.4,113.62 283.7,113.8 284,113.9 284.3,112.5 284.6,113.35 284.9,113.2 285.2,113.62 285.5,112.72 285.8,113.79 286.1,113.13 286.4,112.82 286.7,113.23 287,113.27 287.3,112.55 287.6,113.23 287.9,112.8 288.2,112.65 288.5,112.97 288.8,112.89 289.1,113.14 289.4,113.4 289.7,113.46 290,114.12 290.3,113.96 290.6,114.1 290.9,113.47 291.2,112.16 291.5,113.06 291.8,113.33 292.1,113.37 292.4,113.96 292.7,113.61 293,113.71 293.3,113.72 293.6,114.51 293.9,114.27 294.2,113.77 294.5,113.79 294.8,113.47 295.1,113.29 295.4,113.13 295.7,112.74 296,112.64 296.3,113.31 296.6,113.84 296.9,113.96 297.2,113.8 297.5,113.83 297.8,113.52 298.1,113.55 298.4,114.37 298.7,114.45 299,113.14 299.3,114.23 299.6,111.46 299.9,113.97 300.2,114.46 300.5,114.5 300.8,113.84 301.1,114.56 301.4,114.43 301.7,114.06 302,114.11 302.3,114.47 302.6,114.98 302.9,114.41 303.2,113.67 303.5,115.07 303.8,114.37 304.1,114.2 304.4,114.02 304.7,113.4 305,113.69 305.3,114.5 305.6,113.22 305.9,111.65 306.2,113.48 306.5,113.89 306.8,114.46 307.1,114 307.4,111.44 307.7,113.65 308,113.77 308.3,114.07 308.6,114.19 308.9,114.73 309.2,114.01 309.5,112.57 309.8,114.4 310.1,113.53 310.4,113.94 310.7,113.71 311,114.91 311.3,114.78 311.6,114.51 311.9,115.05 312.2,114.56 312.5,113.98 312.8,113.5 313.1,113.57 313.4,113.93 313.7,114.02 314,115 314.3,114.19 314.6,114.44 314.9,114.42 315.2,113.71 315.5,114.11 315.8,113.3 316.1,113.7 316.4,114.07 316.7,114.13 317,114.12 317.3,114.49 317.6,114.43 317.9,114.4 318.2,113.85 318.5,114.05 318.8,114.37 319.1,115.29 319.4,114.19 319.7,114.8 320,113.83 320.3,113.95 320.6,114.52 320.9,113.92 321.2,113.95 321.5,113.83 321.8,113.74 322.1,114.95 322.4,114.85 322.7,114.41 323,114.14 323.3,114.52 323.6,114.37 323.9,114.88 324.2,114.33 324.5,115.16 324.8,114.62 325.1,114.11 325.4,113.88 325.7,114.7 326,114.89 326.3,114.88 326.6,115.17 326.9,115.01 327.2,115.16 327.5,115.35 327.8,114.92 328.1,115.36 328.4,112.9 328.7,115.11 329,115.1 329.3,114.96 329.6,114.98 329.9,114.69 330.2,114.88 330.5,114.62 330.8,113.87 331.1,114.65 331.4,113.82 331.7,114.66 332,114.82 332.3,114.49 332.6,115.05 332.9,114.86 333.2,114.99 333.5,115.29 333.8,115.3 334.1,115.06 334.4,115.31 334.7,115.22 335,115.26" fill="none" stroke="#ff0000" stroke-width="1.15" stroke-linejoin="round"/>
<polyline points="122.3,98.18 122.6,98.1 122.9,100.54 123.2,98.87 123.5,98.79 123.8,99.18 124.1,99.24 124.4,99.23 124.7,103.14 125,99.45 125.3,99.11 125.6,98.93 125.9,99.52 126.2,99.68 126.5,100.32 126.8,99.92 127.1,100.46 127.4,99.97 127.7,100.55 128,100.53 128.3,100.19 128.6,101.07 128.9,100.84 129.2,100.36 129.5,101.37 129.8,101.66 130.1,101.99 130.4,102.14 130.7,102.15 131,102.03 131.3,102.19 131.6,102.75 131.9,102.63 132.2,102.53 132.5,103.66 132.8,103.32 133.1,102.02 133.4,102.54 133.7,102.95 134,103.18 134.3,103.34 134.6,103.6 134.9,104.28 135.2,104.09 135.5,104.06 135.8,104.08 136.1,106.31 136.4,104.77 136.7,104.55 137,104.48 137.3,104.72 137.6,104.08 137.9,104.63 138.2,104.69 138.5,104.69 138.8,104.71 139.1,104.7 139.4,105.31 139.7,104.86 140,105.19 140.3,105.6 140.6,105.12 140.9,106.76 141.2,106.61 141.5,106.66 141.8,105.93 142.1,106.79 142.4,108.86 142.7,106.75 143,106.87 143.3,107.44 143.6,107.18 143.9,106.87 144.2,107.07 144.5,107.32 144.8,107.14 145.1,106.93 145.4,107.29 145.7,107.43 146,107.14 146.3,107.77 146.6,107.82 146.9,108.21 147.2,108.1 147.5,107.97 147.8,108.01 148.1,108.05 148.4,108.12 148.7,107.73 149,108.29 149.3,108.58 149.6,108.38 149.9,109.34 150.2,109.61 150.5,109.06 150.8,109.46 151.1,109.86 151.4,109.24 151.7,109.98 152,109.95 152.3,109.52 152.6,109.92 152.9,113.58 153.2,110.21 153.5,110.34 153.8,110.06 154.1,110.92 154.4,110.73 154.7,111.05 155,110.91 155.3,110.7 155.6,111.29 155.9,111.83 156.2,110.84 156.5,110.76 156.8,111.73 157.1,110.64 157.4,111.68 157.7,111.98 158,111.32 158.3,111.12 158.6,112.03 158.9,112.1 159.2,112.28 159.5,112.2 159.8,112.38 160.1,112.32 160.4,112.03 160.7,112.88 161,112.84 161.3,112.63 161.6,116.41 161.9,112.7 162.2,115.96 162.5,112.97 162.8,112.87 163.1,115.66 163.4,113.52 163.7,113.95 164,114.45 164.3,113.78 164.6,113.52 164.9,114.04 165.2,113.69 165.5,114.73 165.8,114.15 166.1,114 166.4,113.63 166.7,114.33 167,113.55 167.3,113.91 167.6,116.87 167.9,114.12 168.2,114.63 168.5,115.11 168.8,114.8 169.1,115.42 169.4,115.28 169.7,116.21 170,115.65 170.3,114.75 170.6,115.9 170.9,115.96 171.2,115.04 171.5,115.1 171.8,115.39 172.1,115.56 172.4,116.01 172.7,115 173,116.25 173.3,116.86 173.6,116.6 173.9,116.51 174.2,116.08 174.5,116.66 174.8,116.07 175.1,117.29 175.4,117.19 175.7,117.21 176,117.42 176.3,117.21 176.6,117.18 176.9,117.38 177.2,117.46 177.5,117.01 177.8,117.28 178.1,117.35 178.4,117.02 178.7,117.59 179,116.93 179.3,117.87 179.6,117.23 179.9,117.6 180.2,117.56 180.5,117.79 180.8,118.38 181.1,118.29 181.4,118.3 181.7,118.01 182,118.37 182.3,118.48 182.6,117.9 182.9,118.53 183.2,118.32 183.5,119.81 183.8,119.06 184.1,119.04 184.4,119.64 184.7,118.91 185,119.18 185.3,119.23 185.6,119.37 185.9,119.48 186.2,119.26 186.5,119.29 186.8,119.21 187.1,120.07 187.4,119.4 187.7,119.97 188,119.73 188.3,120.54 188.6,121.28 188.9,119.85 189.2,120.84 189.5,120.22 189.8,119.77 190.1,120.18 190.4,120.26 190.7,119.98 191,120.04 191.3,120.33 191.6,120.46 191.9,120.3 192.2,120.31 192.5,120.74 192.8,120.63 193.1,121.75 193.4,120.93 193.7,121.63 194,121.37 194.3,121.03 194.6,121.65 194.9,121.22 195.2,122.51 195.5,121.85 195.8,121.42 196.1,121.6 196.4,121.46 196.7,121.97 197,122.04 197.3,122.35 197.6,123.81 197.9,122.58 198.2,122.81 198.5,122.06 198.8,122.43 199.1,121.92 199.4,123.25 199.7,123.32 200,122.74 200.3,121.93 200.6,122.45 200.9,122.19 201.2,123.03 201.5,122.72 201.8,123.32 202.1,122.81 202.4,122.99 202.7,123.91 203,123.62 203.3,123.44 203.6,124.1 203.9,123.48 204.2,123.78 204.5,123.11 204.8,123.6 205.1,123.45 205.4,123.71 205.7,123.4 206,124.11 206.3,123.63 206.6,123.28 206.9,124.07 207.2,124.05 207.5,124.1 207.8,124.35 208.1,125 208.4,124.04 208.7,124.47 209,124.89 209.3,124.39 209.6,124.32 209.9,124.92 210.2,124.18 210.5,124.61 210.8,124.29 211.1,125.36 211.4,125.8 211.7,124.99 212,125.15 212.3,124.31 212.6,124.99 212.9,124.38 213.2,124.53 213.5,124.91 213.8,125.69 214.1,125.39 214.4,125.84 214.7,125.63 215,126.19 215.3,125.69 215.6,125.63 215.9,125.32 216.2,125.47 216.5,125.7 216.8,125.56 217.1,126.06 217.4,125.39 217.7,126.8 218,125.75 218.3,125.09 218.6,126.46 218.9,126.17 219.2,125.87 219.5,125.93 219.8,125.37 220.1,128.98 220.4,125.68 220.7,126.02 221,126.6 221.3,126.74 221.6,126.32 221.9,125.95 222.2,127.4 222.5,127.02 222.8,126.46 223.1,125.49 223.4,126.5 223.7,126.85 224,126.47 224.3,126.75 224.6,127.02 224.9,127.36 225.2,127.24 225.5,127.18 225.8,127.56 226.1,127.62 226.4,127.99 226.7,127.27 227,127.59 227.3,127.69 227.6,126.43 227.9,129 228.2,126.83 228.5,127.21 228.8,127.38 229.1,127.67 229.4,127.67 229.7,127.55 230,128.13 230.3,127.84 230.6,127.94 230.9,128.73 231.2,128.16 231.5,128.25 231.8,127.79 232.1,128.37 232.4,128.19 232.7,126.72 233,128.68 233.3,127.94 233.6,130.28 233.9,128.54 234.2,128.61 234.5,128.32 234.8,128.39 235.1,128.35 235.4,128.37 235.7,128.24 236,128.74 236.3,128.62 236.6,128.64 236.9,129.38 237.2,129.18 237.5,129.05 237.8,128.5 238.1,129.08 238.4,129.61 238.7,129.58 239,129.9 239.3,129.98 239.6,129.92 239.9,129.43 240.2,129.79 240.5,129.66 240.8,129.6 241.1,128.9 241.4,128.64 241.7,128.85 242,129.61 242.3,129.23 242.6,130.01 242.9,129.22 243.2,129.49 243.5,129.72 243.8,128.89 244.1,130.14 244.4,129.61 244.7,129.49 245,130 245.3,129.66 245.6,129.66 245.9,130.09 246.2,130.41 246.5,129.91 246.8,130.15 247.1,131.04 247.4,130.53 247.7,131.01 248,129.98 248.3,130.55 248.6,134.16 248.9,130.67 249.2,130.35 249.5,130.62 249.8,131.35 250.1,130.92 250.4,130.57 250.7,130.58 251,130.52 251.3,131.17 251.6,130.57 251.9,130.98 252.2,130.95 252.5,129.83 252.8,132.23 253.1,130.53 253.4,130.44 253.7,130.28 254,131.13 254.3,131.07 254.6,131.07 254.9,131.21 255.2,132.02 255.5,130.93 255.8,132.09 256.1,131.85 256.4,131.7 256.7,131.7 257,131.57 257.3,131.86 257.6,131.37 257.9,130.99 258.2,131.24 258.5,131.46 258.8,131.44 259.1,131.63 259.4,131.2 259.7,132.11 260,132.64 260.3,131.79 260.6,132.17 260.9,132.09 261.2,132.37 261.5,132.02 261.8,132.11 262.1,132.3 262.4,132.07 262.7,132.3 263,134.89 263.3,132.63 263.6,132.19 263.9,132.96 264.2,132.76 264.5,131.94 264.8,132.51 265.1,132.08 265.4,132.32 265.7,132.23 266,132.58 266.3,131.96 266.6,132.42 266.9,132.16 267.2,132.78 267.5,132.6 267.8,133.47 268.1,132.85 268.4,133.21 268.7,132.62 269,132.92 269.3,132.84 269.6,132.68 269.9,133.44 270.2,133.55 270.5,133.42 270.8,133.47 271.1,133.63 271.4,132.44 271.7,133.29 272,132.75 272.3,133.18 272.6,132.96 272.9,133.1 273.2,133.42 273.5,133.72 273.8,133.36 274.1,133.25 274.4,133.51 274.7,133.71 275,132.85 275.3,133.65 275.6,134.35 275.9,133.61 276.2,133.48 276.5,133.7 276.8,133.74 277.1,134.08 277.4,134 277.7,133.97 278,133.61 278.3,134.66 278.6,133.7 278.9,133.62 279.2,133 279.5,132.96 279.8,133.27 280.1,133.62 280.4,134.3 280.7,137.07 281,133.59 281.3,134.08 281.6,133.68 281.9,134.17 282.2,134.73 282.5,134.49 282.8,134.68 283.1,135.51 283.4,135.03 283.7,134.26 284,134.23 284.3,134.19 284.6,135.43 284.9,134.5 285.2,135.08 285.5,134.6 285.8,134.31 286.1,135.11 286.4,134.77 286.7,134.72 287,134.25 287.3,134.46 287.6,134.48 287.9,134.08 288.2,134.72 288.5,135.16 288.8,134.56 289.1,134.8 289.4,134.54 289.7,134.19 290,134.95 290.3,134.6 290.6,134.74 290.9,134.72 291.2,134.56 291.5,134.75 291.8,134.02 292.1,134.19 292.4,134.39 292.7,134.7 293,135.18 293.3,134.83 293.6,134.23 293.9,134.3 294.2,135.16 294.5,134.54 294.8,134.94 295.1,134.46 295.4,134.66 295.7,135.12 296,134.6 296.3,134.69 296.6,135.76 296.9,135.19 297.2,134.86 297.5,134.73 297.8,135.47 298.1,135.49 298.4,135.92 298.7,135.11 299,139.21 299.3,136.34 299.6,136.15 299.9,135.45 300.2,136.51 300.5,135.53 300.8,135.29 301.1,135.06 301.4,135.6 301.7,135.15 302,135.46 302.3,136.1 302.6,135.72 302.9,136.05 303.2,135.86 303.5,137.01 303.8,136.74 304.1,136.11 304.4,136.38 304.7,136.15 305,135.85 305.3,135.6 305.6,136.13 305.9,136.56 306.2,135.43 306.5,135.8 306.8,135.53 307.1,135.77 307.4,135.68 307.7,135.66 308,135.69 308.3,135.74 308.6,135.84 308.9,136.31 309.2,136.62 309.5,136.18 309.8,138.21 310.1,136.27 310.4,136.42 310.7,136.26 311,136.87 311.3,137.34 311.6,137.11 311.9,136.73 312.2,136.37 312.5,136.8 312.8,136.89 313.1,135.55 313.4,135.92 313.7,136.46 314,136.14 314.3,136.47 314.6,136.36 314.9,136.54 315.2,136.68 315.5,136.83 315.8,136.51 316.1,136.61 316.4,137.09 316.7,136.54 317,136.59 317.3,137.12 317.6,136.91 317.9,137.12 318.2,136.81 318.5,136.25 318.8,136.52 319.1,136.53 319.4,136.73 319.7,136.67 320,136.43 320.3,136.94 320.6,136.94 320.9,136.63 321.2,137.28 321.5,137.1 321.8,136.46 322.1,137.24 322.4,136.91 322.7,137.05 323,137.13 323.3,138.66 323.6,137.6 323.9,140.8 324.2,136.91 324.5,137.06 324.8,137.01 325.1,140.68 325.4,136.93 325.7,136.88 326,137.98 326.3,137.86 326.6,137.4 326.9,138.06 327.2,137.76 327.5,137.48 327.8,137.92 328.1,137.07 328.4,137.24 328.7,137.56 329,137.7 329.3,137.43 329.6,137.95 329.9,137.57 330.2,138.2 330.5,138.5 330.8,137.52 331.1,138.56 331.4,138.29 331.7,137.82 332,137.98 332.3,138.16 332.6,138.28 332.9,137.71 333.2,138.51 333.5,137.36 333.8,137.5 334.1,137.73 334.4,138.08 334.7,137.81 335,138.05" fill="none" stroke="#1a1aff" stroke-width="1.15" stroke-linejoin="round"/>
<polyline points="122.3,109.85 122.55,110.73 122.8,110.03 123.05,110.19 123.3,109.73 123.55,111.59 123.8,110.52 124.05,111.22 124.3,110.17 124.55,108.96 124.8,111.24 125.05,109.94 125.3,111.28 125.55,109.91 125.8,111.41 126.05,109.34 126.3,110.88 126.55,110.09 126.8,111.22 127.05,109.49 127.3,111.87 127.55,106.55 127.8,110.39 128.05,112.2 128.3,109.39 128.55,110.1 128.8,110.1 129.05,109.07 129.3,110.09 129.55,109.36 129.8,111.84 130.05,111.11 130.3,107.67 130.55,109.06 130.8,106.48 131.05,109.3 131.3,108.79 131.4,110.76 131.65,110.37 131.9,108.47 132.15,110.4 132.4,109.54 132.65,110.2 132.9,109.49 133.15,109.07 133.4,110.39 133.65,107.56 133.9,109.95 134.15,108.46 134.4,111 134.65,111.86 134.9,110.17 135.15,111.26 135.4,110.18 135.65,108.87 135.9,109.71 136.15,111.13 136.4,110.35 136.65,110.02 136.9,111.55 137.15,111.5 137.4,112.08 137.65,109.6 137.9,110.73 138.15,109.33 138.4,110.65 138.65,112.33 138.9,110.82 139.15,112.21 139.4,110.46 139.65,111.54 139.9,110.05 140.15,110.6 140.4,110.61 140.65,109.42 140.9,110.93 141.15,108.33 141.4,111.5 141.65,108.43 141.8,105.6 142.05,105.94 142.3,107.49 142.55,107.8 142.8,109.11 143.05,108.54 143.3,106.9 143.55,107.81 143.8,108.64 144.05,109.49 144.3,108.02 144.55,106.39 144.8,107.63 145.05,107.75 145.3,107.24 145.55,108.58 145.8,107.03 146.05,109.08 146.3,106.84 146.55,106.66 146.8,108.54 147.05,107.92 147.3,108.17 147.55,108.39 147.8,109.06 148.05,106.59 148.3,108.23 148.55,108.06 148.8,109.04 149.05,110.69 149.3,105.75 149.55,109.42 149.8,100.09 150.05,100.68 150.3,99.88 150.55,100.32 150.8,100.17 151.05,99.74 151.3,100.95 151.55,102.17 151.8,101.05 152.05,98.56 152.3,101.55 152.55,100.19 152.8,102.61 153.05,100.66 153.3,102.99 153.55,101.26 153.8,99.99 154.05,101.4 154.3,100.75 154.55,102.9 154.8,105.21 155.05,103.3 155.3,101.49 155.55,103.77 155.8,103.95 156.05,103.38 156.3,103.26 156.55,103.68 156.8,103.78 157.05,102.85 157.3,104.56 157.55,103.3 157.8,102.92 158.05,103.53 158.3,103.03 158.55,101.43 158.8,105.23 159.05,104.25 159.3,104.73 159.55,102.57 159.8,94 160.05,95.18 160.3,93.34 160.55,94.66 160.8,95.14 161.05,95.76 161.3,94.65 161.55,95.42 161.8,97.63 162.05,93.77 162.3,93.09 162.55,94.4 162.8,95.36 163.05,97.77 163.3,96.47 163.55,97.44 163.8,97.25 164.05,95.98 164.3,96.76 164.55,95.7 164.8,95.48 165.05,97.43 165.3,96.85 165.55,97.29 165.8,98.03 166.05,96.36 166.3,96.01 166.55,98.16 166.8,97 167.05,96.66 167.3,97.43 167.55,98.17 167.8,97.05 168.05,98.42 168.3,91.28 168.55,90.71 168.8,92.2 169.05,90.98 169.3,93.99 169.55,91.33 169.8,94.28 170.05,92.86 170.3,94.56 170.55,94.12 170.8,92.61 171.05,95.03 171.3,93.43 171.55,91.37 171.8,93.1 172.05,95.1 172.3,97.93 172.55,95.04 172.8,96.1 173.05,95.1 173.3,96.11 173.55,96.47 173.8,94.07 174.05,95.62 174.3,94.71 174.55,92.41 174.8,96.97 175.05,94.95 175.3,94.64 175.55,97.44 175.8,94.01 176.05,95.97 176.3,95.15 176.55,97.57 176.8,96.04 176.9,87.14 177.15,89.15 177.4,88.15 177.65,90.77 177.9,90.77 178.15,90.05 178.4,90.26 178.65,89.37 178.9,89.41 179.15,87.77 179.4,91.17 179.65,91.19 179.9,90.76 180.15,90.65 180.4,89.84 180.65,90.6 180.9,92.7 181.15,90.26 181.4,90.38 181.65,88.35 181.9,90.33 182.15,91.78 182.4,90.19 182.65,89.01 182.9,89.95 183.15,93.05 183.4,91.17 183.65,90.41 183.9,91.61 184.15,89.46 184.4,92.09 184.65,88.76 184.9,90.1 185.15,92.04 185.4,91.87 185.65,92.81 185.9,93.32 186.15,92.66 186.4,92.89 186.5,85.2 186.75,83.26 187,85.01 187.25,84.8 187.5,84.59 187.75,84.94 188,84.1 188.25,86.79 188.5,85.94 188.75,84.86 189,83.61 189.25,85.21 189.5,83.16 189.75,85.24 190,85.93 190.25,86.01 190.5,84.01 190.75,86.64 191,85.46 191.25,86.1 191.5,87.41 191.75,83.42 192,84.8 192.25,86.53 192.5,89.76 192.75,85.17 193,86.9 193.25,85.93 193.5,86.64 193.75,87.56 194,87.61 194.25,85.44 194.5,87.55 194.75,86.98 195,80.36 195.25,80.94 195.5,82.29 195.75,79.91 196,79.34 196.25,80.17 196.5,82.57 196.75,81.12 197,81.15 197.25,82.2 197.5,82.71 197.75,80.83 198,81.52 198.25,83.77 198.5,82.77 198.75,82.01 199,82.14 199.25,83.48 199.5,83.35 199.75,84.41 200,82.89 200.25,83.3 200.5,83.18 200.75,84.56 201,83.72 201.25,82.34 201.5,83.16 201.75,83.84 202,84.16 202.25,84.84 202.5,83.82 202.75,82.95 203,84.28 203.25,83.86 203.5,83.48 203.75,83.48 204,82.09 204.25,82.49 204.5,84.97 204.75,86.77 205,83.78 205.25,83.1 205.5,82.86 205.75,82.15 206,84.23 206.25,81.12 206.5,82.38 206.6,81.94 206.85,79.03 207.1,79.66 207.35,81.82 207.6,81.94 207.85,81.52 208.1,81.82 208.35,81.73 208.6,82.18 208.85,82.15 209.1,84.65 209.35,79.41 209.6,80.8 209.85,87.65 210.1,82.97 210.35,82.47 210.6,80.1 210.85,82.7 211.1,81.8 211.35,82.12 211.6,82.71 211.85,82.63 212.1,78.58 212.35,81.36 212.6,83.24 212.85,81.25 213.1,83.24 213.35,83.27 213.6,83.34 213.85,82.28 214.1,81.79 214.35,83.23 214.6,85.04 214.85,83.65 215.1,81.51 215.35,84.36 215.6,82.34 215.85,83.47 215.9,74.52 216.15,77.41 216.4,75.17 216.65,75.6 216.9,76.17 217.15,78.09 217.4,76.91 217.65,77.14 217.9,78.86 218.15,78.32 218.4,75.94 218.65,77.33 218.9,76.13 219.15,75.59 219.4,78.97 219.65,76.98 219.9,76.2 220.15,77.04 220.4,76.81 220.65,80.63 220.9,76.67 221.15,76.57 221.4,78.81 221.65,78.94 221.9,78.98 222.15,79.94 222.4,80.59 222.65,78.62 222.9,79.35 223.15,75.7 223.4,79.95 223.65,77.28 223.9,75 224.15,77.98 224.4,80.51 224.65,77.48 224.9,70.93 225.15,68.97 225.4,72.27 225.65,72.55 225.9,72.19 226.15,73.58 226.4,73.12 226.65,71.85 226.9,72.13 227.15,71.17 227.4,72.21 227.65,72.14 227.9,73.19 228.15,75.51 228.4,73.03 228.65,73.01 228.9,72.83 229.15,70.95 229.4,72.71 229.65,75.03 229.9,74.78 230.15,72.95 230.4,72.63 230.65,72.5 230.9,78.12 231.15,72.45 231.4,75.09 231.65,71.79 231.9,73.93 232.15,75.89 232.4,74.98 232.65,76.06 232.9,73.51 233.15,77.21 233.4,64.68 233.65,68.23 233.9,67.36 234.15,65.72 234.4,68.85 234.65,68.86 234.9,68.64 235.15,67.95 235.4,68.96 235.65,69.56 235.9,69.22 236.15,68.25 236.4,67.87 236.65,70.56 236.9,69.2 237.15,70.89 237.4,70.57 237.65,69.12 237.9,69.45 238.15,67.93 238.4,68.41 238.65,74.01 238.9,69.46 239.15,68.73 239.4,68.54 239.65,69.36 239.9,69.84 240.15,69.32 240.4,69.8 240.65,73.01 240.9,70 241.15,68.63 241.4,73.03 241.65,69.53 241.9,68.33 242.15,73.03 242.4,71.06 242.65,71.42 242.9,71.09 243,64.12 243.25,63.45 243.5,68.35 243.75,67.37 244,65.94 244.25,64.53 244.5,64.64 244.75,66.86 245,64.47 245.25,66.33 245.5,63.75 245.75,67.35 246,66.61 246.25,65.41 246.5,71.04 246.75,67.61 247,68.64 247.25,68.02 247.5,68.95 247.75,68.26 248,66.61 248.25,66.86 248.5,67.73 248.75,67.39 249,68.52 249.25,65.9 249.5,66.85 249.75,65.62 250,68.87 250.25,67.31 250.5,68.01 250.75,69.17 251,70.28 251.2,63.35 251.45,64.74 251.7,62.46 251.95,58.68 252.2,66.66 252.45,61.22 252.7,63.66 252.95,65.57 253.2,64.29 253.45,64.29 253.7,64.9 253.95,63.49 254.2,65.73 254.45,64.11 254.7,64.43 254.95,64.81 255.2,68.76 255.45,68.36 255.7,65.4 255.95,67.27 256.2,65.67 256.45,66.23 256.7,70.18 256.95,70.08 257.2,69.01 257.45,66.16 257.7,70.98 257.95,64.21 258.2,63.69 258.45,67.86 258.7,66.18 258.95,67.78 259.2,68.33 259.45,69.33 259.7,66.13 259.95,66.44 260.1,60.84 260.35,59.71 260.6,57.71 260.85,59.2 261.1,62.39 261.35,61.87 261.6,64.32 261.85,62.8 262.1,61.42 262.35,60.96 262.6,63.5 262.85,59.94 263.1,62.67 263.35,64.16 263.6,63 263.85,63.08 264.1,61.66 264.35,62.33 264.6,62.33 264.85,62.49 265.1,63.5 265.35,62.3 265.6,63.68 265.85,61.78 266.1,63.32 266.35,63.2 266.6,61.75 266.85,63.2 267.1,60.46 267.35,62.9 267.6,60.7 267.85,60.97 268.1,62.93 268.35,64.36 268.6,63.61 268.85,63.62 269.1,64.86 269.35,64.28 269.6,63.09 269.85,60.23 270.1,63.25 270.35,62.94 270.5,56.26 270.75,58.82 271,59.11 271.25,60.45 271.5,56.88 271.75,58.66 272,59.56 272.25,59.79 272.5,59.34 272.75,60.06 273,58.09 273.25,60.13 273.5,56.36 273.75,58.32 274,57.81 274.25,60.83 274.5,61.15 274.75,58.23 275,59.38 275.25,61.93 275.5,59.86 275.75,59.47 276,58.88 276.25,62.94 276.5,62.86 276.75,62.31 277,58.79 277.25,60.85 277.5,58.41 277.75,59.69 278,60.56 278.25,62.66 278.5,62.74 278.75,62.5 279,58.13 279.25,61.34 279.3,58.66 279.55,55.33 279.8,58.99 280.05,54.3 280.3,59.15 280.55,55.33 280.8,61.21 281.05,54.62 281.3,59.18 281.55,56.76 281.8,58.1 282.05,57.27 282.3,57.24 282.55,55.19 282.8,55.53 283.05,59.55 283.3,55.84 283.55,55.59 283.8,56.33 284.05,57.9 284.3,60.65 284.55,59.51 284.8,54.37 285.05,59.82 285.3,56.74 285.55,59 285.8,58.33 286.05,60.69 286.3,58.79 286.55,57.4 286.8,59.09 287.05,55.44 287.3,58.66 287.5,54.67 287.75,57.03 288,54.48 288.25,51.86 288.5,58 288.75,55.22 289,56.09 289.25,52.86 289.5,56.64 289.75,55.58 290,54.68 290.25,52.97 290.5,54.04 290.75,55.64 291,52.61 291.25,56.16 291.5,55.72 291.75,53.96 292,54.54 292.25,56.97 292.5,54.17 292.75,58.35 293,56.5 293.25,58.26 293.5,53.74 293.75,56.05 294,55.01 294.25,57.91 294.5,55.33 294.75,53.93 295,52.73 295.25,50.76 295.5,54.73 295.75,53.53 296,53.89 296.25,52.99 296.5,51.52 296.75,53.75 297,52.74 297.25,53.24 297.5,56.21 297.75,55.25 298,54.28 298.25,57.86 298.5,54.46 298.75,52.79 299,54.74 299.25,54.35 299.5,52.48 299.75,55.35 300,52 300.25,54.53 300.5,56.07 300.75,56.7 301,53.52 301.2,53.9 301.45,53.14 301.7,52.47 301.95,51.58 302.2,51.88 302.45,50.79 302.7,52 302.95,53.94 303.2,50.13 303.45,53.9 303.7,50.77 303.95,52.04 304.2,50.97 304.45,49.98 304.7,50.94 304.95,51.27 305.2,53.85 305.45,51.02 305.7,54.77 305.95,52.29 306.2,55.42 306.45,52.77 306.7,52.03 306.95,52.51 307.1,51.27 307.35,50.24 307.6,50.75 307.85,47.8 308.1,50.58 308.35,52.54 308.6,49.03 308.85,49.28 309.1,49.94 309.35,48.95 309.6,53.01 309.85,51.09 310.1,49.07 310.35,51.74 310.6,49.23 310.85,49.61 311.1,49.03 311.35,47.93 311.6,50.56 311.85,50.17 312.1,51.38 312.35,50.28 312.6,49.96 312.85,52.64 313.1,51.25 313.35,51.82 313.6,52.8 313.85,53.41 314.1,51.08 314.35,51.45 314.6,48.94 314.85,52.72 315.1,53.38 315.35,51.95 315.6,50.55 315.85,52.31 316.1,50.06 316.35,44.03 316.6,47.65 316.85,48.18 317.1,47.49 317.35,47.1 317.6,47.98 317.85,46.42 318.1,48.11 318.35,47.31 318.6,49.97 318.85,50.24 319.1,46.11 319.35,49.98 319.6,44.97 319.85,45.98 320.1,49.3 320.35,48.45 320.6,49.03 320.85,47.3 321.1,49.38 321.35,48.17 321.6,48.85 321.85,48.23 322.1,46.72 322.35,51.85 322.6,50.45 322.85,47.14 323.1,49.66 323.35,48.49 323.6,46.03 323.85,49.71 324.1,46.42 324.2,48.49 324.45,47.73 324.7,50.25 324.95,49.56 325.2,47.51 325.45,46.48 325.7,49.2 325.95,46.72 326.2,44.51 326.45,47.22 326.7,46.26 326.95,46.5 327.2,48.54 327.45,44.06 327.7,48.56 327.95,48.7 328.2,49.69 328.45,47.37 328.7,48.11 328.95,48.24 329.2,47.38 329.45,47.88 329.7,48.51 329.95,46.55 330.2,48.27 330.45,48.4 330.7,49.38 330.95,47.36 331.2,49.35 331.45,50.2 331.7,48.32 331.95,44.91 332.2,46.41 332.45,48.14 332.7,45.72 332.95,46.97 333.2,48.23 333.45,47.58 333.7,47.86 333.95,49.6 334.2,47.44 334.45,48.03 334.7,47.85 334.95,47.45" fill="none" stroke="#000" stroke-width="1.1" stroke-linejoin="round"/>
<line x1="131.4" y1="103.5" x2="131.4" y2="119" stroke="#000" stroke-width="0.9"/>
<line x1="140.6" y1="100" x2="140.6" y2="119" stroke="#000" stroke-width="0.9"/>
<line x1="149.9" y1="99" x2="149.9" y2="109" stroke="#000" stroke-width="0.9"/>
<line x1="177.5" y1="104.5" x2="177.5" y2="119.5" stroke="#1a1aff" stroke-width="1"/>
<line x1="131.2" y1="70.3" x2="131.4" y2="86.8" stroke="#111" stroke-width="0.8"/>
<polyline points="130.3,83.9 131.4,87.3 132.4,83.8" fill="none" stroke="#111" stroke-width="0.8"/>
<line x1="141.5" y1="72.8" x2="141.8" y2="91" stroke="#111" stroke-width="0.8"/>
<polyline points="140.7,88.1 141.8,91.5 142.8,88" fill="none" stroke="#111" stroke-width="0.8"/>
<line x1="149.5" y1="76.3" x2="149.8" y2="92.9" stroke="#111" stroke-width="0.8"/>
<polyline points="148.7,90 149.8,93.4 150.8,89.9" fill="none" stroke="#111" stroke-width="0.8"/>
<line x1="159.4" y1="77.1" x2="159.8" y2="93.5" stroke="#111" stroke-width="0.8"/>
<polyline points="158.7,90.6 159.8,94 160.8,90.5" fill="none" stroke="#111" stroke-width="0.8"/>
<line x1="167.8" y1="73.7" x2="168.3" y2="87" stroke="#111" stroke-width="0.8"/>
<polyline points="167.2,84.1 168.3,87.5 169.3,84" fill="none" stroke="#111" stroke-width="0.8"/>
<line x1="176" y1="69.3" x2="176.9" y2="82" stroke="#111" stroke-width="0.8"/>
<polyline points="175.8,79.1 176.9,82.5 177.9,79" fill="none" stroke="#111" stroke-width="0.8"/>
<line x1="185.4" y1="65.5" x2="186.5" y2="79.3" stroke="#111" stroke-width="0.8"/>
<polyline points="185.4,76.4 186.5,79.8 187.5,76.3" fill="none" stroke="#111" stroke-width="0.8"/>
<line x1="194.2" y1="64.4" x2="195" y2="78.2" stroke="#111" stroke-width="0.8"/>
<polyline points="193.9,75.3 195,78.7 196,75.2" fill="none" stroke="#111" stroke-width="0.8"/>
<line x1="206.3" y1="61" x2="206.6" y2="74.9" stroke="#111" stroke-width="0.8"/>
<polyline points="205.5,72 206.6,75.4 207.6,71.9" fill="none" stroke="#111" stroke-width="0.8"/>
<line x1="215.1" y1="57.8" x2="215.9" y2="71.6" stroke="#111" stroke-width="0.8"/>
<polyline points="214.8,68.7 215.9,72.1 216.9,68.6" fill="none" stroke="#111" stroke-width="0.8"/>
<line x1="224.3" y1="53.8" x2="224.9" y2="68.6" stroke="#111" stroke-width="0.8"/>
<polyline points="223.8,65.7 224.9,69.1 225.9,65.6" fill="none" stroke="#111" stroke-width="0.8"/>
<line x1="232.2" y1="48.9" x2="233.4" y2="64.3" stroke="#111" stroke-width="0.8"/>
<polyline points="232.3,61.4 233.4,64.8 234.4,61.3" fill="none" stroke="#111" stroke-width="0.8"/>
<line x1="242" y1="48.3" x2="243" y2="63.1" stroke="#111" stroke-width="0.8"/>
<polyline points="241.9,60.2 243,63.6 244,60.1" fill="none" stroke="#111" stroke-width="0.8"/>
<line x1="250" y1="45.3" x2="251.2" y2="60.1" stroke="#111" stroke-width="0.8"/>
<polyline points="250.1,57.2 251.2,60.6 252.2,57.1" fill="none" stroke="#111" stroke-width="0.8"/>
<line x1="259.1" y1="42.8" x2="260.1" y2="57" stroke="#111" stroke-width="0.8"/>
<polyline points="259,54.1 260.1,57.5 261.1,54" fill="none" stroke="#111" stroke-width="0.8"/>
<line x1="269.5" y1="41" x2="270.5" y2="55.8" stroke="#111" stroke-width="0.8"/>
<polyline points="269.4,52.9 270.5,56.3 271.5,52.8" fill="none" stroke="#111" stroke-width="0.8"/>
<line x1="278.1" y1="37.3" x2="279.3" y2="52.1" stroke="#111" stroke-width="0.8"/>
<polyline points="278.2,49.2 279.3,52.6 280.3,49.1" fill="none" stroke="#111" stroke-width="0.8"/>
<line x1="286.6" y1="33.9" x2="287.5" y2="48.1" stroke="#111" stroke-width="0.8"/>
<polyline points="286.4,45.2 287.5,48.6 288.5,45.1" fill="none" stroke="#111" stroke-width="0.8"/>
<line x1="293.6" y1="35.7" x2="294.5" y2="50.5" stroke="#111" stroke-width="0.8"/>
<polyline points="293.4,47.6 294.5,51 295.5,47.5" fill="none" stroke="#111" stroke-width="0.8"/>
<line x1="300.4" y1="31.7" x2="301.2" y2="45.6" stroke="#111" stroke-width="0.8"/>
<polyline points="300.1,42.7 301.2,46.1 302.2,42.6" fill="none" stroke="#111" stroke-width="0.8"/>
<line x1="306.5" y1="32.1" x2="307.1" y2="46.2" stroke="#111" stroke-width="0.8"/>
<polyline points="306,43.3 307.1,46.7 308.1,43.2" fill="none" stroke="#111" stroke-width="0.8"/>
<line x1="315.3" y1="29" x2="316.1" y2="43.2" stroke="#111" stroke-width="0.8"/>
<polyline points="315,40.3 316.1,43.7 317.1,40.2" fill="none" stroke="#111" stroke-width="0.8"/>
<line x1="323.6" y1="26.9" x2="324.2" y2="41.3" stroke="#111" stroke-width="0.8"/>
<polyline points="323.1,38.4 324.2,41.8 325.2,38.3" fill="none" stroke="#111" stroke-width="0.8"/>
<text transform="translate(370.6,12.3) scale(0.94,1)" font-size="16.8" fill="#111" stroke="#111" stroke-width="0.15">B</text>
<line x1="408.65" y1="11.05" x2="408.65" y2="194.7" stroke="#444" stroke-width="1.15"/>
<line x1="408.65" y1="194.2" x2="665.5" y2="194.2" stroke="#444" stroke-width="1.15"/>
<line x1="408.65" y1="183.2" x2="411.65" y2="183.2" stroke="#444" stroke-width="1.15"/>
<text transform="translate(406.05,186.3)" font-size="7.2" text-anchor="end" fill="#222" stroke="#222" stroke-width="0.16">0</text>
<line x1="408.65" y1="150.7" x2="411.65" y2="150.7" stroke="#444" stroke-width="1.15"/>
<text transform="translate(406.05,153.8)" font-size="7.2" text-anchor="end" fill="#222" stroke="#222" stroke-width="0.16">240</text>
<line x1="408.65" y1="118.21" x2="411.65" y2="118.21" stroke="#444" stroke-width="1.15"/>
<text transform="translate(406.05,121.31)" font-size="7.2" text-anchor="end" fill="#222" stroke="#222" stroke-width="0.16">480</text>
<line x1="408.65" y1="85.71" x2="411.65" y2="85.71" stroke="#444" stroke-width="1.15"/>
<text transform="translate(406.05,88.81)" font-size="7.2" text-anchor="end" fill="#222" stroke="#222" stroke-width="0.16">720</text>
<line x1="408.65" y1="53.22" x2="411.65" y2="53.22" stroke="#444" stroke-width="1.15"/>
<text transform="translate(406.05,56.32)" font-size="7.2" text-anchor="end" fill="#222" stroke="#222" stroke-width="0.16">960</text>
<line x1="408.65" y1="20.72" x2="411.65" y2="20.72" stroke="#444" stroke-width="1.15"/>
<text transform="translate(406.05,23.82)" font-size="7.2" text-anchor="end" fill="#222" stroke="#222" stroke-width="0.16">1200</text>
<line x1="420.5" y1="194.2" x2="420.5" y2="190.6" stroke="#444" stroke-width="1.15"/>
<text transform="translate(420.5,202.9)" font-size="7.2" text-anchor="middle" fill="#222" stroke="#222" stroke-width="0.16">0</text>
<line x1="461.6" y1="194.2" x2="461.6" y2="190.6" stroke="#444" stroke-width="1.15"/>
<text transform="translate(461.6,202.9)" font-size="7.2" text-anchor="middle" fill="#222" stroke="#222" stroke-width="0.16">400</text>
<line x1="502.7" y1="194.2" x2="502.7" y2="190.6" stroke="#444" stroke-width="1.15"/>
<text transform="translate(502.7,202.9)" font-size="7.2" text-anchor="middle" fill="#222" stroke="#222" stroke-width="0.16">800</text>
<line x1="543.8" y1="194.2" x2="543.8" y2="190.6" stroke="#444" stroke-width="1.15"/>
<text transform="translate(543.8,202.9)" font-size="7.2" text-anchor="middle" fill="#222" stroke="#222" stroke-width="0.16">1200</text>
<line x1="584.9" y1="194.2" x2="584.9" y2="190.6" stroke="#444" stroke-width="1.15"/>
<text transform="translate(584.9,202.9)" font-size="7.2" text-anchor="middle" fill="#222" stroke="#222" stroke-width="0.16">1600</text>
<line x1="626" y1="194.2" x2="626" y2="190.6" stroke="#444" stroke-width="1.15"/>
<text transform="translate(626,202.9)" font-size="7.2" text-anchor="middle" fill="#222" stroke="#222" stroke-width="0.16">2000</text>
<text transform="translate(544.6,218.4) scale(0.8589,1)" font-size="9.4" text-anchor="middle" textLength="114.80" lengthAdjust="spacing" fill="#222" stroke="#222" stroke-width="0.2">GABA concentration (µM)</text>
<text transform="translate(379.0,101.9) rotate(-90)" font-size="10.6" text-anchor="middle" fill="#222" stroke="#222" stroke-width="0.25" textLength="79.4" lengthAdjust="spacingAndGlyphs">Current (nA/cm<tspan dy="-3.5" font-size="6.5">2</tspan><tspan dy="3.5">)</tspan></text>
<line x1="426.14" y1="171.95" x2="426.14" y2="174.95" stroke="#555" stroke-width="1"/>
<line x1="424.34" y1="171.95" x2="427.94" y2="171.95" stroke="#555" stroke-width="1"/>
<line x1="424.34" y1="174.95" x2="427.94" y2="174.95" stroke="#555" stroke-width="1"/>
<line x1="431.27" y1="164.64" x2="431.27" y2="167.64" stroke="#555" stroke-width="1"/>
<line x1="429.47" y1="164.64" x2="433.07" y2="164.64" stroke="#555" stroke-width="1"/>
<line x1="429.47" y1="167.64" x2="433.07" y2="167.64" stroke="#555" stroke-width="1"/>
<line x1="441.55" y1="145" x2="441.55" y2="151" stroke="#666" stroke-width="1"/>
<line x1="439.75" y1="145" x2="443.35" y2="145" stroke="#666" stroke-width="1"/>
<line x1="439.75" y1="151" x2="443.35" y2="151" stroke="#666" stroke-width="1"/>
<line x1="451.82" y1="132.02" x2="451.82" y2="140.42" stroke="#999" stroke-width="1"/>
<line x1="450.02" y1="132.02" x2="453.62" y2="132.02" stroke="#999" stroke-width="1"/>
<line x1="450.02" y1="140.42" x2="453.62" y2="140.42" stroke="#999" stroke-width="1"/>
<line x1="462.1" y1="125.34" x2="462.1" y2="136.54" stroke="#888" stroke-width="1"/>
<line x1="460.3" y1="125.34" x2="463.9" y2="125.34" stroke="#888" stroke-width="1"/>
<line x1="460.3" y1="136.54" x2="463.9" y2="136.54" stroke="#888" stroke-width="1"/>
<line x1="472.38" y1="113.47" x2="472.38" y2="126.47" stroke="#888" stroke-width="1"/>
<line x1="470.57" y1="113.47" x2="474.18" y2="113.47" stroke="#888" stroke-width="1"/>
<line x1="470.57" y1="126.47" x2="474.18" y2="126.47" stroke="#888" stroke-width="1"/>
<line x1="482.65" y1="102.52" x2="482.65" y2="117.92" stroke="#999" stroke-width="1"/>
<line x1="480.85" y1="102.52" x2="484.45" y2="102.52" stroke="#999" stroke-width="1"/>
<line x1="480.85" y1="117.92" x2="484.45" y2="117.92" stroke="#999" stroke-width="1"/>
<line x1="492.93" y1="90.89" x2="492.93" y2="108.69" stroke="#aaa" stroke-width="1"/>
<line x1="491.12" y1="90.89" x2="494.73" y2="90.89" stroke="#aaa" stroke-width="1"/>
<line x1="491.12" y1="108.69" x2="494.73" y2="108.69" stroke="#aaa" stroke-width="1"/>
<line x1="503.2" y1="85.05" x2="503.2" y2="105.05" stroke="#aaa" stroke-width="1"/>
<line x1="501.4" y1="85.05" x2="505" y2="85.05" stroke="#aaa" stroke-width="1"/>
<line x1="501.4" y1="105.05" x2="505" y2="105.05" stroke="#aaa" stroke-width="1"/>
<line x1="513.48" y1="77.69" x2="513.48" y2="99.69" stroke="#666" stroke-width="1"/>
<line x1="511.68" y1="77.69" x2="515.27" y2="77.69" stroke="#666" stroke-width="1"/>
<line x1="511.68" y1="99.69" x2="515.27" y2="99.69" stroke="#666" stroke-width="1"/>
<line x1="523.75" y1="69.19" x2="523.75" y2="86.79" stroke="#777" stroke-width="1"/>
<line x1="521.95" y1="69.19" x2="525.55" y2="69.19" stroke="#777" stroke-width="1"/>
<line x1="521.95" y1="86.79" x2="525.55" y2="86.79" stroke="#777" stroke-width="1"/>
<line x1="534.02" y1="60.55" x2="534.02" y2="80.55" stroke="#aaa" stroke-width="1"/>
<line x1="532.23" y1="60.55" x2="535.82" y2="60.55" stroke="#aaa" stroke-width="1"/>
<line x1="532.23" y1="80.55" x2="535.82" y2="80.55" stroke="#aaa" stroke-width="1"/>
<line x1="544.3" y1="47.26" x2="544.3" y2="77.86" stroke="#555" stroke-width="1"/>
<line x1="542.5" y1="47.26" x2="546.1" y2="47.26" stroke="#555" stroke-width="1"/>
<line x1="542.5" y1="77.86" x2="546.1" y2="77.86" stroke="#555" stroke-width="1"/>
<line x1="554.58" y1="48.1" x2="554.58" y2="69.7" stroke="#888" stroke-width="1"/>
<line x1="552.78" y1="48.1" x2="556.38" y2="48.1" stroke="#888" stroke-width="1"/>
<line x1="552.78" y1="69.7" x2="556.38" y2="69.7" stroke="#888" stroke-width="1"/>
<line x1="564.85" y1="34.57" x2="564.85" y2="65.37" stroke="#bbb" stroke-width="1"/>
<line x1="563.05" y1="34.57" x2="566.65" y2="34.57" stroke="#bbb" stroke-width="1"/>
<line x1="563.05" y1="65.37" x2="566.65" y2="65.37" stroke="#bbb" stroke-width="1"/>
<line x1="575.12" y1="29.2" x2="575.12" y2="62.6" stroke="#bbb" stroke-width="1"/>
<line x1="573.33" y1="29.2" x2="576.92" y2="29.2" stroke="#bbb" stroke-width="1"/>
<line x1="573.33" y1="62.6" x2="576.92" y2="62.6" stroke="#bbb" stroke-width="1"/>
<line x1="585.4" y1="30.7" x2="585.4" y2="51.9" stroke="#bbb" stroke-width="1"/>
<line x1="583.6" y1="30.7" x2="587.2" y2="30.7" stroke="#bbb" stroke-width="1"/>
<line x1="583.6" y1="51.9" x2="587.2" y2="51.9" stroke="#bbb" stroke-width="1"/>
<line x1="595.67" y1="26.26" x2="595.67" y2="46.06" stroke="#666" stroke-width="1"/>
<line x1="593.88" y1="26.26" x2="597.47" y2="26.26" stroke="#666" stroke-width="1"/>
<line x1="593.88" y1="46.06" x2="597.47" y2="46.06" stroke="#666" stroke-width="1"/>
<line x1="605.95" y1="20.26" x2="605.95" y2="43.66" stroke="#bbb" stroke-width="1"/>
<line x1="604.15" y1="20.26" x2="607.75" y2="20.26" stroke="#bbb" stroke-width="1"/>
<line x1="604.15" y1="43.66" x2="607.75" y2="43.66" stroke="#bbb" stroke-width="1"/>
<line x1="616.23" y1="12.76" x2="616.23" y2="42.76" stroke="#888" stroke-width="1"/>
<line x1="614.43" y1="12.76" x2="618.02" y2="12.76" stroke="#888" stroke-width="1"/>
<line x1="614.43" y1="42.76" x2="618.02" y2="42.76" stroke="#888" stroke-width="1"/>
<line x1="626.5" y1="7.46" x2="626.5" y2="43.46" stroke="#555" stroke-width="1"/>
<line x1="624.7" y1="7.46" x2="628.3" y2="7.46" stroke="#555" stroke-width="1"/>
<line x1="624.7" y1="43.46" x2="628.3" y2="43.46" stroke="#555" stroke-width="1"/>
<line x1="636.77" y1="9.07" x2="636.77" y2="35.07" stroke="#bbb" stroke-width="1"/>
<line x1="634.98" y1="9.07" x2="638.57" y2="9.07" stroke="#bbb" stroke-width="1"/>
<line x1="634.98" y1="35.07" x2="638.57" y2="35.07" stroke="#bbb" stroke-width="1"/>
<line x1="647.05" y1="7.13" x2="647.05" y2="35.13" stroke="#999" stroke-width="1"/>
<line x1="645.25" y1="7.13" x2="648.85" y2="7.13" stroke="#999" stroke-width="1"/>
<line x1="645.25" y1="35.13" x2="648.85" y2="35.13" stroke="#999" stroke-width="1"/>
<circle cx="426.14" cy="173.45" r="2.05" fill="#000"/>
<circle cx="431.27" cy="166.14" r="2.05" fill="#000"/>
<circle cx="441.55" cy="148" r="2.05" fill="#000"/>
<circle cx="451.82" cy="136.22" r="2.05" fill="#000"/>
<circle cx="462.1" cy="130.94" r="2.05" fill="#000"/>
<circle cx="472.38" cy="119.97" r="2.05" fill="#000"/>
<circle cx="482.65" cy="110.22" r="2.05" fill="#000"/>
<circle cx="492.93" cy="99.79" r="2.05" fill="#000"/>
<circle cx="503.2" cy="95.05" r="2.05" fill="#000"/>
<circle cx="513.48" cy="88.69" r="2.05" fill="#000"/>
<circle cx="523.75" cy="77.99" r="2.05" fill="#000"/>
<circle cx="534.02" cy="70.55" r="2.05" fill="#000"/>
<circle cx="544.3" cy="62.56" r="2.05" fill="#000"/>
<circle cx="554.58" cy="58.9" r="2.05" fill="#000"/>
<circle cx="564.85" cy="49.97" r="2.05" fill="#000"/>
<circle cx="575.12" cy="45.9" r="2.05" fill="#000"/>
<circle cx="585.4" cy="41.3" r="2.05" fill="#000"/>
<circle cx="595.67" cy="36.16" r="2.05" fill="#000"/>
<circle cx="605.95" cy="31.96" r="2.05" fill="#000"/>
<circle cx="616.23" cy="27.76" r="2.05" fill="#000"/>
<circle cx="626.5" cy="25.46" r="2.05" fill="#000"/>
<circle cx="636.77" cy="22.07" r="2.05" fill="#000"/>
<circle cx="647.05" cy="21.13" r="2.05" fill="#000"/>
<polyline points="426.14,173.71 427.99,171.33 429.84,168.97 431.69,166.63 433.55,164.31 435.4,162.01 437.25,159.72 439.1,157.46 440.95,155.21 442.81,152.99 444.66,150.78 446.51,148.6 448.36,146.43 450.21,144.28 452.07,142.15 453.92,140.04 455.77,137.95 457.62,135.88 459.48,133.82 461.33,131.79 463.18,129.78 465.03,127.78 466.88,125.81 468.74,123.85 470.59,121.91 472.44,119.99 474.29,118.09 476.14,116.21 478,114.35 479.85,112.51 481.7,110.69 483.55,108.89 485.4,107.1 487.26,105.34 489.11,103.59 490.96,101.87 492.81,100.16 494.66,98.47 496.52,96.8 498.37,95.15 500.22,93.52 502.07,91.91 503.93,90.32 505.78,88.75 507.63,87.2 509.48,85.66 511.33,84.15 513.19,82.65 515.04,81.17 516.89,79.72 518.74,78.28 520.59,76.86 522.45,75.46 524.3,74.08 526.15,72.72 528,71.38 529.85,70.05 531.71,68.75 533.56,67.47 535.41,66.2 537.26,64.96 539.12,63.73 540.97,62.52 542.82,61.33 544.67,60.16 546.52,59.01 548.38,57.88 550.23,56.77 552.08,55.68 553.93,54.61 555.78,53.55 557.64,52.52 559.49,51.5 561.34,50.51 563.19,49.53 565.04,48.57 566.9,47.63 568.75,46.71 570.6,45.81 572.45,44.93 574.3,44.07 576.16,43.23 578.01,42.4 579.86,41.6 581.71,40.81 583.57,40.05 585.42,39.3 587.27,38.57 589.12,37.87 590.97,37.18 592.83,36.51 594.68,35.86 596.53,35.23 598.38,34.61 600.23,34.02 602.09,33.45 603.94,32.89 605.79,32.36 607.64,31.84 609.49,31.34 611.35,30.87 613.2,30.41 615.05,29.97 616.9,29.55 618.75,29.15 620.61,28.77 622.46,28.4 624.31,28.06 626.16,27.74 628.02,27.43 629.87,27.15 631.72,26.88 633.57,26.63 635.42,26.4 637.28,26.2 639.13,26.01 640.98,25.84 642.83,25.68 644.68,25.55 646.54,25.44" fill="none" stroke="#2f42e0" stroke-width="1.05" stroke-linejoin="round" stroke-dasharray="5 3.5"/>
<line x1="563.45" y1="81.9" x2="563.45" y2="163.26" stroke="#444" stroke-width="1.15"/>
<line x1="563.45" y1="162.76" x2="657.5" y2="162.76" stroke="#444" stroke-width="1.15"/>
<line x1="563.45" y1="162.3" x2="565.65" y2="162.3" stroke="#444" stroke-width="1.15"/>
<text transform="translate(561.45,164.5)" font-size="6.3" text-anchor="end" fill="#222" stroke="#222" stroke-width="0.14">0</text>
<line x1="563.45" y1="146.3" x2="565.65" y2="146.3" stroke="#444" stroke-width="1.15"/>
<text transform="translate(561.45,148.5)" font-size="6.3" text-anchor="end" fill="#222" stroke="#222" stroke-width="0.14">120</text>
<line x1="563.45" y1="130.31" x2="565.65" y2="130.31" stroke="#444" stroke-width="1.15"/>
<text transform="translate(561.45,132.51)" font-size="6.3" text-anchor="end" fill="#222" stroke="#222" stroke-width="0.14">240</text>
<line x1="563.45" y1="114.31" x2="565.65" y2="114.31" stroke="#444" stroke-width="1.15"/>
<text transform="translate(561.45,116.51)" font-size="6.3" text-anchor="end" fill="#222" stroke="#222" stroke-width="0.14">360</text>
<line x1="563.45" y1="98.32" x2="565.65" y2="98.32" stroke="#444" stroke-width="1.15"/>
<text transform="translate(561.45,100.52)" font-size="6.3" text-anchor="end" fill="#222" stroke="#222" stroke-width="0.14">480</text>
<line x1="563.45" y1="82.32" x2="565.65" y2="82.32" stroke="#444" stroke-width="1.15"/>
<text transform="translate(561.45,84.52)" font-size="6.3" text-anchor="end" fill="#222" stroke="#222" stroke-width="0.14">600</text>
<text transform="translate(563.7,169.3)" font-size="6" text-anchor="middle" fill="#222" stroke="#222" stroke-width="0.13">0</text>
<line x1="577.1" y1="162.76" x2="577.1" y2="160.56" stroke="#444" stroke-width="1.15"/>
<text transform="translate(577.1,169.3)" font-size="6" text-anchor="middle" fill="#222" stroke="#222" stroke-width="0.13">75</text>
<line x1="590.5" y1="162.76" x2="590.5" y2="160.56" stroke="#444" stroke-width="1.15"/>
<text transform="translate(590.5,169.3)" font-size="6" text-anchor="middle" fill="#222" stroke="#222" stroke-width="0.13">150</text>
<line x1="603.91" y1="162.76" x2="603.91" y2="160.56" stroke="#444" stroke-width="1.15"/>
<text transform="translate(603.91,169.3)" font-size="6" text-anchor="middle" fill="#222" stroke="#222" stroke-width="0.13">225</text>
<line x1="617.31" y1="162.76" x2="617.31" y2="160.56" stroke="#444" stroke-width="1.15"/>
<text transform="translate(617.31,169.3)" font-size="6" text-anchor="middle" fill="#222" stroke="#222" stroke-width="0.13">300</text>
<line x1="630.71" y1="162.76" x2="630.71" y2="160.56" stroke="#444" stroke-width="1.15"/>
<text transform="translate(630.71,169.3)" font-size="6" text-anchor="middle" fill="#222" stroke="#222" stroke-width="0.13">375</text>
<line x1="644.12" y1="162.76" x2="644.12" y2="160.56" stroke="#444" stroke-width="1.15"/>
<text transform="translate(644.12,169.3)" font-size="6" text-anchor="middle" fill="#222" stroke="#222" stroke-width="0.13">450</text>
<line x1="657.52" y1="162.76" x2="657.52" y2="160.56" stroke="#444" stroke-width="1.15"/>
<text transform="translate(657.52,169.3)" font-size="6" text-anchor="middle" fill="#222" stroke="#222" stroke-width="0.13">525</text>
<text transform="translate(614.8,182.9) scale(0.8925,1)" font-size="9" text-anchor="middle" textLength="109.92" lengthAdjust="spacing" fill="#222" stroke="#222" stroke-width="0.2">GABA concentration (µM)</text>
<text transform="translate(543.3,125.2) rotate(-90)" font-size="9" text-anchor="middle" fill="#222" stroke="#222" stroke-width="0.25" textLength="64.7" lengthAdjust="spacingAndGlyphs">Current (nA/cm<tspan dy="-3" font-size="5.5">2</tspan><tspan dy="3">)</tspan></text>
<line x1="572.28" y1="153.43" x2="572.28" y2="159.43" stroke="#333" stroke-width="0.9"/>
<line x1="570.98" y1="153.43" x2="573.58" y2="153.43" stroke="#333" stroke-width="0.9"/>
<line x1="570.98" y1="159.43" x2="573.58" y2="159.43" stroke="#333" stroke-width="0.9"/>
<line x1="581.57" y1="148.1" x2="581.57" y2="152.1" stroke="#333" stroke-width="0.9"/>
<line x1="580.27" y1="148.1" x2="582.87" y2="148.1" stroke="#333" stroke-width="0.9"/>
<line x1="580.27" y1="152.1" x2="582.87" y2="152.1" stroke="#333" stroke-width="0.9"/>
<line x1="599.62" y1="129.64" x2="599.62" y2="137.64" stroke="#333" stroke-width="0.9"/>
<line x1="598.32" y1="129.64" x2="600.92" y2="129.64" stroke="#333" stroke-width="0.9"/>
<line x1="598.32" y1="137.64" x2="600.92" y2="137.64" stroke="#333" stroke-width="0.9"/>
<line x1="617.67" y1="121.11" x2="617.67" y2="133.11" stroke="#333" stroke-width="0.9"/>
<line x1="616.37" y1="121.11" x2="618.97" y2="121.11" stroke="#333" stroke-width="0.9"/>
<line x1="616.37" y1="133.11" x2="618.97" y2="133.11" stroke="#333" stroke-width="0.9"/>
<line x1="635.72" y1="105.45" x2="635.72" y2="115.45" stroke="#333" stroke-width="0.9"/>
<line x1="634.42" y1="105.45" x2="637.02" y2="105.45" stroke="#333" stroke-width="0.9"/>
<line x1="634.42" y1="115.45" x2="637.02" y2="115.45" stroke="#333" stroke-width="0.9"/>
<line x1="653.94" y1="93.08" x2="653.94" y2="106.48" stroke="#333" stroke-width="0.9"/>
<line x1="652.64" y1="93.08" x2="655.24" y2="93.08" stroke="#333" stroke-width="0.9"/>
<line x1="652.64" y1="106.48" x2="655.24" y2="106.48" stroke="#333" stroke-width="0.9"/>
<polyline points="572.1,156.47 653.94,99.7" fill="none" stroke="#2a46e6" stroke-width="1.3" stroke-linejoin="round" stroke-dasharray="3.5 2.5"/>
<circle cx="572.28" cy="156.43" r="1.4" fill="#000"/>
<circle cx="581.57" cy="150.1" r="1.4" fill="#000"/>
<circle cx="599.62" cy="133.64" r="1.4" fill="#000"/>
<circle cx="617.67" cy="127.11" r="1.4" fill="#000"/>
<circle cx="635.72" cy="110.45" r="1.4" fill="#000"/>
<circle cx="653.94" cy="99.78" r="1.4" fill="#000"/>
<text transform="translate(1.8,235.4) scale(0.845,1)" font-size="16.8" fill="#111" stroke="#111" stroke-width="0.15">C</text>
<line x1="27.6" y1="229.7" x2="27.6" y2="380.3" stroke="#444" stroke-width="1.15"/>
<line x1="27.6" y1="379.8" x2="330" y2="379.8" stroke="#444" stroke-width="1.15"/>
<line x1="27.6" y1="368.5" x2="30.6" y2="368.5" stroke="#444" stroke-width="1.15"/>
<text transform="translate(24.2,370.6)" font-size="5.9" text-anchor="end" fill="#222" stroke="#222" stroke-width="0.13">0</text>
<line x1="27.6" y1="333.8" x2="30.6" y2="333.8" stroke="#444" stroke-width="1.15"/>
<text transform="translate(24.2,335.9)" font-size="5.9" text-anchor="end" fill="#222" stroke="#222" stroke-width="0.13">3</text>
<line x1="27.6" y1="299.1" x2="30.6" y2="299.1" stroke="#444" stroke-width="1.15"/>
<text transform="translate(24.2,301.2)" font-size="5.9" text-anchor="end" fill="#222" stroke="#222" stroke-width="0.13">6</text>
<line x1="27.6" y1="264.4" x2="30.6" y2="264.4" stroke="#444" stroke-width="1.15"/>
<text transform="translate(24.2,266.5)" font-size="5.9" text-anchor="end" fill="#222" stroke="#222" stroke-width="0.13">9</text>
<line x1="27.6" y1="229.7" x2="30.6" y2="229.7" stroke="#444" stroke-width="1.15"/>
<text transform="translate(24.2,231.8)" font-size="5.9" text-anchor="end" fill="#222" stroke="#222" stroke-width="0.13">12</text>
<line x1="50.9" y1="379.8" x2="50.9" y2="376.8" stroke="#444" stroke-width="1.15"/>
<text transform="translate(50.9,387.9)" font-size="6.1" text-anchor="middle" fill="#222" stroke="#222" stroke-width="0.13">0</text>
<line x1="144.18" y1="379.8" x2="144.18" y2="376.8" stroke="#444" stroke-width="1.15"/>
<text transform="translate(144.18,387.9)" font-size="6.1" text-anchor="middle" fill="#222" stroke="#222" stroke-width="0.13">400</text>
<line x1="237.46" y1="379.8" x2="237.46" y2="376.8" stroke="#444" stroke-width="1.15"/>
<text transform="translate(237.46,387.9)" font-size="6.1" text-anchor="middle" fill="#222" stroke="#222" stroke-width="0.13">800</text>
<line x1="330.74" y1="379.8" x2="330.74" y2="376.8" stroke="#444" stroke-width="1.15"/>
<text transform="translate(330.74,387.9)" font-size="6.1" text-anchor="middle" fill="#222" stroke="#222" stroke-width="0.13">1200</text>
<text transform="translate(180.5,405.6) scale(0.9294,1)" font-size="9.9" text-anchor="middle" textLength="38.63" lengthAdjust="spacing" fill="#222" stroke="#222" stroke-width="0.2">Time (s)</text>
<text transform="translate(9.7,299.4) rotate(-90) scale(0.9323,1)" font-size="10.3" text-anchor="middle" textLength="60.93" lengthAdjust="spacing" fill="#222" stroke="#222" stroke-width="0.2">Current (nA)</text>
<text transform="translate(70.7,244.2) scale(0.8527,1)" font-size="8.2" textLength="57.35" lengthAdjust="spacing" fill="#111" stroke="#111" stroke-width="0.18">GABA channel</text>
<text transform="translate(70.7,254.3) scale(0.8472,1)" font-size="8.2" textLength="51.46" lengthAdjust="spacing" fill="#ff1010" stroke="#ff1010" stroke-width="0.18">GLU channel</text>
<text transform="translate(70.7,264.5) scale(0.8804,1)" font-size="8.2" textLength="65.19" lengthAdjust="spacing" fill="#2040e0" stroke="#2040e0" stroke-width="0.18">Sentinel channel</text>
<polyline points="50.9,274.81 53.21,256.53 60.3,256.53 60.46,259.9 60.69,264.23 60.93,268.81 61.16,272.77 61.39,276.25 61.63,280.54 61.86,283.88 62.09,287.44 62.33,290.9 62.56,293.51 62.79,295.96 63.03,298.71 63.26,301.61 63.49,303.43 63.73,305.96 63.96,307.89 64.19,309.19 64.43,310.97 64.66,312.46 64.89,313.48 65.13,314.77 65.36,316.17 65.59,316.87 65.82,318.01 66.06,319.43 66.29,320.22 66.52,320.85 66.76,322.1 66.99,323.46 67.22,323.64 67.46,325.08 67.69,325.99 67.92,326.69 68.16,327.76 68.39,328.35 68.62,329.71 68.86,330.59 69.09,330.85 69.32,331.81 69.56,332.67 69.79,333.27 70.02,334.23 70.26,334.64 70.49,335.69 70.72,336.16 70.96,336.85 71.19,337.56 71.42,338.23 71.65,338.36 71.89,339.28 72.12,339.82 72.35,340.11 72.59,340.97 72.82,340.95 73.05,341.47 73.29,342.14 73.52,342.36 73.75,343.26 73.99,343.43 74.22,344.19 74.45,343.99 74.69,344.42 74.92,345.31 75.15,345.16 75.39,346 75.62,345.94 75.85,346.53 76.09,347.06 76.32,347.12 76.55,347.19 76.79,347.64 77.02,348.29 77.25,348.37 77.48,348.75 77.72,348.88 77.95,349.19 78.18,349.34 78.42,349.42 78.65,350.01 78.88,350.18 79.12,349.94 79.35,350.62 79.58,351.07 79.82,351.51 80.05,351.01 80.28,351.55 80.52,351.87 80.75,352.13 80.98,352.02 81.22,352.49 81.45,352.49 81.68,352.77 81.92,352.86 82.15,353.23 82.38,353.27 82.62,353.6 82.85,353.7 83.08,354.09 83.31,354.43 83.55,354.21 83.78,354.23 84.01,354.51 84.25,354.6 84.48,354.5 84.71,355.02 84.95,355.06 85.18,355.51 85.41,355.42 85.65,355.79 85.88,355.88 86.11,355.73 86.35,355.89 86.58,355.97 86.81,356.11 87.05,356.51 87.28,356.33 87.51,356.46 87.75,356.49 87.98,357.08 88.21,356.8 88.45,356.95 88.68,356.9 88.91,357.24 89.14,357.11 89.38,357.23 89.61,357.03 89.84,357.21 90.08,357.7 90.31,357.92 90.54,357.47 90.78,357.96 91.01,358.05 91.24,358.77 91.48,357.96 91.71,358.12 91.94,358.12 92.18,358.61 92.41,358.74 92.64,358.53 92.88,359 93.11,359.21 93.34,358.72 93.58,359.02 93.81,358.93 94.04,358.91 94.28,359.03 94.51,359.15 94.74,359 94.97,359.34 95.21,359.61 95.44,359.3 95.67,359.47 95.91,359.46 96.14,359.82 96.37,359.79 96.61,360.09 96.84,359.89 97.07,359.71 97.31,360.24 97.54,360.12 98.12,360.62 98.71,360.7 99.29,360.14 99.87,360.45 100.45,361.05 101.04,361.03 101.62,360.85 102.2,361.36 102.79,361.88 103.37,361.85 103.95,361.62 104.54,361.98 105.12,362.23 105.7,362.06 106.28,362.57 106.87,362.11 107.45,362.81 108.03,362.76 108.62,362.61 109.2,362.62 109.78,362.65 110.37,362.5 110.95,362.99 111.53,363.11 112.11,363.07 112.7,363.02 113.28,363.04 113.86,362.87 114.45,362.99 115.03,362.87 115.61,363.36 116.2,363.11 116.78,363.55 117.36,363.28 117.94,363.8 118.53,363.89 119.11,363.94 119.69,363.92 120.28,363.67 120.86,363.73 121.44,363.7 122.03,364.01 122.61,364.37 123.19,363.83 123.78,364.67 124.36,364.08 124.94,364.02 125.52,364.42 126.11,364.65 126.69,364.4 127.27,364.32 127.86,365 128.44,364.44 129.02,364.97 129.6,364.86 130.19,364.81 130.77,364.97 131.35,364.79 131.94,364.85 132.52,365.23 133.1,365.01 133.69,365.13 134.27,365.69 134.85,365.84 135.44,365.76 136.02,365.78 136.6,365.6 137.18,365.75 137.77,365.64 138.35,365.25 138.93,365.99 139.52,366.07 140.1,366.31 140.68,365.91 141.26,366.5 141.85,366.21 142.43,366.14 143.01,366.44 143.6,366.79 144.18,366.67 144.76,366.85 145.35,366.65 145.93,367.04 146.51,367.24 147.09,366.92 147.68,367.3 148.26,367 148.84,367.44 149.43,367.15 150.01,367.66 150.59,367.67 151.18,367.51 151.76,367.93 152.34,367.73 152.92,368.06 153.51,367.93 154.09,368.34 154.67,368.19 155.26,368.72 155.84,368.59 156.42,368.7 157.01,368.37 157.59,368.29 158.17,368.66 158.75,369.32 159.34,368.79 159.92,369.35 160.5,369.44 161.09,369.11 161.67,369.27 162.25,369.67 162.84,369.4 163.42,369.44 164,369.46 164.59,369.67 165.17,369.69 165.75,370.05 166.33,369.88 166.92,370.15 167.5,369.91 168.08,370.54 168.67,370 169.25,370.04 169.83,369.93 170.41,369.77 171,369.99 171.58,370.26 172.16,370.03 172.75,370.47 173.33,369.96 173.91,369.99 174.5,370.46 175.08,370.51 175.66,370.21 176.25,370.73 176.83,370.83 177.41,370.64 177.99,370.31 178.58,370.9 179.16,370.6 179.74,370.66 180.33,370.83 180.91,370.61 181.49,371.12 182.07,370.69 182.66,371.09 183.24,371.06 183.82,371.31 184.41,371.06 184.99,371.17 185.57,370.93 186.16,370.99 186.74,370.94 187.32,371.27 187.91,371 188.49,371.5 189.07,371.17 189.65,370.97 190.24,371.11 190.82,371.54 191.4,371.21 191.99,371.47 192.57,371.03 193.15,371.5 193.74,371.6 194.32,371.57 194.9,371.66 195.48,371.3 196.07,371.18 196.65,371.28 197.23,371.78 197.82,371.71 198.4,371.82 198.98,371.55 199.56,371.87 200.15,371.38 200.73,371.84 201.31,371.54 201.9,371.7 202.48,371.96 203.06,372.03 203.65,371.83 204.23,371.81 204.81,372.21 205.4,372.16 205.98,371.81 206.56,372.04 207.14,371.95 207.73,372.23 208.31,372.14 208.89,372.15 209.48,372.1 210.06,371.98 210.64,372.36 211.22,372.23 211.81,371.65 212.39,372.09 212.97,372.25 213.56,372.05 214.14,372.02 214.72,372.1 215.31,372.33 215.89,372.07 216.47,372.37 217.06,372.6 217.64,372.53 218.22,372.55 218.8,372.3 219.39,372.62 219.97,372.38 220.55,372.58 221.14,372.15 221.72,372.68 222.3,372.3 222.88,372.44 223.47,372.67 224.05,372.45 224.63,372.36 225.22,372.44 225.8,372.72 226.38,372.73 226.97,372.64 227.55,372.37 228.13,372.42 228.72,372.66 229.3,372.69 229.88,372.37 230.46,372.38 231.05,372.69 231.63,372.78 232.21,372.57 232.8,372.29 233.38,372.9 233.96,372.57 234.54,372.66 235.13,372.09 235.71,372.4 236.29,372.52 236.88,372.63 237.46,372.37 238.04,372.22 238.63,372.2 239.21,372.47 239.79,372.62 240.38,372.61 240.96,372.17 241.54,372.39 242.12,372.53 242.71,372.76 243.29,372.67 243.87,372.6 244.46,372.18 245.04,372.78 245.62,372.52 246.2,372.58 246.79,372.39 247.37,372.49 247.95,372.46 248.54,372.44 249.12,372.33 249.7,372.67 250.29,372.72 250.87,372.4 251.45,372.34 252.03,372.34 252.62,372.45 253.2,372.82 253.78,372.48 254.37,372.9 254.95,372.23 255.53,372.27 256.12,372.33 256.7,372.31 257.28,372.56 257.87,372.87 258.45,372.33 259.03,372.56 259.61,372.77 260.2,373 260.78,372.52 261.36,372.69 261.95,372.76 262.53,372.49 263.11,372.59 263.69,372.39 264.28,372.27 264.86,372.33 265.44,372.7 266.03,372.74 266.61,372.5 267.19,372.18 267.78,372.71 268.36,372.44 268.94,372.76 269.52,372.45 270.11,372.17 270.69,372.36 271.27,372.27 271.86,372.76 272.44,371.92 273.02,372.28 273.61,372.33 274.19,371.95 274.77,372.49 275.35,372.52 275.94,372.57 276.52,372.56 277.1,372.36 277.69,372.58 278.27,372.27 278.85,372.37 279.44,372.41 280.02,372.37 280.6,372.46 281.19,372.2 281.77,372.31 282.35,372.21 282.93,372.35 283.52,372.4 284.1,372.16 284.68,372.63 285.27,372.74 285.85,372.43 286.43,372.33 287.01,372.16 287.6,372.26 288.18,372.24 288.76,372.43 289.35,372.27 289.93,372.42 290.51,372.39 291.1,372.15 291.68,371.96 292.26,371.99 292.84,372 293.43,372.22 294.01,372.48 294.59,372.01 295.18,372.35 295.76,372.16 296.34,372.46 296.93,372.67 297.51,372.4 298.09,372.24 298.67,372.26 299.26,372.43 299.84,372.07 300.42,371.96 301.01,372.15 301.59,372.46 302.17,371.95 302.76,372.33 303.34,372.27 303.92,372.02 304.5,371.89 305.09,371.69 305.67,371.78 306.25,372.06 306.84,372.17 307.42,371.86 308,371.87 308.59,371.81 309.17,372.5 309.75,371.65 310.33,371.62 310.92,372.16 311.5,371.68 312.08,372.12 312.67,371.71 313.25,372.1 313.83,372.17 314.42,371.75 315,371.84 315.58,371.61 316.16,372.01 316.75,371.74 317.33,371.59 317.91,371.88 318.5,371.85 319.08,371.75 319.66,371.65" fill="none" stroke="#2a3ee6" stroke-width="1.1" stroke-linejoin="round"/>
<polyline points="52.18,287.41 52.3,295.97 52.42,305.07 52.53,314.34 52.65,324.79 52.77,335.87 52.88,343.3 53,345.01 53.12,346.62 53.23,346.93 53.35,348.5 53.47,348.87 53.58,348.78 53.7,349.62 53.81,349.97 53.93,349.64 54.05,350.69 54.16,350.6 54.28,350.95 54.4,351.07 54.51,351.33 54.63,351.69 54.75,351.88 54.86,351.54 54.98,352.13 55.1,351.96 55.21,352.17 55.33,352.64 55.45,353.2 55.56,353.31 55.68,353.12 55.8,353.28 55.91,353.43 56.03,353.93 56.15,354.37 56.26,354.27 56.38,354.67 56.5,354.73 56.61,355.29 56.73,354.35 56.85,354.48 56.96,355.25 57.08,355.67 57.2,355.48 57.31,355.89 57.43,355.52 57.55,355.62 57.66,355.91 57.78,356.51 57.9,356.57 57.9,356.13 58.18,356.65 58.46,356.6 58.74,357.01 59.02,356.84 59.3,357.35 59.58,357.3 59.85,357.67 60.13,357.62 60.41,357.71 60.69,358.13 60.97,358.11 61.25,358.35 61.53,358.32 61.81,358.76 62.09,358.41 62.37,359.01 62.65,359.29 62.93,358.88 63.21,359.61 63.49,359.79 63.77,359.37 64.05,358.89 64.33,358.89 64.61,359.43 64.89,360.12 65.17,359.82 65.45,359.95 65.73,359.7 66.01,359.62 66.29,360.03 66.57,359.63 66.85,359.98 67.13,360.27 67.41,360.18 67.69,360.39 67.97,360.14 68.25,360.52 68.53,360.52 68.81,359.92 69.09,360.16 69.37,360.31 69.65,360.8 69.93,360.73 70.21,360.77 70.49,360.78 70.77,360.97 71.05,361.1 71.33,360.67 71.61,360.38 71.89,361.13 72.17,360.89 72.45,361.01 72.73,360.98 73.01,360.71 73.29,360.62 73.57,361.43 73.85,361.5 74.13,361.48 74.41,361.29 74.69,361.33 74.97,361.15 75.25,361.33 75.53,361.21 75.81,361.19 76.09,361.45 76.37,361.95 76.65,360.85 76.93,361.65 77.2,361.7 77.48,361.13 77.76,361.64 78.04,361.59 78.32,361.44 78.6,361.45 78.88,361.19 79.16,362.19 79.44,362.41 79.72,362.19 80,361.62 80.28,361.82 80.56,361.87 80.84,361.52 81.12,361.71 81.4,361.98 81.68,361.7 81.96,361.3 82.24,361.47 82.52,361.97 82.8,361.8 83.08,361.83 83.36,362.37 83.64,361.98 83.92,361.75 84.2,361.97 84.48,362.69 84.76,361.67 85.04,362.6 85.32,362.51 85.6,362.02 85.88,361.98 86.16,362.54 86.44,362.19 86.72,361.96 87,362.72 87.28,362.21 87.56,362.27 87.84,362.19 88.12,362.1 88.4,362.25 88.68,362.11 88.96,362.4 89.24,362.58 89.52,362.6 89.8,362.65 90.08,362.76 90.36,362.54 90.64,362.12 90.92,362.62 91.2,361.81 91.48,362.12 91.76,362.45 92.04,361.84 92.32,362.84 92.6,362.07 92.88,361.93 93.16,362.17 93.44,362.18 93.72,362.42 94,362.39 94.28,362.78 94.56,362.41 94.83,362.53 95.11,362.17 95.39,362.65 95.67,362.26 95.95,361.9 96.23,362.93 96.51,362.2 96.79,362.2 97.07,362.27 97.35,362.76 97.63,362.09 97.91,362.45 98.19,362.77 98.47,363.19 98.75,362.51 99.03,362.63 99.31,362.34 99.59,363.25 99.87,362.59 100.15,362.62 100.43,362.7 100.71,362.37 100.99,362.66 101.27,362.28 101.55,363.15 101.83,362.64 102.11,362.65 102.39,363.07 102.67,362.33 102.95,363.16 103.23,363.21 103.51,362.49 103.79,362.96 104.07,362.72 104.35,363.03 104.63,362.78 104.91,362.49 105.19,362.97 105.47,362.71 105.75,362.85 106.03,363.1 106.31,363.19 106.59,363.01 106.87,362.37 107.15,363.04 107.43,362.73 107.71,363.17 107.99,362.78 108.27,363.3 108.55,363.01 108.83,362.86 109.11,362.96 109.39,362.31 109.67,363.06 109.95,362.92 110.23,362.54 110.51,363.02 110.79,363 111.07,363.02 111.35,362.87 111.63,363.16 111.91,363.17 112.18,362.96 112.46,362.91 112.74,362.79 113.02,362.75 113.3,363.14 113.58,362.78 113.86,362.51 114.14,363.04 114.42,363.32 114.7,362.89 114.98,363.25 115.26,363.13 115.54,362.67 115.82,363.09 116.1,362.96 116.38,363.21 116.66,362.13 116.94,363.27 117.22,363.25 117.5,362.73 117.78,363.36 118.06,362.98 118.34,363.09 118.62,363.31 118.9,363.46 119.18,363.1 119.46,363.26 119.74,363.19 120.02,362.83 120.3,363.58 120.58,363.31 120.4,354.4 120.65,357.45 120.9,355.3 121.15,356.62 121.4,354.7 121.65,357.58 121.9,355.45 122.15,353.6 122.4,355.87 122.65,357.78 122.9,358.15 123.15,357.15 123.4,356.98 123.65,356.34 123.9,356.98 124.15,355.39 124.4,356.08 124.65,356.97 124.9,356.41 125.15,356.5 125.4,360.13 125.65,357.39 125.9,359.03 126.15,356.78 126.4,359.67 126.65,357.58 126.9,354.77 127.15,358.46 127.4,358.72 127.65,359.63 127.9,356.8 128.15,358.74 128.4,358.1 128.65,358.67 128.9,355.21 129.15,358.7 129.4,356.14 129.65,355.96 129.9,355.53 130.15,357.9 130.4,358.44 130.65,358.66 130.9,355.93 131.15,357.09 131.4,359.48 131.65,356.16 131.9,358.1 132.15,359.56 132.4,359.06 132.65,358.22 132.9,357.14 133.15,355.64 133.4,356.44 133.65,357.88 133.9,357.98 134.15,357.43 134.4,356.94 134.65,357 134.9,359.64 135.15,356.64 135.2,346.3 135.45,347.36 135.7,348.15 135.95,349.1 136.2,348.31 136.45,349.91 136.7,351.63 136.95,352.04 137.2,351.4 137.45,350.01 137.7,349.25 137.95,350.36 138.2,350.6 138.45,349.88 138.7,349.64 138.95,348.66 139.2,348.16 139.45,349.91 139.7,347.14 139.95,349.28 140.2,347.77 140.45,349.9 140.7,350 140.95,348.5 141.2,348.79 141.45,347.93 141.7,349.55 141.95,347.34 142.2,349.28 142.45,348.79 142.7,347.71 142.95,346.78 143.2,349.59 143.45,350.64 143.7,351.22 143.95,350.42 144.2,348.92 144.45,349.92 144.7,349.84 144.95,349.09 145.2,350.09 145.45,350.47 145.7,349.78 145.95,350.38 146.2,351.47 146.45,349.21 146.7,349.28 146.95,349.65 147.2,352.5 147.45,350.23 147.7,351.09 147.95,349.56 148.2,350.35 148.45,350.51 148.7,349.47 148.95,350.09 149.2,337.05 149.45,341.33 149.7,339.44 149.95,338.72 150.2,339.25 150.45,337.38 150.7,340.9 150.95,339.51 151.2,340.51 151.45,340.86 151.7,338.68 151.95,338.78 152.2,339.64 152.45,339.34 152.7,340.88 152.95,339.89 153.2,339.57 153.45,339.93 153.7,337.65 153.95,338.58 154.2,340.8 154.45,341.7 154.7,339.46 154.95,340.13 155.2,341 155.45,340.92 155.7,339.29 155.95,338.35 156.2,340.28 156.45,338.87 156.7,336.99 156.95,339.28 157.2,338.5 157.45,339.36 157.7,338.17 157.95,339.97 158.2,342.37 158.45,341.4 158.7,339.71 158.95,337.52 159.2,341.37 159.45,342.02 159.7,339.72 159.95,339.63 160.2,339.35 160.45,342.08 160.7,339.47 160.95,339.96 161.2,337.73 161.45,337.82 161.7,335.37 161.95,341.35 162.2,341.27 162.45,339.78 162.5,317.96 162.75,319.46 163,317.08 163.25,317.71 163.5,319.74 163.75,322.4 164,317.82 164.25,319.82 164.5,320.32 164.75,320.09 165,319.01 165.25,318.95 165.5,320.76 165.75,321.27 166,319.54 166.25,321.42 166.5,320.16 166.75,322.21 167,320.44 167.25,320.74 167.5,321.36 167.75,321.3 168,319.85 168.25,321.95 168.5,320.01 168.75,318.42 169,319.64 169.25,319.3 169.5,319.42 169.75,322.46 170,321.31 170.25,319.36 170.5,319.12 170.75,320.91 171,321.96 171.25,315.19 171.5,320.95 171.75,321.02 172,319.25 172.25,321.67 172.5,319.56 172.75,320.55 173,322.5 173.25,321.11 173.5,321.76 173.75,323.07 174,322.27 174.25,320.46 174.5,323.03 174.75,322.9 175,321.22 175.25,321.13 175.5,318.24 175.75,322.13 176,322.62 176.25,318.23 176.5,322.29 176.75,320.35 177,302.81 177.25,303.85 177.5,303.14 177.75,303.2 178,305.84 178.25,305.73 178.5,306.28 178.75,303.89 179,306.18 179.25,304.86 179.5,306.07 179.75,303.8 180,303.81 180.25,307.3 180.5,304.97 180.75,303.59 181,305.26 181.25,305.54 181.5,306.56 181.75,304.05 182,303.64 182.25,303.86 182.5,306.7 182.75,304.1 183,304.95 183.25,306.58 183.5,303.38 183.75,303.82 184,305.85 184.25,304.97 184.5,304.7 184.75,306.23 185,307.44 185.25,305.75 185.5,305.36 185.75,304.89 186,306.54 186.25,303.77 186.5,305.53 186.75,307.51 187,303.24 187.25,304.34 187.5,305.07 187.75,302.96 188,305.19 188.25,304.12 188.5,306.01 188.75,304.49 189,304.11 189.25,306.06 189.5,305.86 189.75,305.7 190,305.42 190.25,302.94 190.5,305.8 190.75,304.33 191,306.72 191.2,290.55 191.45,289.89 191.7,290.18 191.95,292.37 192.2,290.33 192.45,293.57 192.7,292.51 192.95,291.27 193.2,291.51 193.45,293.95 193.7,294.94 193.95,293.61 194.2,294.88 194.45,292.88 194.7,293.22 194.95,292.35 195.2,292.27 195.45,296.3 195.7,291.22 195.95,294.52 196.2,292.87 196.45,291.76 196.7,293.71 196.95,289.32 197.2,294.39 197.45,291.88 197.7,292.88 197.95,293.24 198.2,292.84 198.45,293.63 198.7,291.21 198.95,293.8 199.2,294.19 199.45,293.54 199.7,295.84 199.95,293.41 200.2,291.68 200.45,291.7 200.7,294.29 200.95,293.58 201.2,292.76 201.45,292 201.7,293.06 201.95,292.61 202.2,294.11 202.45,294.66 202.7,294.64 202.95,292.77 203.2,293.73 203.45,290.74 203.7,291.19 203.95,293.49 204.2,293.72 204.45,293 204.6,281.18 204.85,282.63 205.1,283.36 205.35,283.01 205.6,283 205.85,281.96 206.1,282.69 206.35,283.16 206.6,282.86 206.85,281.98 207.1,280.31 207.35,283.17 207.6,281.28 207.85,283.92 208.1,284.91 208.35,283.76 208.6,284.87 208.85,282.47 209.1,282.55 209.35,281.83 209.6,282.52 209.85,282.33 210.1,283.52 210.35,285.02 210.6,286.21 210.85,285.17 211.1,285.33 211.35,283.37 211.6,284.64 211.85,284.06 212.1,283.97 212.35,284.6 212.6,283.69 212.85,283.24 213.1,285.12 213.35,286.72 213.6,285.66 213.85,284.15 214.1,283.66 214.35,282.62 214.6,283.4 214.85,283.73 215.1,282.86 215.35,280.28 215.6,283.06 215.85,283.94 216.1,284.05 216.35,285.41 216.6,282.93 216.85,285.72 217.1,286.53 217.35,284.43 217.6,286.5 217.85,284.11 218.1,285.61 218.35,283.15 218.6,272.73 218.85,274.94 219.1,273.17 219.35,276.18 219.6,274.94 219.85,275.84 220.1,272.26 220.35,274.28 220.6,274.57 220.85,275.14 221.1,274.21 221.35,273.99 221.6,274.57 221.85,277.73 222.1,274.92 222.35,277.9 222.6,277.52 222.85,277.52 223.1,276.46 223.35,275.7 223.6,275.1 223.85,275.42 224.1,274.15 224.35,274.47 224.6,276.08 224.85,275.36 225.1,276.26 225.35,277.16 225.6,277.52 225.85,275.12 226.1,277.29 226.35,273.97 226.6,278.1 226.85,277.25 227.1,277.23 227.35,277.64 227.6,277.55 227.85,280.21 228.1,276.43 228.35,276.3 228.6,273.94 228.85,277.74 229.1,278.23 229.35,275.71 229.6,276.02 229.85,278.31 230.1,277.27 230.35,272.73 230.6,275.64 230.85,274.05 231.1,275.19 231.35,276.54 231.6,276.48 231.85,272.49 232.1,275.14 232.35,275.07 232.6,274.65 232.8,266.6 233.05,266.95 233.3,266.94 233.55,269.39 233.8,269.51 234.05,270.79 234.3,270.23 234.55,270.87 234.8,267.12 235.05,271.11 235.3,269.25 235.55,269.34 235.8,266.77 236.05,269.68 236.3,271.31 236.55,267.79 236.8,269.17 237.05,269.38 237.3,267.88 237.55,268.97 237.8,270.76 238.05,268.23 238.3,268.4 238.55,266.94 238.8,270.68 239.05,270.75 239.3,269.63 239.55,268.35 239.8,268.13 240.05,270.3 240.3,271.24 240.55,269.94 240.8,267.64 241.05,269.28 241.3,267.98 241.55,267.5 241.8,270.76 242.05,267.68 242.3,269.08 242.55,267.32 242.8,268.41 243.05,269.73 243.3,270.92 243.55,269.46 243.8,270.01 244.05,270.38 244.3,271.2 244.55,272.86 244.8,272.14 245.05,269.02 245.3,269.27 245.55,268.69 245.8,267.37 246.05,268.22 246.3,268.48 246.55,267.74 246.8,268.39 247.05,266.3 247.3,267.85 247.55,270.85 247.7,260.01 247.95,261.49 248.2,258.82 248.45,260.76 248.7,261.78 248.95,260.46 249.2,260.38 249.45,262.65 249.7,262.44 249.95,260.13 250.2,262.89 250.45,267.31 250.7,264.63 250.95,263.18 251.2,265.64 251.45,264.02 251.7,264.05 251.95,262.37 252.2,263.16 252.45,260.62 252.7,261.06 252.95,261.08 253.2,264.12 253.45,265.04 253.7,263.03 253.95,263.85 254.2,262.56 254.45,265.28 254.7,262.52 254.95,259.59 255.2,261.83 255.45,263.45 255.7,263.15 255.95,262.24 256.2,260.94 256.45,262.11 256.7,264.25 256.95,264.25 257.2,261.36 257.45,260.79 257.7,263.26 257.95,260.46 258.2,260.82 258.45,262.88 258.7,261.29 258.95,265.01 259.2,264.09 259.45,264.3 259.7,261.6 259.95,262.06 260.2,256.77 260.45,259.37 260.7,259.03 260.95,259.38 261.2,257.73 261.45,259.13 261.7,260.91 261.95,257.92 262.2,261.49 262.45,260.89 262.7,258.96 262.95,258.92 263.2,260 263.45,258.32 263.7,258.13 263.95,256.48 264.2,259.57 264.45,259.19 264.7,257.18 264.95,262.79 265.2,260.24 265.45,259.33 265.7,262.08 265.95,260.33 266.2,258.54 266.45,262.12 266.7,261.32 266.95,259.03 267.2,260.33 267.45,257.96 267.7,259.68 267.95,261.64 268.2,258.32 268.45,261.88 268.7,260.42 268.95,261.21 269.2,261.15 269.45,260.95 269.7,260.04 269.95,258.12 270.2,258.23 270.45,259.01 270.7,260.45 270.95,261.12 271.2,258.77 271.45,258.95 271.7,260.32 271.95,260.63 272.2,259.56 272.45,261.16 272.7,261.71 272.95,258.59 273.2,262.53 273.45,263.05 273.7,262.14 273.9,251.22 274.15,253.81 274.4,252.86 274.65,255.01 274.9,252.64 275.15,254.35 275.4,255.99 275.65,251.59 275.9,250.97 276.15,252.87 276.4,253.01 276.65,252.15 276.9,255.48 277.15,252.76 277.4,252.24 277.65,253.38 277.9,255.08 278.15,251.29 278.4,253.61 278.65,257.11 278.9,254.43 279.15,255.21 279.4,254.26 279.65,254.51 279.9,257.84 280.15,255.1 280.4,256.33 280.65,253.32 280.9,256.44 281.15,256.71 281.4,253.39 281.65,256.34 281.9,254.67 282.15,251.66 282.4,255.42 282.65,255.18 282.9,253.68 283.15,251.86 283.4,256.74 283.65,254.74 283.9,252.79 284.15,251.64 284.4,252.36 284.65,254.17 284.9,254.71 285.15,251.64 285.4,251.91 285.65,253.84 285.9,252.55 286.15,252.51 286.4,252.33 286.65,252.74 286.9,251.9 287.15,251.48 287.4,254.16 287.65,256.55 287.9,254.36 288.15,253.2 288.4,250.9 288.65,251.34 288.9,255.45 289.15,253.25 289.4,254.43 289.5,247.98 289.75,249.53 290,250.23 290.25,244.93 290.5,250.54 290.75,250.11 291,250.64 291.25,246.93 291.5,249.01 291.75,248.26 292,249.02 292.25,252.95 292.5,251.7 292.75,250.58 293,249.83 293.25,253.61 293.5,250.73 293.75,250.02 294,251.06 294.25,252.12 294.5,252.18 294.75,249.35 295,252.44 295.25,253.07 295.5,254.18 295.75,251.34 296,255.15 296.25,249.93 296.5,250.27 296.75,251.79 297,253.39 297.25,251.19 297.5,251.79 297.75,249.9 298,248.66 298.25,250.57 298.5,252.47 298.75,252.8 299,250.81 299.25,252.71 299.5,252 299.75,249.72 300,251.06 300.25,251.32 300.5,248.67 300.75,254.58 301,252.74 301.25,248.16 301.5,251.44 301.75,251.77 302,248.14 302.25,250.61 302.5,251.47 302.75,251.74 303,248.86 303.25,249.93 303.5,246.48 303.75,249.17 304,248.24 304.25,251.52 304.5,249.94 304.75,248.55 305,247.73 305.25,242.09 305.5,247.93 305.75,250.72 306,249.07 306.25,246.89 306.5,250.13 306.75,250.34 307,246.6 307.25,249.32 307.5,250.01 307.75,247.94 308,249.57 308.25,250.53 308.5,250.61 308.75,249.12 309,248.28 309.25,250.55 309.5,249.3 309.75,248.12 310,249.71 310.25,248.48 310.5,251.32 310.75,248.22 311,249.96 311.25,251.89 311.5,250.87 311.75,251.46 312,247.02 312.25,252.3 312.5,250.23 312.75,251.22 313,246.78 313.25,249.64 313.5,249.31 313.75,249.2 314,249.35 314.25,250.96 314.5,250.33 314.75,247.88 315,248.67 315.25,247.83 315.5,247.45 315.75,247.84 316,249.05 316.25,250.8 316.5,247.3 316.75,248.52 317,246.21 317.25,251.39 317.5,252.38 317.75,247.42 318,249.82 318.25,244.77 318.5,248.51 318.75,248.81 319,247.98 319.25,247.87 319.5,249.5" fill="none" stroke="#000" stroke-width="1.05" stroke-linejoin="round"/>
<polyline points="52.18,246.03 52.3,259.66 52.42,275.96 52.53,296.84 52.65,316.35 52.77,332.44 52.88,342.15 53,343.9 53.12,344.87 53.23,345.98 53.35,346.74 53.47,347.42 53.58,348.02 53.7,348.3 53.81,348.61 53.93,349.1 54.05,349.31 54.16,349.65 54.28,349.77 54.4,349.92 54.51,350.5 54.63,350.46 54.75,350.71 54.86,350.79 54.98,350.97 55.1,351.18 55.21,351.51 55.33,351.77 55.45,351.85 55.56,351.88 55.68,352.57 55.8,352.47 55.91,352.68 56.03,352.64 56.15,352.88 56.26,353.19 56.38,353.02 56.5,353.35 56.61,353.7 56.73,354.17 56.85,354.04 56.96,353.98 57.08,354.1 57.2,354.58 57.31,354.46 57.43,354.66 57.55,355.14 57.66,354.98 57.78,355.03 57.9,355.08 57.9,355.4 58.18,355.65 58.46,355.58 58.74,355.69 59.02,356.09 59.3,356.51 59.58,356.56 59.85,356.48 60.13,356.88 60.41,357.09 60.69,357.12 60.97,357.29 61.25,357.39 61.53,357.44 61.81,357.53 62.09,357.54 62.37,357.67 62.65,357.69 62.93,358.11 63.21,358.21 63.49,358.24 63.77,358.38 64.05,358.4 64.33,358.36 64.61,358.58 64.89,358.58 65.17,358.67 65.45,358.45 65.73,358.75 66.01,358.96 66.29,358.91 66.57,358.9 66.85,358.84 67.13,359.04 67.41,359.41 67.69,359.16 67.97,359.47 68.25,359.29 68.53,359.58 68.81,359.39 69.09,359.58 69.37,359.67 69.65,359.71 69.93,359.52 70.21,359.66 70.49,359.63 70.77,359.78 71.05,359.8 71.33,359.85 71.61,360.02 71.89,359.82 72.17,359.89 72.45,359.97 72.73,360.06 73.01,360.01 73.29,360.25 73.57,360.05 73.85,360.51 74.13,360.29 74.41,360.5 74.69,360.19 74.97,360.35 75.25,360.45 75.53,360.73 75.81,360.51 76.09,360.76 76.37,360.46 76.65,360.82 76.93,360.53 77.2,360.4 77.48,360.4 77.76,360.76 78.04,360.72 78.32,360.82 78.6,360.8 78.88,360.92 79.16,361.12 79.44,360.87 79.72,360.97 80,360.9 80.28,360.73 80.56,360.97 80.84,361.27 81.12,360.94 81.4,361.44 81.68,361.2 81.96,361.21 82.24,361.31 82.52,361.2 82.8,361.23 83.08,361.45 83.36,361.16 83.64,361.27 83.92,361.14 84.2,361.36 84.48,361.82 84.76,361.56 85.04,361.27 85.32,361.16 85.6,361.53 85.88,361.58 86.16,361.4 86.44,361.71 86.72,361.6 87,361.66 87.28,361.69 87.56,361.76 87.84,361.55 88.12,361.53 88.4,361.86 88.68,361.65 88.96,361.5 89.24,361.76 89.52,361.65 89.8,361.79 90.08,362.23 90.36,362.04 90.64,361.73 90.92,361.63 91.2,361.83 91.48,361.7 91.76,361.89 92.04,361.92 92.32,361.99 92.6,361.91 92.88,361.71 93.16,361.91 93.44,361.96 93.72,362 94,362.16 94.28,361.84 94.56,361.98 94.83,361.93 95.11,361.91 95.39,362.14 95.67,361.97 95.95,362.36 96.23,361.71 96.51,362.32 96.79,362.07 97.07,361.94 97.35,362.16 97.63,362.16 97.91,362.3 98.19,362.36 98.47,362.07 98.75,362.19 99.03,362.25 99.31,362.24 99.59,362.18 99.87,362.44 100.15,362.29 100.43,362.06 100.71,362.31 100.99,362.24 101.27,362.25 101.55,362.43 101.83,362.41 102.11,362.37 102.39,362.4 102.67,362.48 102.95,362.26 103.23,362.38 103.51,362.56 103.79,362.3 104.07,362.32 104.35,362.31 104.63,362.57 104.91,362.35 105.19,362.59 105.47,362.38 105.75,362.48 106.03,362.5 106.31,362.39 106.59,362.33 106.87,362.63 107.15,362.43 107.43,362.58 107.71,362.61 107.99,362.3 108.27,362.71 108.55,362.55 108.83,362.5 109.11,362.5 109.39,362.49 109.67,362.61 109.95,362.89 110.23,362.57 110.51,362.43 110.79,362.56 111.07,362.92 111.35,362.63 111.63,362.92 111.91,362.52 112.18,362.52 112.46,362.48 112.74,362.51 113.02,362.65 113.3,362.69 113.58,362.41 113.86,362.52 114.14,362.57 114.42,362.63 114.7,362.9 114.98,362.93 115.26,362.77 115.54,362.83 115.82,362.6 116.1,362.77 116.38,362.47 116.66,362.72 116.94,362.78 117.22,362.87 117.5,362.73 117.78,362.74 118.06,362.61 118.34,362.43 118.62,362.67 118.9,362.49 119.18,362.72 119.46,362.74 119.74,362.58 120.02,362.52 120.3,362.77 120.58,362.72 120.4,358.25 120.65,358.36 120.9,359.31 121.15,358.45 121.4,359.17 121.65,359.16 121.9,358.49 122.15,359.47 122.4,358.35 122.65,359 122.9,358.75 123.15,359.03 123.4,358.48 123.65,359.18 123.9,359.42 124.15,359.22 124.4,359.5 124.65,358.55 124.9,359.62 125.15,358.51 125.4,360.04 125.65,358.58 125.9,360.02 126.15,359.17 126.4,359.81 126.65,359.86 126.9,359.25 127.15,359.92 127.4,360.32 127.65,359.83 127.9,358.1 128.15,359.12 128.4,359.2 128.65,359.96 128.9,359.63 129.15,359.52 129.4,358.97 129.65,359 129.9,358.96 130.15,360.17 130.4,360.15 130.65,358.66 130.9,359.71 131.15,358.72 131.4,360.1 131.65,358.8 131.9,358.91 132.15,360.04 132.4,358.94 132.65,358.81 132.9,359.33 133.15,359.29 133.4,359.77 133.65,359.7 133.9,360.29 134.15,359.92 134.4,360.11 134.65,359.3 134.9,359.2 135.15,358.94 135.2,352.46 135.45,352.62 135.7,352.52 135.95,352.81 136.2,352.11 136.45,353.23 136.7,353.05 136.95,353.12 137.2,353.93 137.45,353.97 137.7,354.21 137.95,353.57 138.2,353.39 138.45,353.28 138.7,354.59 138.95,353.25 139.2,353.98 139.45,354.27 139.7,353.92 139.95,353.73 140.2,353.66 140.45,354.1 140.7,353.57 140.95,352.97 141.2,352.44 141.45,352.91 141.7,353.45 141.95,352.74 142.2,353.07 142.45,353.41 142.7,353.68 142.95,353.42 143.2,353.72 143.45,354.46 143.7,353.74 143.95,353.64 144.2,354.79 144.45,354.16 144.7,354.32 144.95,354.08 145.2,353.71 145.45,354.88 145.7,353.66 145.95,354.59 146.2,353.66 146.45,354.37 146.7,354.11 146.95,353.42 147.2,353.94 147.45,353.05 147.7,353.46 147.95,354.2 148.2,354.51 148.45,354.08 148.7,352.95 148.95,353.05 149.2,346.68 149.45,347.61 149.7,347.14 149.95,348.22 150.2,346.25 150.45,348.15 150.7,346.46 150.95,348.01 151.2,347.68 151.45,348.1 151.7,347.87 151.95,347.41 152.2,348.07 152.45,348.03 152.7,347.25 152.95,346.83 153.2,347.6 153.45,347.71 153.7,347 153.95,347.58 154.2,345.44 154.45,347.55 154.7,347.16 154.95,347.51 155.2,348.13 155.45,346.74 155.7,347.53 155.95,347.41 156.2,346.45 156.45,348.06 156.7,348.32 156.95,347.82 157.2,349.49 157.45,347.89 157.7,347.79 157.95,348.47 158.2,347.65 158.45,347.79 158.7,347.68 158.95,347.95 159.2,348.18 159.45,347.99 159.7,347.79 159.95,347.06 160.2,347.41 160.45,348.37 160.7,348.33 160.95,347.36 161.2,347.26 161.45,347.17 161.7,348.73 161.95,347.71 162.2,346.94 162.45,347.21 162.5,334.65 162.75,334.4 163,336.17 163.25,335.13 163.5,335.65 163.75,335.97 164,335.65 164.25,334.58 164.5,336.45 164.75,336.51 165,334.99 165.25,334.33 165.5,335.91 165.75,334.16 166,335.23 166.25,334.89 166.5,335.16 166.75,334.93 167,336.75 167.25,334.9 167.5,335.1 167.75,336.32 168,335.13 168.25,334.65 168.5,335.85 168.75,336.01 169,336.23 169.25,335.71 169.5,334.52 169.75,334.72 170,335.62 170.25,335.82 170.5,334.87 170.75,335.78 171,334.54 171.25,335.28 171.5,336.3 171.75,335.63 172,335 172.25,336.26 172.5,336.72 172.75,335.49 173,335.52 173.25,335.25 173.5,336.02 173.75,334.85 174,334.97 174.25,333.99 174.5,335.44 174.75,335.2 175,334.2 175.25,335.67 175.5,335.27 175.75,334.48 176,335.22 176.25,335.79 176.5,334.97 176.75,335.06 177,324.82 177.25,325.54 177.5,326.23 177.75,324.06 178,325.14 178.25,325.89 178.5,324.98 178.75,324.82 179,324.95 179.25,324.98 179.5,325.65 179.75,325.87 180,325.61 180.25,325.38 180.5,325.92 180.75,325.85 181,325.55 181.25,326.14 181.5,325.37 181.75,326.19 182,327.16 182.25,327.19 182.5,326.51 182.75,325.1 183,326.02 183.25,325.14 183.5,325.39 183.75,326.61 184,325.36 184.25,326.08 184.5,326.42 184.75,325.5 185,325.83 185.25,324.9 185.5,325.52 185.75,324.89 186,324.15 186.25,325.66 186.5,325.19 186.75,324.26 187,325.53 187.25,325.45 187.5,324.97 187.75,324.58 188,325.72 188.25,326.3 188.5,325.15 188.75,325.93 189,325.33 189.25,325.27 189.5,324.87 189.75,324.8 190,325.73 190.25,325.71 190.5,325.06 190.75,325.7 191,325.66 191.2,314.99 191.45,315.86 191.7,316.5 191.95,315.35 192.2,316.42 192.45,316 192.7,315.42 192.95,314.74 193.2,316.73 193.45,315.69 193.7,316.06 193.95,316.41 194.2,316.65 194.45,316.72 194.7,315.48 194.95,315.61 195.2,315.38 195.45,316.26 195.7,316.44 195.95,316.45 196.2,316.23 196.45,317.63 196.7,315.76 196.95,316.39 197.2,315.85 197.45,315.47 197.7,316.46 197.95,315.3 198.2,315.86 198.45,315.63 198.7,315.77 198.95,316.16 199.2,315.29 199.45,315.59 199.7,315.5 199.95,316.1 200.2,314.86 200.45,316.69 200.7,316.33 200.95,316.73 201.2,316.83 201.45,314.55 201.7,316.65 201.95,316.09 202.2,316.12 202.45,316.86 202.7,315.94 202.95,316.25 203.2,316.04 203.45,315.01 203.7,317.1 203.95,317.32 204.2,315.23 204.45,317.03 204.6,307.7 204.85,309.07 205.1,308.54 205.35,308.83 205.6,307.25 205.85,308.29 206.1,308.8 206.35,308.43 206.6,307.68 206.85,307.64 207.1,308.3 207.35,308.37 207.6,308.4 207.85,308.34 208.1,308.07 208.35,307.86 208.6,308.74 208.85,309.74 209.1,307.8 209.35,308.62 209.6,307.84 209.85,308.95 210.1,307.97 210.35,309.32 210.6,309.78 210.85,308.28 211.1,309.45 211.35,308.55 211.6,308.97 211.85,309.05 212.1,310 212.35,308.77 212.6,309.09 212.85,308.53 213.1,308.92 213.35,309.59 213.6,310.08 213.85,308.24 214.1,308.82 214.35,308.08 214.6,308.91 214.85,309.29 215.1,309.43 215.35,308.98 215.6,308.49 215.85,309.21 216.1,308.88 216.35,309.57 216.6,307.85 216.85,308.91 217.1,308.97 217.35,307.09 217.6,308.97 217.85,308.52 218.1,308.59 218.35,308.48 218.6,300.76 218.85,300.4 219.1,300.72 219.35,300.85 219.6,301.74 219.85,301.31 220.1,302.55 220.35,300.44 220.6,303.24 220.85,301.1 221.1,302.68 221.35,301.76 221.6,300.74 221.85,301.83 222.1,300.57 222.35,300.55 222.6,300.43 222.85,300.11 223.1,300.17 223.35,301.39 223.6,301.56 223.85,301.81 224.1,302.14 224.35,300.99 224.6,300.75 224.85,301.24 225.1,301.15 225.35,301.88 225.6,302.18 225.85,302.3 226.1,302.06 226.35,301.76 226.6,302.06 226.85,301.64 227.1,301.4 227.35,301.39 227.6,302.05 227.85,301.63 228.1,302.8 228.35,303.3 228.6,301.22 228.85,301.55 229.1,302.04 229.35,302.5 229.6,302.3 229.85,301 230.1,301.76 230.35,302.25 230.6,302.39 230.85,301.74 231.1,300.48 231.35,300.64 231.6,301.91 231.85,301.71 232.1,300.99 232.35,302.29 232.6,302.58 232.8,292.78 233.05,292.45 233.3,292.65 233.55,293.98 233.8,292.97 234.05,294.51 234.3,293.64 234.55,293.98 234.8,293.71 235.05,294.07 235.3,293.6 235.55,292.73 235.8,292.79 236.05,293.46 236.3,293.24 236.55,292.34 236.8,293.63 237.05,293.4 237.3,294.64 237.55,294.3 237.8,294.01 238.05,291.67 238.3,294.15 238.55,293.92 238.8,293.96 239.05,294.05 239.3,294.54 239.55,295.01 239.8,293.82 240.05,293.93 240.3,294.58 240.55,293.42 240.8,293.01 241.05,294.65 241.3,292.31 241.55,293.14 241.8,292.72 242.05,293.1 242.3,294.08 242.55,293.73 242.8,293.29 243.05,293.01 243.3,293.45 243.55,293.89 243.8,292.68 244.05,293.57 244.3,293.41 244.55,293.8 244.8,292.79 245.05,294.5 245.3,294.21 245.55,295.05 245.8,294.55 246.05,294.14 246.3,292.64 246.55,294.46 246.8,294.82 247.05,294.48 247.3,294.14 247.55,292.9 247.7,286.76 247.95,286.59 248.2,286.44 248.45,287.11 248.7,287.71 248.95,288.87 249.2,286.62 249.45,288.75 249.7,288.41 249.95,287.52 250.2,288.56 250.45,287.81 250.7,288.49 250.95,288.45 251.2,288.19 251.45,287.89 251.7,288.01 251.95,287.07 252.2,287.19 252.45,288.11 252.7,288.59 252.95,288.24 253.2,289.33 253.45,288.19 253.7,288.13 253.95,286.79 254.2,287.81 254.45,288.12 254.7,286.79 254.95,288.76 255.2,289.28 255.45,287.26 255.7,287.69 255.95,287.87 256.2,287.76 256.45,288.9 256.7,287.19 256.95,287.37 257.2,287.36 257.45,287.66 257.7,287.18 257.95,287.38 258.2,287.35 258.45,287.64 258.7,286.83 258.95,286.69 259.2,287.47 259.45,289.53 259.7,287.61 259.95,289.26 260.2,281.44 260.45,281.61 260.7,282.32 260.95,282.12 261.2,284.34 261.45,281.99 261.7,282.24 261.95,283.68 262.2,282.23 262.45,282.2 262.7,282.16 262.95,284.14 263.2,281.82 263.45,282.01 263.7,282.16 263.95,282.83 264.2,280.13 264.45,281.85 264.7,281.85 264.95,281.27 265.2,282.6 265.45,283.09 265.7,283.07 265.95,282.71 266.2,281.23 266.45,281.53 266.7,283.66 266.95,283.73 267.2,283.42 267.45,282.36 267.7,281.12 267.95,282.08 268.2,281.96 268.45,281.69 268.7,282.92 268.95,283.01 269.2,283.18 269.45,282.48 269.7,282.51 269.95,281.92 270.2,282.01 270.45,282.89 270.7,282.64 270.95,283.26 271.2,282.25 271.45,282.5 271.7,282.09 271.95,283.01 272.2,283.82 272.45,283.05 272.7,283.53 272.95,282.73 273.2,283.16 273.45,280.48 273.7,283.69 273.9,273 274.15,274.96 274.4,273.47 274.65,272.6 274.9,272.91 275.15,273.95 275.4,272.73 275.65,273.58 275.9,272.42 276.15,275.3 276.4,273.64 276.65,273.97 276.9,272.63 277.15,274.37 277.4,274.65 277.65,274.46 277.9,275.43 278.15,273.09 278.4,274.41 278.65,273.83 278.9,273.05 279.15,273.56 279.4,272.83 279.65,273.89 279.9,273.99 280.15,275.14 280.4,275.68 280.65,274.23 280.9,274.76 281.15,273.44 281.4,274.26 281.65,273.86 281.9,274.34 282.15,274.3 282.4,273.34 282.65,275.54 282.9,274.48 283.15,276.07 283.4,274.09 283.65,274.49 283.9,274.38 284.15,275.17 284.4,275.75 284.65,273.65 284.9,272.64 285.15,273.82 285.4,272.4 285.65,273.92 285.9,274.08 286.15,273.02 286.4,273.61 286.65,273.52 286.9,272.99 287.15,272.26 287.4,274.38 287.65,274.64 287.9,274.02 288.15,275.3 288.4,274.02 288.65,274.43 288.9,274.31 289.15,273.86 289.4,273.32 289.5,269.18 289.75,269.73 290,269.16 290.25,270.3 290.5,269.47 290.75,270.19 291,270.7 291.25,270.67 291.5,270.08 291.75,269.83 292,270.42 292.25,269.48 292.5,268.86 292.75,270.21 293,270.57 293.25,270.06 293.5,270.1 293.75,269.83 294,270.25 294.25,269.26 294.5,268.95 294.75,269.1 295,269.44 295.25,270.18 295.5,269.49 295.75,271.18 296,269.89 296.25,270.01 296.5,269.85 296.75,270.13 297,271.14 297.25,270.2 297.5,269.83 297.75,269.16 298,270.13 298.25,271.4 298.5,271.48 298.75,270.44 299,269.51 299.25,270.18 299.5,269.79 299.75,269.66 300,270.48 300.25,272.32 300.5,269.48 300.75,270.11 301,271.45 301.25,272.03 301.5,269.7 301.75,270.45 302,269.32 302.25,270.37 302.5,270.4 302.75,270.11 303,271.53 303.25,271.33 303.5,265.13 303.75,266.75 304,265.64 304.25,265.83 304.5,265.57 304.75,264.57 305,266.8 305.25,267.67 305.5,265.04 305.75,266.57 306,266.51 306.25,265.54 306.5,265.49 306.75,266.37 307,267.05 307.25,266.55 307.5,266.24 307.75,266.73 308,266.97 308.25,266.26 308.5,267.18 308.75,268.89 309,266.91 309.25,267.54 309.5,266.18 309.75,268.36 310,267.19 310.25,266.37 310.5,264.77 310.75,265.07 311,266.01 311.25,266.05 311.5,265.61 311.75,266.79 312,265.95 312.25,267.18 312.5,265.79 312.75,265.69 313,265.29 313.25,266.17 313.5,266.84 313.75,264.91 314,266.47 314.25,264.81 314.5,266.2 314.75,264.86 315,267.28 315.25,265.19 315.5,265.52 315.75,266.33 316,265.98 316.25,266.35 316.5,265.54 316.75,265 317,265.73 317.25,266.33 317.5,265.24 317.75,266.72 318,266.46 318.25,265.47 318.5,266.05 318.75,266.9 319,267.91 319.25,266.59 319.5,266.66" fill="none" stroke="#ff0000" stroke-width="1" stroke-linejoin="round"/>
<text transform="translate(369.4,234.2) scale(0.99,1)" font-size="16.8" fill="#111" stroke="#111" stroke-width="0.15">D</text>
<line x1="408.65" y1="231.5" x2="408.65" y2="381.15" stroke="#444" stroke-width="1.15"/>
<line x1="408.65" y1="380.65" x2="678" y2="380.65" stroke="#444" stroke-width="1.15"/>
<line x1="408.65" y1="364.1" x2="411.65" y2="364.1" stroke="#444" stroke-width="1.15"/>
<text transform="translate(405.85,370.5)" font-size="7.7" text-anchor="end" fill="#222" stroke="#222" stroke-width="0.17">0</text>
<line x1="408.65" y1="342.13" x2="411.65" y2="342.13" stroke="#444" stroke-width="1.15"/>
<text transform="translate(405.85,348.53)" font-size="7.7" text-anchor="end" fill="#222" stroke="#222" stroke-width="0.17">16000</text>
<line x1="408.65" y1="320.16" x2="411.65" y2="320.16" stroke="#444" stroke-width="1.15"/>
<text transform="translate(405.85,326.56)" font-size="7.7" text-anchor="end" fill="#222" stroke="#222" stroke-width="0.17">32000</text>
<line x1="408.65" y1="298.19" x2="411.65" y2="298.19" stroke="#444" stroke-width="1.15"/>
<text transform="translate(405.85,304.59)" font-size="7.7" text-anchor="end" fill="#222" stroke="#222" stroke-width="0.17">48000</text>
<line x1="408.65" y1="276.22" x2="411.65" y2="276.22" stroke="#444" stroke-width="1.15"/>
<text transform="translate(405.85,282.62)" font-size="7.7" text-anchor="end" fill="#222" stroke="#222" stroke-width="0.17">64000</text>
<line x1="408.65" y1="254.25" x2="411.65" y2="254.25" stroke="#444" stroke-width="1.15"/>
<text transform="translate(405.85,260.65)" font-size="7.7" text-anchor="end" fill="#222" stroke="#222" stroke-width="0.17">80000</text>
<line x1="408.65" y1="232.28" x2="411.65" y2="232.28" stroke="#444" stroke-width="1.15"/>
<text transform="translate(405.85,238.68)" font-size="7.7" text-anchor="end" fill="#222" stroke="#222" stroke-width="0.17">96000</text>
<line x1="429.4" y1="380.65" x2="429.4" y2="377.65" stroke="#444" stroke-width="1.15"/>
<text transform="translate(427.2,390.8)" font-size="7.7" text-anchor="middle" fill="#222" stroke="#222" stroke-width="0.17">0</text>
<line x1="470.75" y1="380.65" x2="470.75" y2="377.65" stroke="#444" stroke-width="1.15"/>
<text transform="translate(468.55,390.8)" font-size="7.7" text-anchor="middle" fill="#222" stroke="#222" stroke-width="0.17">200</text>
<line x1="512.1" y1="380.65" x2="512.1" y2="377.65" stroke="#444" stroke-width="1.15"/>
<text transform="translate(509.9,390.8)" font-size="7.7" text-anchor="middle" fill="#222" stroke="#222" stroke-width="0.17">400</text>
<line x1="553.45" y1="380.65" x2="553.45" y2="377.65" stroke="#444" stroke-width="1.15"/>
<text transform="translate(551.25,390.8)" font-size="7.7" text-anchor="middle" fill="#222" stroke="#222" stroke-width="0.17">600</text>
<line x1="594.8" y1="380.65" x2="594.8" y2="377.65" stroke="#444" stroke-width="1.15"/>
<text transform="translate(592.6,390.8)" font-size="7.7" text-anchor="middle" fill="#222" stroke="#222" stroke-width="0.17">800</text>
<line x1="636.15" y1="380.65" x2="636.15" y2="377.65" stroke="#444" stroke-width="1.15"/>
<text transform="translate(633.95,390.8)" font-size="7.7" text-anchor="middle" fill="#222" stroke="#222" stroke-width="0.17">1000</text>
<line x1="677.5" y1="380.65" x2="677.5" y2="377.65" stroke="#444" stroke-width="1.15"/>
<text transform="translate(675.3,390.8)" font-size="7.7" text-anchor="middle" fill="#222" stroke="#222" stroke-width="0.17">1200</text>
<text transform="translate(567.8,406) scale(0.9416,1)" font-size="10.2" text-anchor="middle" textLength="117.25" lengthAdjust="spacing" fill="#222" stroke="#222" stroke-width="0.2">GLU concentration (µM)</text>
<text transform="translate(378.8,306.6) rotate(-90)" font-size="10.5" text-anchor="middle" fill="#222" stroke="#222" stroke-width="0.25" textLength="78" lengthAdjust="spacingAndGlyphs">Current (nA/cm<tspan dy="-3.5" font-size="6.5">2</tspan><tspan dy="3.5">)</tspan></text>
<text transform="translate(437.1,246.6) scale(0.8509,1)" font-size="8.2" textLength="57.35" lengthAdjust="spacing" fill="#111" stroke="#111" stroke-width="0.18">GABA channel</text>
<text transform="translate(437.1,256.4) scale(0.8472,1)" font-size="8.2" textLength="51.46" lengthAdjust="spacing" fill="#ff1010" stroke="#ff1010" stroke-width="0.18">GLU channel</text>
<line x1="433.53" y1="359.39" x2="433.53" y2="363.39" stroke="#f08080" stroke-width="1"/>
<line x1="431.73" y1="359.39" x2="435.33" y2="359.39" stroke="#f08080" stroke-width="1"/>
<line x1="431.73" y1="363.39" x2="435.33" y2="363.39" stroke="#f08080" stroke-width="1"/>
<line x1="439.74" y1="354.09" x2="439.74" y2="358.09" stroke="#f08080" stroke-width="1"/>
<line x1="437.94" y1="354.09" x2="441.54" y2="354.09" stroke="#f08080" stroke-width="1"/>
<line x1="437.94" y1="358.09" x2="441.54" y2="358.09" stroke="#f08080" stroke-width="1"/>
<line x1="450.07" y1="346.8" x2="450.07" y2="351.8" stroke="#f08080" stroke-width="1"/>
<line x1="448.27" y1="346.8" x2="451.88" y2="346.8" stroke="#f08080" stroke-width="1"/>
<line x1="448.27" y1="351.8" x2="451.88" y2="351.8" stroke="#f08080" stroke-width="1"/>
<line x1="470.75" y1="326.71" x2="470.75" y2="337.51" stroke="#f08080" stroke-width="1"/>
<line x1="468.95" y1="326.71" x2="472.55" y2="326.71" stroke="#f08080" stroke-width="1"/>
<line x1="468.95" y1="337.51" x2="472.55" y2="337.51" stroke="#f08080" stroke-width="1"/>
<line x1="491.42" y1="314.5" x2="491.42" y2="328.1" stroke="#f08080" stroke-width="1"/>
<line x1="489.62" y1="314.5" x2="493.22" y2="314.5" stroke="#f08080" stroke-width="1"/>
<line x1="489.62" y1="328.1" x2="493.22" y2="328.1" stroke="#f08080" stroke-width="1"/>
<line x1="512.1" y1="304.8" x2="512.1" y2="322.4" stroke="#f08080" stroke-width="1"/>
<line x1="510.3" y1="304.8" x2="513.9" y2="304.8" stroke="#f08080" stroke-width="1"/>
<line x1="510.3" y1="322.4" x2="513.9" y2="322.4" stroke="#f08080" stroke-width="1"/>
<line x1="532.77" y1="296" x2="532.77" y2="315.6" stroke="#f08080" stroke-width="1"/>
<line x1="530.98" y1="296" x2="534.57" y2="296" stroke="#f08080" stroke-width="1"/>
<line x1="530.98" y1="315.6" x2="534.57" y2="315.6" stroke="#f08080" stroke-width="1"/>
<line x1="553.45" y1="286.4" x2="553.45" y2="309.6" stroke="#f08080" stroke-width="1"/>
<line x1="551.65" y1="286.4" x2="555.25" y2="286.4" stroke="#f08080" stroke-width="1"/>
<line x1="551.65" y1="309.6" x2="555.25" y2="309.6" stroke="#f08080" stroke-width="1"/>
<line x1="574.12" y1="280.39" x2="574.12" y2="304.19" stroke="#f08080" stroke-width="1"/>
<line x1="572.33" y1="280.39" x2="575.92" y2="280.39" stroke="#f08080" stroke-width="1"/>
<line x1="572.33" y1="304.19" x2="575.92" y2="304.19" stroke="#f08080" stroke-width="1"/>
<line x1="594.8" y1="270.79" x2="594.8" y2="298.79" stroke="#f08080" stroke-width="1"/>
<line x1="593" y1="270.79" x2="596.6" y2="270.79" stroke="#f08080" stroke-width="1"/>
<line x1="593" y1="298.79" x2="596.6" y2="298.79" stroke="#f08080" stroke-width="1"/>
<line x1="615.47" y1="264.49" x2="615.47" y2="293.89" stroke="#f08080" stroke-width="1"/>
<line x1="613.67" y1="264.49" x2="617.27" y2="264.49" stroke="#f08080" stroke-width="1"/>
<line x1="613.67" y1="293.89" x2="617.27" y2="293.89" stroke="#f08080" stroke-width="1"/>
<line x1="636.15" y1="261.49" x2="636.15" y2="289.49" stroke="#f08080" stroke-width="1"/>
<line x1="634.35" y1="261.49" x2="637.95" y2="261.49" stroke="#f08080" stroke-width="1"/>
<line x1="634.35" y1="289.49" x2="637.95" y2="289.49" stroke="#f08080" stroke-width="1"/>
<line x1="656.82" y1="259" x2="656.82" y2="287.6" stroke="#f08080" stroke-width="1"/>
<line x1="655.02" y1="259" x2="658.62" y2="259" stroke="#f08080" stroke-width="1"/>
<line x1="655.02" y1="287.6" x2="658.62" y2="287.6" stroke="#f08080" stroke-width="1"/>
<line x1="433.53" y1="358" x2="433.53" y2="361" stroke="#555" stroke-width="1"/>
<line x1="431.73" y1="358" x2="435.33" y2="358" stroke="#555" stroke-width="1"/>
<line x1="431.73" y1="361" x2="435.33" y2="361" stroke="#555" stroke-width="1"/>
<line x1="439.74" y1="350.1" x2="439.74" y2="353.1" stroke="#555" stroke-width="1"/>
<line x1="437.94" y1="350.1" x2="441.54" y2="350.1" stroke="#555" stroke-width="1"/>
<line x1="437.94" y1="353.1" x2="441.54" y2="353.1" stroke="#555" stroke-width="1"/>
<line x1="450.07" y1="340.1" x2="450.07" y2="344.1" stroke="#555" stroke-width="1"/>
<line x1="448.27" y1="340.1" x2="451.88" y2="340.1" stroke="#555" stroke-width="1"/>
<line x1="448.27" y1="344.1" x2="451.88" y2="344.1" stroke="#555" stroke-width="1"/>
<line x1="470.75" y1="321.7" x2="470.75" y2="329.5" stroke="#555" stroke-width="1"/>
<line x1="468.95" y1="321.7" x2="472.55" y2="321.7" stroke="#555" stroke-width="1"/>
<line x1="468.95" y1="329.5" x2="472.55" y2="329.5" stroke="#555" stroke-width="1"/>
<line x1="491.42" y1="301.59" x2="491.42" y2="311.59" stroke="#555" stroke-width="1"/>
<line x1="489.62" y1="301.59" x2="493.22" y2="301.59" stroke="#555" stroke-width="1"/>
<line x1="489.62" y1="311.59" x2="493.22" y2="311.59" stroke="#555" stroke-width="1"/>
<line x1="512.1" y1="290.88" x2="512.1" y2="304.48" stroke="#555" stroke-width="1"/>
<line x1="510.3" y1="290.88" x2="513.9" y2="290.88" stroke="#555" stroke-width="1"/>
<line x1="510.3" y1="304.48" x2="513.9" y2="304.48" stroke="#555" stroke-width="1"/>
<line x1="532.77" y1="285.29" x2="532.77" y2="299.29" stroke="#555" stroke-width="1"/>
<line x1="530.98" y1="285.29" x2="534.57" y2="285.29" stroke="#555" stroke-width="1"/>
<line x1="530.98" y1="299.29" x2="534.57" y2="299.29" stroke="#555" stroke-width="1"/>
<line x1="553.45" y1="273" x2="553.45" y2="289.6" stroke="#555" stroke-width="1"/>
<line x1="551.65" y1="273" x2="555.25" y2="273" stroke="#555" stroke-width="1"/>
<line x1="551.65" y1="289.6" x2="555.25" y2="289.6" stroke="#555" stroke-width="1"/>
<line x1="574.12" y1="266.51" x2="574.12" y2="282.91" stroke="#555" stroke-width="1"/>
<line x1="572.33" y1="266.51" x2="575.92" y2="266.51" stroke="#555" stroke-width="1"/>
<line x1="572.33" y1="282.91" x2="575.92" y2="282.91" stroke="#555" stroke-width="1"/>
<line x1="594.8" y1="262.1" x2="594.8" y2="278.1" stroke="#555" stroke-width="1"/>
<line x1="593" y1="262.1" x2="596.6" y2="262.1" stroke="#555" stroke-width="1"/>
<line x1="593" y1="278.1" x2="596.6" y2="278.1" stroke="#555" stroke-width="1"/>
<line x1="615.47" y1="256.29" x2="615.47" y2="272.69" stroke="#555" stroke-width="1"/>
<line x1="613.67" y1="256.29" x2="617.27" y2="256.29" stroke="#555" stroke-width="1"/>
<line x1="613.67" y1="272.69" x2="617.27" y2="272.69" stroke="#555" stroke-width="1"/>
<line x1="636.15" y1="251.1" x2="636.15" y2="267.1" stroke="#555" stroke-width="1"/>
<line x1="634.35" y1="251.1" x2="637.95" y2="251.1" stroke="#555" stroke-width="1"/>
<line x1="634.35" y1="267.1" x2="637.95" y2="267.1" stroke="#555" stroke-width="1"/>
<line x1="656.82" y1="248.69" x2="656.82" y2="267.09" stroke="#555" stroke-width="1"/>
<line x1="655.02" y1="248.69" x2="658.62" y2="248.69" stroke="#555" stroke-width="1"/>
<line x1="655.02" y1="267.09" x2="658.62" y2="267.09" stroke="#555" stroke-width="1"/>
<circle cx="433.53" cy="359.5" r="1.9" fill="#000"/>
<circle cx="439.74" cy="351.6" r="1.9" fill="#000"/>
<circle cx="450.07" cy="342.1" r="1.9" fill="#000"/>
<circle cx="470.75" cy="325.6" r="1.9" fill="#000"/>
<circle cx="491.42" cy="306.59" r="1.9" fill="#000"/>
<circle cx="512.1" cy="297.68" r="1.9" fill="#000"/>
<circle cx="532.77" cy="292.29" r="1.9" fill="#000"/>
<circle cx="553.45" cy="281.3" r="1.9" fill="#000"/>
<circle cx="574.12" cy="274.71" r="1.9" fill="#000"/>
<circle cx="594.8" cy="270.1" r="1.9" fill="#000"/>
<circle cx="615.47" cy="264.49" r="1.9" fill="#000"/>
<circle cx="636.15" cy="259.1" r="1.9" fill="#000"/>
<circle cx="656.82" cy="257.89" r="1.9" fill="#000"/>
<circle cx="433.53" cy="361.39" r="1.9" fill="#ff0000"/>
<circle cx="439.74" cy="356.09" r="1.9" fill="#ff0000"/>
<circle cx="450.07" cy="349.3" r="1.9" fill="#ff0000"/>
<circle cx="470.75" cy="332.11" r="1.9" fill="#ff0000"/>
<circle cx="491.42" cy="321.3" r="1.9" fill="#ff0000"/>
<circle cx="512.1" cy="313.6" r="1.9" fill="#ff0000"/>
<circle cx="532.77" cy="305.8" r="1.9" fill="#ff0000"/>
<circle cx="553.45" cy="298" r="1.9" fill="#ff0000"/>
<circle cx="574.12" cy="292.29" r="1.9" fill="#ff0000"/>
<circle cx="594.8" cy="284.79" r="1.9" fill="#ff0000"/>
<circle cx="615.47" cy="279.19" r="1.9" fill="#ff0000"/>
<circle cx="636.15" cy="275.49" r="1.9" fill="#ff0000"/>
<circle cx="656.82" cy="273.3" r="1.9" fill="#ff0000"/>
<polyline points="433.53,358.88 435.81,356.15 438.08,353.51 440.35,350.96 442.62,348.49 444.89,346.09 447.16,343.78 449.43,341.53 451.7,339.36 453.97,337.25 456.24,335.2 458.51,333.21 460.78,331.28 463.05,329.4 465.32,327.57 467.59,325.8 469.86,324.07 472.13,322.39 474.4,320.75 476.67,319.16 478.94,317.6 481.21,316.09 483.48,314.61 485.75,313.17 488.02,311.77 490.29,310.4 492.56,309.06 494.83,307.76 497.1,306.48 499.37,305.23 501.64,304.02 503.91,302.82 506.18,301.66 508.45,300.52 510.72,299.41 512.99,298.32 515.26,297.25 517.53,296.21 519.8,295.19 522.07,294.19 524.34,293.2 526.61,292.24 528.88,291.3 531.15,290.38 533.42,289.48 535.69,288.59 537.96,287.72 540.23,286.86 542.5,286.03 544.77,285.21 547.04,284.4 549.31,283.61 551.58,282.83 553.85,282.07 556.12,281.32 558.39,280.58 560.66,279.86 562.93,279.15 565.2,278.45 567.47,277.76 569.74,277.09 572.01,276.43 574.28,275.77 576.55,275.13 578.82,274.5 581.09,273.88 583.36,273.27 585.63,272.67 587.9,272.08 590.17,271.49 592.44,270.92 594.71,270.36 596.98,269.8 599.25,269.26 601.52,268.72 603.79,268.19 606.06,267.66 608.33,267.15 610.6,266.64 612.87,266.14 615.14,265.65 617.41,265.16 619.68,264.69 621.95,264.21 624.22,263.75 626.49,263.29 628.76,262.84 631.03,262.39 633.3,261.95 635.57,261.52 637.84,261.09 640.11,260.67 642.38,260.25 644.65,259.84 646.92,259.44 649.19,259.03 651.46,258.64 653.73,258.25 656,257.86 658.27,257.48" fill="none" stroke="#3548e6" stroke-width="1" stroke-linejoin="round" stroke-dasharray="5 3.5"/>
<polyline points="433.53,360.38 435.81,358.42 438.08,356.5 440.35,354.62 442.62,352.79 444.89,351.01 447.16,349.26 449.43,347.56 451.7,345.9 453.97,344.27 456.24,342.68 458.51,341.12 460.78,339.6 463.05,338.11 465.32,336.65 467.59,335.23 469.86,333.83 472.13,332.46 474.4,331.12 476.67,329.81 478.94,328.52 481.21,327.26 483.48,326.03 485.75,324.81 488.02,323.62 490.29,322.46 492.56,321.32 494.83,320.19 497.1,319.09 499.37,318.01 501.64,316.95 503.91,315.91 506.18,314.88 508.45,313.88 510.72,312.89 512.99,311.92 515.26,310.96 517.53,310.03 519.8,309.1 522.07,308.2 524.34,307.31 526.61,306.43 528.88,305.57 531.15,304.72 533.42,303.89 535.69,303.07 537.96,302.26 540.23,301.47 542.5,300.68 544.77,299.91 547.04,299.15 549.31,298.41 551.58,297.67 553.85,296.95 556.12,296.23 558.39,295.53 560.66,294.84 562.93,294.16 565.2,293.48 567.47,292.82 569.74,292.17 572.01,291.52 574.28,290.89 576.55,290.26 578.82,289.65 581.09,289.04 583.36,288.44 585.63,287.84 587.9,287.26 590.17,286.68 592.44,286.12 594.71,285.55 596.98,285 599.25,284.45 601.52,283.91 603.79,283.38 606.06,282.86 608.33,282.34 610.6,281.83 612.87,281.32 615.14,280.82 617.41,280.33 619.68,279.84 621.95,279.36 624.22,278.88 626.49,278.41 628.76,277.95 631.03,277.49 633.3,277.04 635.57,276.59 637.84,276.15 640.11,275.71 642.38,275.28 644.65,274.85 646.92,274.43 649.19,274.02 651.46,273.6 653.73,273.2 656,272.79 658.27,272.39" fill="none" stroke="#3548e6" stroke-width="1" stroke-linejoin="round" stroke-dasharray="5 3.5"/>
<line x1="590.5" y1="307.8" x2="590.5" y2="361" stroke="#444" stroke-width="1.15"/>
<line x1="590.5" y1="360.5" x2="674.6" y2="360.5" stroke="#444" stroke-width="1.15"/>
<line x1="590.5" y1="356.4" x2="592.7" y2="356.4" stroke="#444" stroke-width="1.15"/>
<text transform="translate(589,358.7)" font-size="6.4" text-anchor="end" fill="#222" stroke="#222" stroke-width="0.14">0</text>
<line x1="590.5" y1="340.8" x2="592.7" y2="340.8" stroke="#444" stroke-width="1.15"/>
<text transform="translate(589,343.1)" font-size="6.4" text-anchor="end" fill="#222" stroke="#222" stroke-width="0.14">2000</text>
<line x1="590.5" y1="325.2" x2="592.7" y2="325.2" stroke="#444" stroke-width="1.15"/>
<text transform="translate(589,327.5)" font-size="6.4" text-anchor="end" fill="#222" stroke="#222" stroke-width="0.14">4000</text>
<line x1="590.5" y1="309.6" x2="592.7" y2="309.6" stroke="#444" stroke-width="1.15"/>
<text transform="translate(589,311.9)" font-size="6.4" text-anchor="end" fill="#222" stroke="#222" stroke-width="0.14">6000</text>
<line x1="596.65" y1="360.5" x2="596.65" y2="358.3" stroke="#444" stroke-width="1.15"/>
<text transform="translate(596.65,366.7)" font-size="6.4" text-anchor="middle" fill="#222" stroke="#222" stroke-width="0.14">0</text>
<line x1="614.61" y1="360.5" x2="614.61" y2="358.3" stroke="#444" stroke-width="1.15"/>
<text transform="translate(614.61,366.7)" font-size="6.4" text-anchor="middle" fill="#222" stroke="#222" stroke-width="0.14">75</text>
<line x1="632.57" y1="360.5" x2="632.57" y2="358.3" stroke="#444" stroke-width="1.15"/>
<text transform="translate(632.57,366.7)" font-size="6.4" text-anchor="middle" fill="#222" stroke="#222" stroke-width="0.14">150</text>
<line x1="650.54" y1="360.5" x2="650.54" y2="358.3" stroke="#444" stroke-width="1.15"/>
<text transform="translate(650.54,366.7)" font-size="6.4" text-anchor="middle" fill="#222" stroke="#222" stroke-width="0.14">225</text>
<line x1="668.5" y1="360.5" x2="668.5" y2="358.3" stroke="#444" stroke-width="1.15"/>
<text transform="translate(668.5,366.7)" font-size="6.4" text-anchor="middle" fill="#222" stroke="#222" stroke-width="0.14">300</text>
<text transform="translate(632.6,378) scale(0.9266,1)" font-size="8.6" text-anchor="middle" textLength="98.86" lengthAdjust="spacing" fill="#222" stroke="#222" stroke-width="0.19">GLU concentration (µM)</text>
<text transform="translate(570.6,333.3) rotate(-90)" font-size="8.6" text-anchor="middle" fill="#222" stroke="#222" stroke-width="0.25" textLength="64" lengthAdjust="spacingAndGlyphs">Current (nA/cm<tspan dy="-3" font-size="5.3">2</tspan><tspan dy="3">)</tspan></text>
<line x1="601.44" y1="353" x2="601.44" y2="355" stroke="#ee3333" stroke-width="0.9"/>
<line x1="608.62" y1="349.5" x2="608.62" y2="351.5" stroke="#ee3333" stroke-width="0.9"/>
<line x1="620.6" y1="344.5" x2="620.6" y2="347.5" stroke="#ee3333" stroke-width="0.9"/>
<line x1="644.55" y1="330.3" x2="644.55" y2="338.3" stroke="#ee3333" stroke-width="0.9"/>
<line x1="668.5" y1="321" x2="668.5" y2="331.6" stroke="#ee3333" stroke-width="0.9"/>
<line x1="601.44" y1="351.4" x2="601.44" y2="353.4" stroke="#222" stroke-width="0.9"/>
<line x1="608.62" y1="346.6" x2="608.62" y2="348.6" stroke="#222" stroke-width="0.9"/>
<line x1="620.6" y1="339.6" x2="620.6" y2="342.6" stroke="#222" stroke-width="0.9"/>
<line x1="644.55" y1="325.4" x2="644.55" y2="332.4" stroke="#222" stroke-width="0.9"/>
<line x1="668.5" y1="311.1" x2="668.5" y2="321.1" stroke="#222" stroke-width="0.9"/>
<polyline points="600.24,352.82 669.7,313.68" fill="none" stroke="#2a46e6" stroke-width="1.2" stroke-linejoin="round" stroke-dasharray="3.5 2.5"/>
<polyline points="600.24,354.04 669.7,325.09" fill="none" stroke="#2a46e6" stroke-width="1.2" stroke-linejoin="round" stroke-dasharray="3.5 2.5"/>
<circle cx="601.44" cy="352.4" r="1.4" fill="#000"/>
<circle cx="608.62" cy="347.6" r="1.4" fill="#000"/>
<circle cx="620.6" cy="341.1" r="1.4" fill="#000"/>
<circle cx="644.55" cy="328.9" r="1.4" fill="#000"/>
<circle cx="668.5" cy="316.1" r="1.4" fill="#000"/>
<circle cx="601.44" cy="354" r="1.4" fill="#ff0000"/>
<circle cx="608.62" cy="350.5" r="1.4" fill="#ff0000"/>
<circle cx="620.6" cy="346" r="1.4" fill="#ff0000"/>
<circle cx="644.55" cy="334.3" r="1.4" fill="#ff0000"/>
<circle cx="668.5" cy="326.3" r="1.4" fill="#ff0000"/>
</svg>
</body></html>
